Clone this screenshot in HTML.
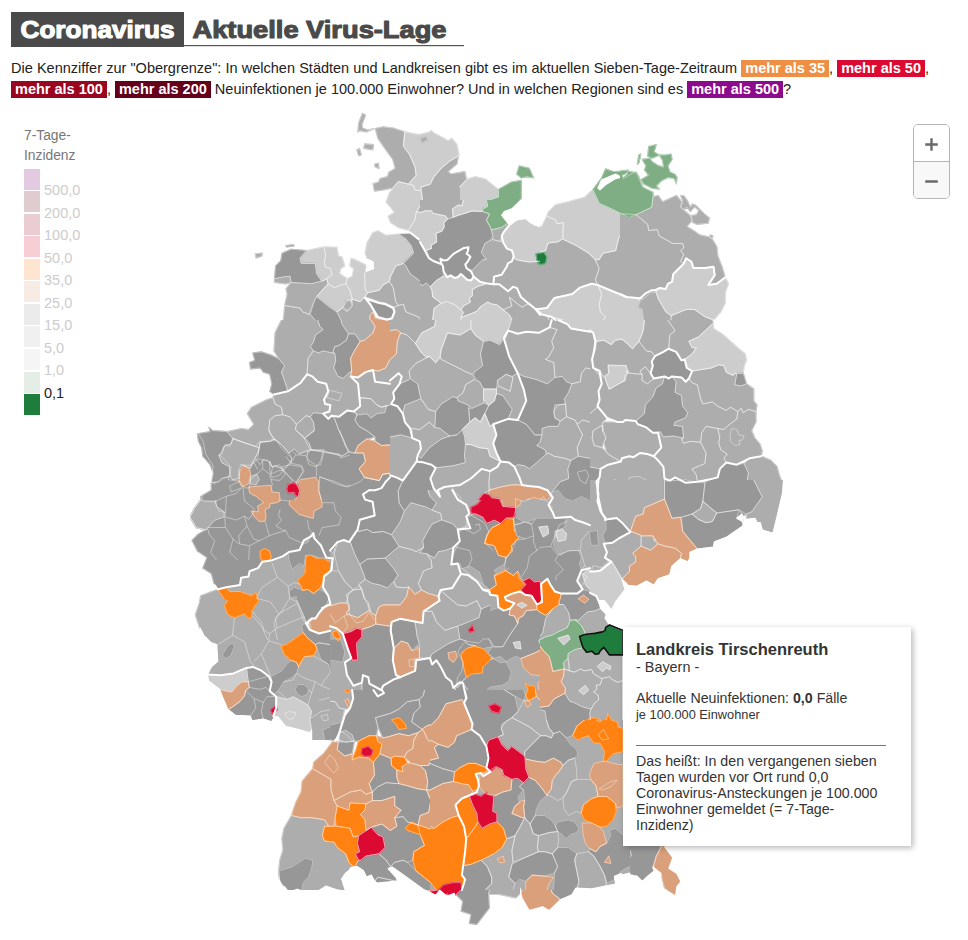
<!DOCTYPE html>
<html lang="de">
<head>
<meta charset="utf-8">
<title>Coronavirus - Aktuelle Virus-Lage</title>
<style>
html,body{margin:0;padding:0;background:#fff;}
body{width:968px;height:940px;position:relative;overflow:hidden;font-family:"Liberation Sans",sans-serif;color:#222;}
#hd{position:absolute;left:0;top:0;width:968px;height:60px;}
#intro{position:absolute;left:11px;top:58px;width:950px;font-size:14.5px;line-height:21px;color:#222;white-space:nowrap;}
#intro b{color:#fff;font-weight:bold;padding:0 4px;display:inline-block;line-height:16.5px;height:16.5px;}
.c35{background:#ef8f45;}
.c50{background:#dc0a32;}
.c100{background:#9a0520;}
.c200{background:#64001a;}
.c500{background:#8c0a8c;}
#legend{position:absolute;left:24px;top:126px;font-size:13.8px;color:#777;line-height:20.4px;}
#legend .t{position:absolute;left:0;top:0;white-space:nowrap;}
#legend .sw{position:absolute;left:0;width:16px;height:21px;}
#legend .lb{position:absolute;left:20px;font-size:14.5px;color:#ccc;white-space:nowrap;line-height:16px;}
#zoom{position:absolute;left:913px;top:124px;width:35px;height:73px;border:1px solid #b4b4b4;border-radius:5px;background:#fff;overflow:hidden;}
#zoom .a{position:absolute;left:0;top:0;width:35px;height:36px;background:#fff;border-bottom:1px solid #b4b4b4;}
#zoom .b{position:absolute;left:0;top:37px;width:35px;height:36px;background:#f8f8f8;}
#map{position:absolute;left:0;top:0;width:968px;height:940px;}
#tip{position:absolute;left:623px;top:627px;width:288px;height:219px;background:#fff;box-shadow:2px 2px 6px rgba(0,0,0,0.28);color:#333;font-size:14px;line-height:16px;}
#tip .h{position:absolute;left:13px;top:12px;font-size:16.5px;font-weight:bold;color:#333;white-space:nowrap;line-height:20px;}
#tip .s{position:absolute;left:13px;top:32px;font-size:14.4px;white-space:nowrap;line-height:16px;}
#tip .n{position:absolute;left:13px;top:63.4px;font-size:14.2px;white-space:nowrap;line-height:16px;}
#tip .n2{position:absolute;left:13px;top:79.9px;font-size:12.8px;white-space:nowrap;line-height:16px;}
#tip .hr{position:absolute;left:13px;top:118px;width:250px;height:1px;background:#777;}
#tip .d{position:absolute;left:13px;top:125.8px;width:250px;font-size:14.2px;line-height:16.1px;}
</style>
</head>
<body>
<svg id="map" width="968" height="940" viewBox="0 0 968 940">
<!--MAP-->
<clipPath id="c0"><rect x="240" y="100" width="239.98" height="239.98"/></clipPath>
<g stroke-linejoin="round" stroke-width="1.2" clip-path="url(#c0)">
<polygon points="362.5,113.3 365.6,115.3 362,124.3 362.5,128.1 367.6,130.1 374,128.6 366.4,131.9 360,130.6 357.9,131.9 358.7,123" fill="#adadad" stroke="#adadad"/>
<polygon points="364.6,143.9 373.5,144.7 372.8,149.8 363.8,148.5" fill="#adadad" stroke="#adadad"/>
<polygon points="356.9,149.8 359.5,148.5 361.3,154.9 358.7,155.7" fill="#adadad" stroke="#adadad"/>
<polygon points="374.5,164.3 378.4,163.1 379.1,168.4 375.3,166.9" fill="#adadad" stroke="#adadad"/>
<polygon points="255.3,253.9 262.5,253.2 261.7,256.2 256.1,257.8" fill="#adadad" stroke="#adadad"/>
<polygon points="375.3,128.6 383,126.8 393.2,128.1 404.7,131.9 403.4,146 409.8,154.9 414.9,166.4 416.2,175.3 408.5,184.2 398.3,181.7 391.9,188.1 383,189.9 374.5,191.1 373,183.7 378.6,182.2 379.9,178.6 387.6,176.6 388.8,172.2 395.2,168.4 392.7,159.2 386.8,151.1 377.9,138.3" fill="#adadad" stroke="#adadad"/>
<polygon points="421.3,186.8 430.2,184.2 434,176.6 441.7,167.7 449.3,161.3 458.3,156.7 457,163.8 448.1,171.5 450.6,174 464.7,171.5 465.9,176.6 462.1,181.7 459.6,186.8 464.7,193.2 464.7,202.1 458.3,205.9 453.2,207.2 451.9,216.2 446.8,217.4 444.2,214.9 434,212.3 427.6,211.1 416.2,212.3 422.5,202.1 421.3,190.6" fill="#adadad" stroke="#adadad"/>
<polygon points="403.4,263.4 405.9,265.9 409.8,273.6 418.7,280 426.4,286.4 430.2,283.8 434,294 441.7,303 439.1,308.1 434,311.9 435.3,324.7 428.9,328.5 422.5,323.4 418.7,317 405.9,311.9 403.4,304.2 398.3,305.5 395.7,301.7 393.2,287.6 389.3,281.3 390.6,276.2 395.7,265.9" fill="#adadad" stroke="#adadad"/>
<polygon points="367.6,292.7 379.1,290.2 383,285.1 389.3,281.3 393.2,287.6 395.7,301.7 398.3,305.5 393.2,306.8 385.5,303 379.1,301.7 365.1,296.6" fill="#adadad" stroke="#adadad"/>
<polygon points="393.2,308.1 398.3,305.5 403.4,304.2 405.9,311.9 418.7,317 422.5,323.4 421.3,329.8 416.2,332.3 411,340 400.8,340 399.6,332.3 390.6,324.7 391.9,318.3 394.5,311.9" fill="#adadad" stroke="#adadad"/>
<polygon points="462.1,311.9 469.8,304.2 480,301.7 480,317 471,322.1 462.1,317" fill="#adadad" stroke="#adadad"/>
<polygon points="274.5,278.7 280.8,277.4 289.8,276.2 291.1,282.5 286,283.8 274.5,282.5" fill="#adadad" stroke="#adadad"/>
<polygon points="291.1,282.5 311.5,283.8 321.7,281.3 326.8,278.7 328.1,283.8 316.6,296.6 314,301.7 308.9,314.4 302.5,311.9 300,308.1 284.7,305.5 287.2,294 286,288.9" fill="#adadad" stroke="#adadad"/>
<polygon points="352.3,299.1 360,301.7 365.1,296.6 370.2,304.2 374,310.6 369.7,315.7 370.2,321.6 374,322.1 372.8,334.9 367.6,340 352.3,340 348.5,332.3 340.8,329.8 340.8,319.6 337,311.9 342.1,308.1 347.2,311.9 352.3,305.5" fill="#adadad" stroke="#adadad"/>
<polygon points="284.7,305.5 300,308.1 302.5,311.9 308.9,314.4 310.2,314.4 316.6,322.1 317.9,329.8 314,340 275.7,340 278.3,329.8 283.4,319.6" fill="#adadad" stroke="#adadad"/>
<polygon points="286,245.5 293.6,244.8 294.1,246 286.5,246.8" fill="#979797" stroke="#979797"/>
<polygon points="404.7,131.9 418.7,134.5 427.6,132.7 431.5,130.6 433.3,132.7 441.7,137 448.1,140.8 451.9,138.3 457,144.7 459,154.9 449.3,161.3 441.7,167.7 434,176.6 430.2,184.2 421.3,186.8 420,190.6 414.9,189.9 413.6,185.5 408.5,184.2 416.2,175.3 414.9,166.4 409.8,154.9 403.4,146" fill="#cdcdcd" stroke="#cdcdcd"/>
<polygon points="398.3,181.7 408.5,184.2 413.6,185.5 414.9,189.9 420,190.6 421.3,190.6 422.5,202.1 416.2,212.3 414.9,220 408.5,230.2 398.3,227.6 390.6,222.5 388.1,216.2 394.5,212.3 390.6,207.2 386,202.1 389.3,193.2" fill="#cdcdcd" stroke="#cdcdcd"/>
<polygon points="416.2,212.3 427.6,211.1 434,212.3 444.2,214.9 446.8,217.4 444.2,225.1 445.5,230.2 441.7,231.5 436.6,239.1 431.5,248.1 426.4,249.3 418.7,239.1 409.8,232.2 408.5,230.2 414.9,220" fill="#cdcdcd" stroke="#cdcdcd"/>
<polygon points="446.8,217.4 451.9,216.2 453.2,207.2 458.3,205.9 464.7,202.1 480,209.8 480,232.8 469.8,240.4 464.7,246.8 457,248.1 444.2,258.3 440.4,263.4 434,259.6 426.4,249.3 431.5,248.1 436.6,239.1 441.7,231.5 445.5,230.2 444.2,225.1" fill="#979797" stroke="#979797"/>
<polygon points="441.7,259.6 444.2,263.4 449.3,258.3 457,253.2 464.7,248.1 467.2,253.2 465.9,263.4 469.8,271 473.6,278.7 464.7,276.2 459.6,274.9 455.7,278.7 450.6,274.9 448.1,277.4 443,268.5" fill="#979797" stroke="#979797"/>
<polygon points="464.7,246.8 469.8,240.4 480,232.8 480,273.6 473.6,278.7 469.8,271 465.9,263.4 467.2,253.2" fill="#979797" stroke="#979797"/>
<polygon points="377.9,230.7 385.5,235.3 398.3,234 405.9,239.1 411,245.5 413.6,253.2 405.9,260.8 403.4,263.4 395.7,265.9 390.6,276.2 389.3,281.3 383,285.1 379.1,290.2 367.6,292.7 365.1,288.9 364.6,273.6 366.4,271 373.3,268.5 372.8,262.1 367.6,259.6 365.1,253.2 366.9,243 372.8,232.8" fill="#cdcdcd" stroke="#cdcdcd"/>
<polygon points="398.3,234 409.8,232.8 418.7,239.9 426.4,250.6 434,260.3 441.7,264.7 443,269.8 436.6,276.2 430.2,283.8 426.4,286.4 418.7,280 409.8,273.6 405.9,265.9 403.4,263.4 405.9,260.8 413.6,253.2 411,245.5 405.9,239.1" fill="#979797" stroke="#979797"/>
<polygon points="443,269.8 448.1,277.4 450.6,274.9 455.7,278.7 459.6,274.9 464.7,276.2 473.6,280 480,278.7 480,301.7 469.8,304.2 462.1,311.9 457,306.8 449.3,301.7 441.7,303 434,294 430.2,283.8 436.6,276.2" fill="#cdcdcd" stroke="#cdcdcd"/>
<polygon points="365.1,297.9 367.6,299.1 379.1,303 385.5,304.2 393.2,308.1 394.5,311.9 391.9,318.3 386.8,319.6 377.9,317 374,310.6 370.2,304.2" fill="#979797" stroke="#979797"/>
<polygon points="441.7,303 449.3,301.7 457,306.8 462.1,311.9 462.1,317 471,322.1 469.8,329.8 474.9,340 418.7,340 422.5,329.8 428.9,328.5 435.3,324.7 434,311.9 439.1,308.1" fill="#cdcdcd" stroke="#cdcdcd"/>
<polygon points="351.1,258.3 354.9,259.6 362.5,263.4 367.6,265.9 366.4,271 364.6,273.6 365.1,288.9 367.6,292.7 365.1,296.6 360,301.7 352.3,299.1 349.8,290.2 345.9,283.8 347.2,278.7 352.3,276.2 353.6,268.5 349.8,265.9" fill="#cdcdcd" stroke="#cdcdcd"/>
<polygon points="324.2,246.8 337,247.3 338.3,255.7 342.1,257 344.7,265.9 340.8,268.5 339.6,273.6 347.2,278.7 345.9,283.8 340.8,285.1 334.5,287.6 328.1,283.8 326.8,278.7 331.9,274.9 330.6,268.5 325.5,267.2 324.2,263.4 325.5,255.7" fill="#cdcdcd" stroke="#cdcdcd"/>
<polygon points="306.4,250.6 324.2,246.8 325.5,255.7 324.2,263.4 325.5,267.2 330.6,268.5 331.9,274.9 326.8,278.7 321.7,281.3 316.6,273.6 315.3,263.4 301.3,263.4 300,258.3" fill="#cdcdcd" stroke="#cdcdcd"/>
<polygon points="274.5,278.7 275.7,265.9 280.8,260.8 282.1,253.2 291.1,249.3 306.4,250.6 300,258.3 301.3,263.4 315.3,263.4 316.6,273.6 321.7,281.3 311.5,283.8 291.1,282.5 289.8,276.2 280.8,277.4" fill="#979797" stroke="#979797"/>
<polygon points="328.1,283.8 334.5,287.6 340.8,285.1 345.9,283.8 349.8,290.2 352.3,299.1 347.2,300.4 342.1,308.1 337,311.9 329.4,306.8 316.6,296.6" fill="#cdcdcd" stroke="#cdcdcd"/>
<polygon points="314,301.7 316.6,296.6 329.4,306.8 337,311.9 340.8,319.6 340.8,329.8 348.5,332.3 352.3,340 314,340 317.9,329.8 316.6,322.1 310.2,314.4" fill="#979797" stroke="#979797"/>
<polygon points="420,138.3 426.4,136.3 427.6,140.3 421.8,142.9" fill="#adadad" stroke="#adadad"/>
<polygon points="344.7,301.2 349.8,300.4 352.3,305.5 348.5,310.6 343.4,308.1" fill="#adadad" stroke="#adadad"/>
<polygon points="372.8,311.9 375.3,318.3 386.8,320.8 390.6,324.7 399.6,332.3 394.5,336.2 390.6,333.6 388.1,340 367.6,340 372.8,334.9 374,322.1 370.2,321.6 369.7,315.7" fill="#d9a07b" stroke="#d9a07b"/>
</g>
<path d="M362.5,113.3L365.6,115.3L362,124.3L362.5,128.1L367.6,130.1L374,128.6L366.4,131.9L360,130.6L357.9,131.9L358.7,123L362.5,113.3M364.6,143.9L373.5,144.7L372.8,149.8L363.8,148.5L364.6,143.9M356.9,149.8L359.5,148.5L361.3,154.9L358.7,155.7L356.9,149.8M374.5,164.3L378.4,163.1L379.1,168.4L375.3,166.9L374.5,164.3M255.3,253.9L262.5,253.2L261.7,256.2L256.1,257.8L255.3,253.9M375.3,128.6L383,126.8L393.2,128.1L404.7,131.9L403.4,146L409.8,154.9L414.9,166.4L416.2,175.3L408.5,184.2L398.3,181.7L391.9,188.1L383,189.9L374.5,191.1L373,183.7L378.6,182.2L379.9,178.6L387.6,176.6L388.8,172.2L395.2,168.4L392.7,159.2L386.8,151.1L377.9,138.3L375.3,128.6M421.3,186.8L430.2,184.2L434,176.6L441.7,167.7L449.3,161.3L458.3,156.7L457,163.8L448.1,171.5L450.6,174L464.7,171.5L465.9,176.6L462.1,181.7L459.6,186.8L464.7,193.2L464.7,202.1L458.3,205.9L453.2,207.2L451.9,216.2L446.8,217.4L444.2,214.9L434,212.3L427.6,211.1L416.2,212.3L422.5,202.1L421.3,190.6L421.3,186.8M403.4,263.4L405.9,265.9L409.8,273.6L418.7,280L426.4,286.4L430.2,283.8L434,294L441.7,303L439.1,308.1L434,311.9L435.3,324.7L428.9,328.5L422.5,323.4L418.7,317L405.9,311.9L403.4,304.2L398.3,305.5L395.7,301.7L393.2,287.6L389.3,281.3L390.6,276.2L395.7,265.9L403.4,263.4M367.6,292.7L379.1,290.2L383,285.1L389.3,281.3L393.2,287.6L395.7,301.7L398.3,305.5L393.2,306.8L385.5,303L379.1,301.7L365.1,296.6L367.6,292.7M393.2,308.1L398.3,305.5L403.4,304.2L405.9,311.9L418.7,317L422.5,323.4L421.3,329.8L416.2,332.3L411,340M400.8,340L399.6,332.3L390.6,324.7L391.9,318.3L394.5,311.9L393.2,308.1M462.1,311.9L469.8,304.2L480,301.7M480,317L471,322.1L462.1,317L462.1,311.9M274.5,278.7L280.8,277.4L289.8,276.2L291.1,282.5L286,283.8L274.5,282.5L274.5,278.7M291.1,282.5L311.5,283.8L321.7,281.3L326.8,278.7L328.1,283.8L316.6,296.6L314,301.7L308.9,314.4L302.5,311.9L300,308.1L284.7,305.5L287.2,294L286,288.9L291.1,282.5M352.3,299.1L360,301.7L365.1,296.6L370.2,304.2L374,310.6L369.7,315.7L370.2,321.6L374,322.1L372.8,334.9L367.6,340M352.3,340L348.5,332.3L340.8,329.8L340.8,319.6L337,311.9L342.1,308.1L347.2,311.9L352.3,305.5L352.3,299.1M284.7,305.5L300,308.1L302.5,311.9L308.9,314.4L310.2,314.4L316.6,322.1L317.9,329.8L314,340M275.7,340L278.3,329.8L283.4,319.6L284.7,305.5M286,245.5L293.6,244.8L294.1,246L286.5,246.8L286,245.5M404.7,131.9L418.7,134.5L427.6,132.7L431.5,130.6L433.3,132.7L441.7,137L448.1,140.8L451.9,138.3L457,144.7L459,154.9L449.3,161.3L441.7,167.7L434,176.6L430.2,184.2L421.3,186.8L420,190.6L414.9,189.9L413.6,185.5L408.5,184.2L416.2,175.3L414.9,166.4L409.8,154.9L403.4,146L404.7,131.9M398.3,181.7L408.5,184.2L413.6,185.5L414.9,189.9L420,190.6L421.3,190.6L422.5,202.1L416.2,212.3L414.9,220L408.5,230.2L398.3,227.6L390.6,222.5L388.1,216.2L394.5,212.3L390.6,207.2L386,202.1L389.3,193.2L398.3,181.7M416.2,212.3L427.6,211.1L434,212.3L444.2,214.9L446.8,217.4L444.2,225.1L445.5,230.2L441.7,231.5L436.6,239.1L431.5,248.1L426.4,249.3L418.7,239.1L409.8,232.2L408.5,230.2L414.9,220L416.2,212.3M446.8,217.4L451.9,216.2L453.2,207.2L458.3,205.9L464.7,202.1L480,209.8M480,232.8L469.8,240.4L464.7,246.8L457,248.1L444.2,258.3L440.4,263.4L434,259.6L426.4,249.3L431.5,248.1L436.6,239.1L441.7,231.5L445.5,230.2L444.2,225.1L446.8,217.4M441.7,259.6L444.2,263.4L449.3,258.3L457,253.2L464.7,248.1L467.2,253.2L465.9,263.4L469.8,271L473.6,278.7L464.7,276.2L459.6,274.9L455.7,278.7L450.6,274.9L448.1,277.4L443,268.5L441.7,259.6M464.7,246.8L469.8,240.4L480,232.8M480,273.6L473.6,278.7L469.8,271L465.9,263.4L467.2,253.2L464.7,246.8M377.9,230.7L385.5,235.3L398.3,234L405.9,239.1L411,245.5L413.6,253.2L405.9,260.8L403.4,263.4L395.7,265.9L390.6,276.2L389.3,281.3L383,285.1L379.1,290.2L367.6,292.7L365.1,288.9L364.6,273.6L366.4,271L373.3,268.5L372.8,262.1L367.6,259.6L365.1,253.2L366.9,243L372.8,232.8L377.9,230.7M398.3,234L409.8,232.8L418.7,239.9L426.4,250.6L434,260.3L441.7,264.7L443,269.8L436.6,276.2L430.2,283.8L426.4,286.4L418.7,280L409.8,273.6L405.9,265.9L403.4,263.4L405.9,260.8L413.6,253.2L411,245.5L405.9,239.1L398.3,234M443,269.8L448.1,277.4L450.6,274.9L455.7,278.7L459.6,274.9L464.7,276.2L473.6,280L480,278.7M480,301.7L469.8,304.2L462.1,311.9L457,306.8L449.3,301.7L441.7,303L434,294L430.2,283.8L436.6,276.2L443,269.8M365.1,297.9L367.6,299.1L379.1,303L385.5,304.2L393.2,308.1L394.5,311.9L391.9,318.3L386.8,319.6L377.9,317L374,310.6L370.2,304.2L365.1,297.9M441.7,303L449.3,301.7L457,306.8L462.1,311.9L462.1,317L471,322.1L469.8,329.8L474.9,340M418.7,340L422.5,329.8L428.9,328.5L435.3,324.7L434,311.9L439.1,308.1L441.7,303M351.1,258.3L354.9,259.6L362.5,263.4L367.6,265.9L366.4,271L364.6,273.6L365.1,288.9L367.6,292.7L365.1,296.6L360,301.7L352.3,299.1L349.8,290.2L345.9,283.8L347.2,278.7L352.3,276.2L353.6,268.5L349.8,265.9L351.1,258.3M324.2,246.8L337,247.3L338.3,255.7L342.1,257L344.7,265.9L340.8,268.5L339.6,273.6L347.2,278.7L345.9,283.8L340.8,285.1L334.5,287.6L328.1,283.8L326.8,278.7L331.9,274.9L330.6,268.5L325.5,267.2L324.2,263.4L325.5,255.7L324.2,246.8M306.4,250.6L324.2,246.8L325.5,255.7L324.2,263.4L325.5,267.2L330.6,268.5L331.9,274.9L326.8,278.7L321.7,281.3L316.6,273.6L315.3,263.4L301.3,263.4L300,258.3L306.4,250.6M274.5,278.7L275.7,265.9L280.8,260.8L282.1,253.2L291.1,249.3L306.4,250.6L300,258.3L301.3,263.4L315.3,263.4L316.6,273.6L321.7,281.3L311.5,283.8L291.1,282.5L289.8,276.2L280.8,277.4L274.5,278.7M328.1,283.8L334.5,287.6L340.8,285.1L345.9,283.8L349.8,290.2L352.3,299.1L347.2,300.4L342.1,308.1L337,311.9L329.4,306.8L316.6,296.6L328.1,283.8M314,301.7L316.6,296.6L329.4,306.8L337,311.9L340.8,319.6L340.8,329.8L348.5,332.3L352.3,340M314,340L317.9,329.8L316.6,322.1L310.2,314.4L314,301.7M420,138.3L426.4,136.3L427.6,140.3L421.8,142.9L420,138.3M344.7,301.2L349.8,300.4L352.3,305.5L348.5,310.6L343.4,308.1L344.7,301.2M372.8,311.9L375.3,318.3L386.8,320.8L390.6,324.7L399.6,332.3L394.5,336.2L390.6,333.6L388.1,340M367.6,340L372.8,334.9L374,322.1L370.2,321.6L369.7,315.7L372.8,311.9" fill="none" stroke="#fff" stroke-opacity="0.5" stroke-width="0.8" stroke-linejoin="round"/>
<clipPath id="c1"><rect x="460" y="100" width="239.98" height="239.98"/></clipPath>
<g stroke-linejoin="round" stroke-width="1.2" clip-path="url(#c1)">
<polygon points="460,172.8 464.6,171.5 466.4,179.1 460,186.8" fill="#adadad" stroke="#adadad"/>
<polygon points="491.9,232.8 500.8,240.4 503.4,248.1 512.3,253.2 511.1,263.4 502.1,268.5 494.5,276.2 493.2,282.5 484.3,283.8 471.5,278.7 467.7,269.8 471.5,268.5 475.3,265.9 480.4,258.3 486.8,250.6 485.5,243 488.1,237.9" fill="#adadad" stroke="#adadad"/>
<polygon points="490.6,228.9 504.7,225.1 507.2,227.6 502.1,237.9 500.8,240.4 491.9,232.8" fill="#adadad" stroke="#adadad"/>
<polygon points="494.5,276.2 502.1,268.5 511.1,263.4 512.3,253.2 514.9,257 521.3,260.8 535.3,260.8 536.6,253.2 545.5,250.6 548.1,243 558.3,241.7 562.1,239.1 576.2,245.5 588.9,253.2 595.3,259.6 599.1,268.5 595.3,280 597.9,285.1 591.5,283.8 580,287.6 572.3,294 554.5,297.9 546.8,308.1 536.6,309.3 527.7,304.2 514.9,287.6 508.5,290.2 504.7,287.6 493.2,282.5" fill="#adadad" stroke="#adadad"/>
<polygon points="595.3,259.6 599.1,259.6 603,253.2 615.7,250.6 618.3,239.1 624.7,225.1 625.9,216.2 628.5,217.4 636.2,213.6 647.6,227.6 651.5,232.8 656.6,230.2 660.4,237.9 669.3,243 678.3,245.5 682.1,253.2 679.6,263.4 671.9,273.6 669.3,283.8 656.6,290.2 648.9,297.9 638.7,299.1 625.9,296.6 613.2,291.5 597.9,285.1 595.3,280 599.1,268.5" fill="#adadad" stroke="#adadad"/>
<polygon points="638.7,299.1 648.9,297.9 656.6,290.2 659.1,301.7 664.2,306.8 671.9,317 666.8,324.7 671.9,340 641.3,340 643.8,329.8 642.5,322.1 643.8,311.9" fill="#adadad" stroke="#adadad"/>
<polygon points="671.9,317 682.1,311.9 689.8,308.1 700,311.9 700,340 671.9,340 666.8,324.7" fill="#adadad" stroke="#adadad"/>
<polygon points="471.5,287.6 484.3,283.8 493.2,282.5 504.7,287.6 508.5,290.2 514.9,287.6 527.7,304.2 521.3,306.8 511.1,301.7 506,309.3 502.1,306.8 493.2,301.7 485.5,301.7 475.3,306.8 470.2,317 460,317 460,301.7 470.2,296.6" fill="#adadad" stroke="#adadad"/>
<polygon points="506,309.3 511.1,301.7 521.3,306.8 527.7,304.2 536.6,309.3 541.7,314.4 548.1,317 549.4,327.2 539.1,329.8 528.9,327.2 518.7,332.3 511.1,329.8 509.8,322.1" fill="#adadad" stroke="#adadad"/>
<polygon points="507.2,334.9 509.8,322.1 511.1,329.8 518.7,332.3 528.9,327.2 539.1,329.8 549.4,327.2 557,334.9 554.5,340 500.8,340" fill="#adadad" stroke="#adadad"/>
<polygon points="548.1,317 551.9,317 562.1,319.6 572.3,325.9 580,332.3 590.2,331 603,334.9 613.2,338.7 623.4,340 554.5,340 557,334.9 549.4,327.2" fill="#adadad" stroke="#adadad"/>
<polygon points="460,186.8 467.7,179.1 475.3,176.6 485.5,179.1 498.3,189.4 498.3,197 486.8,200.8 487.6,207.2 483,208.5 482.5,212.3 475.3,212.3 460,207.2" fill="#cdcdcd" stroke="#cdcdcd"/>
<polygon points="460,209.8 475.3,212.3 482.5,212.3 490.1,213.6 488.6,220 490.6,228.9 491.9,232.8 488.1,237.9 485.5,243 486.8,250.6 480.4,258.3 475.3,265.9 471.5,268.5 467.7,276.2 460,278.7" fill="#979797" stroke="#979797"/>
<polygon points="502.1,237.9 507.2,227.6 512.3,222.5 526.4,218.7 531.5,225.1 541.7,226.4 546.8,216.2 555.7,220 557,223.8 563.4,222.5 562.1,239.1 558.3,241.7 548.1,243 545.5,250.6 536.6,253.2 535.3,260.8 521.3,260.8 514.9,257 512.3,253.2 503.4,248.1" fill="#cdcdcd" stroke="#cdcdcd"/>
<polygon points="548.1,212.3 555.7,204.7 567.2,202.1 585.1,197 590.2,191.9 592.8,189.9 599.1,203.4 613.2,209.8 625.9,216.2 624.7,225.1 618.3,239.1 615.7,250.6 603,253.2 599.1,259.6 595.3,259.6 588.9,253.2 576.2,245.5 563.4,239.1 563.4,222.5 557,223.8 555.7,220 546.8,216.2" fill="#cdcdcd" stroke="#cdcdcd"/>
<polygon points="682.1,253.2 687.2,258.3 693.6,265.9 700,263.4 700,311.9 689.8,308.1 682.1,311.9 671.9,317 664.2,306.8 659.1,301.7 656.6,290.2 669.3,283.8 671.9,273.6 679.6,263.4" fill="#cdcdcd" stroke="#cdcdcd"/>
<polygon points="546.8,308.1 554.5,297.9 572.3,294 580,287.6 591.5,283.8 597.9,285.1 601.7,294 599.1,304.2 600.4,311.9 605.5,317 601.7,322.1 595.3,329.8 590.2,331 580,332.3 572.3,325.9 562.1,319.6 551.9,317 541.7,314.4 536.6,309.3" fill="#cdcdcd" stroke="#cdcdcd"/>
<polygon points="597.9,285.1 613.2,291.5 625.9,296.6 638.7,299.1 643.8,311.9 642.5,322.1 643.8,329.8 641.3,340 623.4,340 613.2,338.7 603,334.9 590.2,331 595.3,329.8 601.7,322.1 605.5,317 600.4,311.9 599.1,304.2 601.7,294" fill="#cdcdcd" stroke="#cdcdcd"/>
<polygon points="470.2,317 475.3,306.8 485.5,301.7 493.2,301.7 502.1,306.8 506,309.3 509.8,322.1 507.2,334.9 500.8,340 472.8,340 470.2,329.8" fill="#cdcdcd" stroke="#cdcdcd"/>
<polygon points="460,317 470.2,317 470.2,329.8 472.8,340 460,340" fill="#cdcdcd" stroke="#cdcdcd"/>
<polygon points="519.2,165.9 529.4,168.4 533.5,177.9 526.9,176.6 521.3,177.9 516.7,174" fill="#7fae84" stroke="#7fae84"/>
<polygon points="498.3,189.4 511.1,182.2 521.3,180.4 521.3,198.3 512.3,207.2 503.4,214.9 508.5,220 504.7,225.1 490.6,228.9 488.6,220 490.1,213.6 482.5,212.3 483,208.5 487.6,207.2 486.8,200.8 498.3,197" fill="#7fae84" stroke="#7fae84"/>
<polygon points="592.8,189.9 601.7,177.9 605.5,168.9 613.2,171.5 627.2,171 636.2,172.8 638.7,176.6 643.8,189.4 652.7,194.5 651.5,202.1 647.6,209.8 636.2,213.6 628.5,217.4 613.2,209.8 599.1,203.4" fill="#7fae84" stroke="#7fae84"/>
<polygon points="536.1,253.7 543.7,252.4 546.8,257 545.5,263.4 540.4,264.7 537.9,258.3" fill="#1e7d3c" stroke="#1e7d3c"/>
<polygon points="597.9,188.1 601.7,179.7 615.7,174 620.8,177.1 627.2,173.3 623.4,176.6 615.7,178.6 605.5,184.8 599.9,189.9" fill="#ffffff" stroke="#ffffff"/>
</g>
<path d="M460,172.8L464.6,171.5L466.4,179.1L460,186.8M460,172.8M491.9,232.8L500.8,240.4L503.4,248.1L512.3,253.2L511.1,263.4L502.1,268.5L494.5,276.2L493.2,282.5L484.3,283.8L471.5,278.7L467.7,269.8L471.5,268.5L475.3,265.9L480.4,258.3L486.8,250.6L485.5,243L488.1,237.9L491.9,232.8M490.6,228.9L504.7,225.1L507.2,227.6L502.1,237.9L500.8,240.4L491.9,232.8L490.6,228.9M494.5,276.2L502.1,268.5L511.1,263.4L512.3,253.2L514.9,257L521.3,260.8L535.3,260.8L536.6,253.2L545.5,250.6L548.1,243L558.3,241.7L562.1,239.1L576.2,245.5L588.9,253.2L595.3,259.6L599.1,268.5L595.3,280L597.9,285.1L591.5,283.8L580,287.6L572.3,294L554.5,297.9L546.8,308.1L536.6,309.3L527.7,304.2L514.9,287.6L508.5,290.2L504.7,287.6L493.2,282.5L494.5,276.2M595.3,259.6L599.1,259.6L603,253.2L615.7,250.6L618.3,239.1L624.7,225.1L625.9,216.2L628.5,217.4L636.2,213.6L647.6,227.6L651.5,232.8L656.6,230.2L660.4,237.9L669.3,243L678.3,245.5L682.1,253.2L679.6,263.4L671.9,273.6L669.3,283.8L656.6,290.2L648.9,297.9L638.7,299.1L625.9,296.6L613.2,291.5L597.9,285.1L595.3,280L599.1,268.5L595.3,259.6M638.7,299.1L648.9,297.9L656.6,290.2L659.1,301.7L664.2,306.8L671.9,317L666.8,324.7L671.9,340M641.3,340L643.8,329.8L642.5,322.1L643.8,311.9L638.7,299.1M671.9,317L682.1,311.9L689.8,308.1L700,311.9M700,340M671.9,340L666.8,324.7L671.9,317M471.5,287.6L484.3,283.8L493.2,282.5L504.7,287.6L508.5,290.2L514.9,287.6L527.7,304.2L521.3,306.8L511.1,301.7L506,309.3L502.1,306.8L493.2,301.7L485.5,301.7L475.3,306.8L470.2,317L460,317M460,301.7L470.2,296.6L471.5,287.6M506,309.3L511.1,301.7L521.3,306.8L527.7,304.2L536.6,309.3L541.7,314.4L548.1,317L549.4,327.2L539.1,329.8L528.9,327.2L518.7,332.3L511.1,329.8L509.8,322.1L506,309.3M507.2,334.9L509.8,322.1L511.1,329.8L518.7,332.3L528.9,327.2L539.1,329.8L549.4,327.2L557,334.9L554.5,340M500.8,340L507.2,334.9M548.1,317L551.9,317L562.1,319.6L572.3,325.9L580,332.3L590.2,331L603,334.9L613.2,338.7L623.4,340M554.5,340L557,334.9L549.4,327.2L548.1,317M460,186.8L467.7,179.1L475.3,176.6L485.5,179.1L498.3,189.4L498.3,197L486.8,200.8L487.6,207.2L483,208.5L482.5,212.3L475.3,212.3L460,207.2M460,186.8M460,209.8L475.3,212.3L482.5,212.3L490.1,213.6L488.6,220L490.6,228.9L491.9,232.8L488.1,237.9L485.5,243L486.8,250.6L480.4,258.3L475.3,265.9L471.5,268.5L467.7,276.2L460,278.7M460,209.8M502.1,237.9L507.2,227.6L512.3,222.5L526.4,218.7L531.5,225.1L541.7,226.4L546.8,216.2L555.7,220L557,223.8L563.4,222.5L562.1,239.1L558.3,241.7L548.1,243L545.5,250.6L536.6,253.2L535.3,260.8L521.3,260.8L514.9,257L512.3,253.2L503.4,248.1L502.1,237.9M548.1,212.3L555.7,204.7L567.2,202.1L585.1,197L590.2,191.9L592.8,189.9L599.1,203.4L613.2,209.8L625.9,216.2L624.7,225.1L618.3,239.1L615.7,250.6L603,253.2L599.1,259.6L595.3,259.6L588.9,253.2L576.2,245.5L563.4,239.1L563.4,222.5L557,223.8L555.7,220L546.8,216.2L548.1,212.3M682.1,253.2L687.2,258.3L693.6,265.9L700,263.4M700,311.9L689.8,308.1L682.1,311.9L671.9,317L664.2,306.8L659.1,301.7L656.6,290.2L669.3,283.8L671.9,273.6L679.6,263.4L682.1,253.2M546.8,308.1L554.5,297.9L572.3,294L580,287.6L591.5,283.8L597.9,285.1L601.7,294L599.1,304.2L600.4,311.9L605.5,317L601.7,322.1L595.3,329.8L590.2,331L580,332.3L572.3,325.9L562.1,319.6L551.9,317L541.7,314.4L536.6,309.3L546.8,308.1M597.9,285.1L613.2,291.5L625.9,296.6L638.7,299.1L643.8,311.9L642.5,322.1L643.8,329.8L641.3,340M623.4,340L613.2,338.7L603,334.9L590.2,331L595.3,329.8L601.7,322.1L605.5,317L600.4,311.9L599.1,304.2L601.7,294L597.9,285.1M470.2,317L475.3,306.8L485.5,301.7L493.2,301.7L502.1,306.8L506,309.3L509.8,322.1L507.2,334.9L500.8,340M472.8,340L470.2,329.8L470.2,317M460,317L470.2,317L470.2,329.8L472.8,340M460,340M460,317M519.2,165.9L529.4,168.4L533.5,177.9L526.9,176.6L521.3,177.9L516.7,174L519.2,165.9M498.3,189.4L511.1,182.2L521.3,180.4L521.3,198.3L512.3,207.2L503.4,214.9L508.5,220L504.7,225.1L490.6,228.9L488.6,220L490.1,213.6L482.5,212.3L483,208.5L487.6,207.2L486.8,200.8L498.3,197L498.3,189.4M592.8,189.9L601.7,177.9L605.5,168.9L613.2,171.5L627.2,171L636.2,172.8L638.7,176.6L643.8,189.4L652.7,194.5L651.5,202.1L647.6,209.8L636.2,213.6L628.5,217.4L613.2,209.8L599.1,203.4L592.8,189.9M536.1,253.7L543.7,252.4L546.8,257L545.5,263.4L540.4,264.7L537.9,258.3L536.1,253.7" fill="none" stroke="#fff" stroke-opacity="0.5" stroke-width="0.8" stroke-linejoin="round"/>
<clipPath id="c2"><rect x="620" y="120" width="200" height="200"/></clipPath>
<g stroke-linejoin="round" stroke-width="1.2" clip-path="url(#c2)">
<polygon points="636,214.7 651.9,207.2 653,196.6 658.3,195.5 662.6,201.9 676.4,195.5 681.7,201.9 680.6,207.2 690.2,215.7 692.3,220 687,226.4 693.4,230.6 699.8,234.9 709.4,237 711.5,238.1 716.8,246.6 717.9,256.2 722.1,266.8 725.3,277.4 716.8,283.8 708.3,284.9 714.7,275.3 713.6,266.8 705.1,267.9 693.4,267.9 691.3,261.5 686,258.3 683.8,263.6 680.6,261.5 683.8,254 680.6,250.9 683.8,247.7 682.8,243.4 672.1,243.4 668.9,241.3 659.4,236 657.2,229.6 648.7,230.6 647.7,224.3" fill="#adadad" stroke="#adadad"/>
<polygon points="680.6,195.5 683.8,195.5 688.1,201.9 690.2,207.2 692.3,204 695.5,205.1 704,213.6 709.4,217.9 708.3,223.2 696.6,224.3 692.3,222.1 691.3,215.7 696.6,214.7 698.7,210.4 694.5,206.8 690.2,211.5 687,207.2 683.8,209.4 680.6,207.2 682.8,200.9" fill="#adadad" stroke="#adadad"/>
<polygon points="710.4,234.9 713.2,236 711.5,238.7 709.4,237" fill="#adadad" stroke="#adadad"/>
<polygon points="671.1,315.7 686,309.4 694.5,309.4 705.1,316.8 713.6,320 671.1,320" fill="#adadad" stroke="#adadad"/>
<polygon points="640.2,300.9 651.9,292.3 656.2,292.3 658.3,298.7 665.7,311.5 671.1,315.7 671.1,320 643.4,320 642.3,309.4 638.1,307.2" fill="#adadad" stroke="#adadad"/>
<polygon points="620,213.6 636,214.7 647.7,224.3 648.7,230.6 657.2,229.6 659.4,236 668.9,241.3 672.1,243.4 682.8,243.4 683.8,247.7 680.6,250.9 683.8,254 680.6,261.5 683.8,263.6 680.6,266.8 673.2,274.3 672.1,281.7 667.9,283.8 665.7,289.1 659.4,288.1 655.1,290.2 651.9,290.2 645.5,293.4 640.2,298.3 626.4,297 620,294" fill="#adadad" stroke="#adadad"/>
<polygon points="683.8,263.6 686,258.3 691.3,261.5 693.4,267.9 705.1,267.9 713.6,266.8 714.7,275.3 708.3,284.9 716.8,283.8 725.3,277.4 728.5,283.8 725.3,292.3 725.3,303 721.1,311.5 713.6,320 705.1,316.8 694.5,309.4 686,309.4 671.1,315.7 665.7,311.5 658.3,298.7 656.2,292.3 659.4,288.1 665.7,289.1 667.9,283.8 672.1,281.7 673.2,274.3 680.6,266.8" fill="#cdcdcd" stroke="#cdcdcd"/>
<polygon points="642.3,159.4 649.8,158.3 651.9,161.5 658.3,165.7 663.6,167.2 662.6,160.4 659.4,155.1 665.7,155.1 671.1,154 672.1,159.4 667.9,165.7 670,172.1 674.9,174.3 677,177.4 676.4,183.8 674.3,178.5 667.9,177.4 661.5,180.6 656.2,186 659.4,189.1 651.9,188.1 643.4,183.8 641.3,179.6 648.7,175.3 644.5,170 646,165.7" fill="#7fae84" stroke="#7fae84"/>
<polygon points="648.7,146.6 656.2,144.5 655.1,148.7 654,151.9 659.4,155.1 651.9,158.3 647.7,156.2" fill="#7fae84" stroke="#7fae84"/>
<polygon points="638.7,155.1 640.9,154 639.1,162.6 637.4,164.3" fill="#7fae84" stroke="#7fae84"/>
<polygon points="620,171.1 628.5,170 626.4,173.2 622.1,175.3 623.2,178.5 632.8,173.2 636,172.1 640.2,181.7 642.3,187 653,192.3 653,196.6 651.9,207.2 636,214.7 628.5,217.9 624.3,214.7 620,213.6" fill="#7fae84" stroke="#7fae84"/>
</g>
<path d="M636,214.7L651.9,207.2L653,196.6L658.3,195.5L662.6,201.9L676.4,195.5L681.7,201.9L680.6,207.2L690.2,215.7L692.3,220L687,226.4L693.4,230.6L699.8,234.9L709.4,237L711.5,238.1L716.8,246.6L717.9,256.2L722.1,266.8L725.3,277.4L716.8,283.8L708.3,284.9L714.7,275.3L713.6,266.8L705.1,267.9L693.4,267.9L691.3,261.5L686,258.3L683.8,263.6L680.6,261.5L683.8,254L680.6,250.9L683.8,247.7L682.8,243.4L672.1,243.4L668.9,241.3L659.4,236L657.2,229.6L648.7,230.6L647.7,224.3L636,214.7M680.6,195.5L683.8,195.5L688.1,201.9L690.2,207.2L692.3,204L695.5,205.1L704,213.6L709.4,217.9L708.3,223.2L696.6,224.3L692.3,222.1L691.3,215.7L696.6,214.7L698.7,210.4L694.5,206.8L690.2,211.5L687,207.2L683.8,209.4L680.6,207.2L682.8,200.9L680.6,195.5M710.4,234.9L713.2,236L711.5,238.7L709.4,237L710.4,234.9M671.1,315.7L686,309.4L694.5,309.4L705.1,316.8L713.6,320M671.1,320L671.1,315.7M640.2,300.9L651.9,292.3L656.2,292.3L658.3,298.7L665.7,311.5L671.1,315.7L671.1,320M643.4,320L642.3,309.4L638.1,307.2L640.2,300.9M620,213.6L636,214.7L647.7,224.3L648.7,230.6L657.2,229.6L659.4,236L668.9,241.3L672.1,243.4L682.8,243.4L683.8,247.7L680.6,250.9L683.8,254L680.6,261.5L683.8,263.6L680.6,266.8L673.2,274.3L672.1,281.7L667.9,283.8L665.7,289.1L659.4,288.1L655.1,290.2L651.9,290.2L645.5,293.4L640.2,298.3L626.4,297L620,294M620,213.6M683.8,263.6L686,258.3L691.3,261.5L693.4,267.9L705.1,267.9L713.6,266.8L714.7,275.3L708.3,284.9L716.8,283.8L725.3,277.4L728.5,283.8L725.3,292.3L725.3,303L721.1,311.5L713.6,320L705.1,316.8L694.5,309.4L686,309.4L671.1,315.7L665.7,311.5L658.3,298.7L656.2,292.3L659.4,288.1L665.7,289.1L667.9,283.8L672.1,281.7L673.2,274.3L680.6,266.8L683.8,263.6M642.3,159.4L649.8,158.3L651.9,161.5L658.3,165.7L663.6,167.2L662.6,160.4L659.4,155.1L665.7,155.1L671.1,154L672.1,159.4L667.9,165.7L670,172.1L674.9,174.3L677,177.4L676.4,183.8L674.3,178.5L667.9,177.4L661.5,180.6L656.2,186L659.4,189.1L651.9,188.1L643.4,183.8L641.3,179.6L648.7,175.3L644.5,170L646,165.7L642.3,159.4M648.7,146.6L656.2,144.5L655.1,148.7L654,151.9L659.4,155.1L651.9,158.3L647.7,156.2L648.7,146.6M638.7,155.1L640.9,154L639.1,162.6L637.4,164.3L638.7,155.1M620,171.1L628.5,170L626.4,173.2L622.1,175.3L623.2,178.5L632.8,173.2L636,172.1L640.2,181.7L642.3,187L653,192.3L653,196.6L651.9,207.2L636,214.7L628.5,217.9L624.3,214.7L620,213.6M620,171.1" fill="none" stroke="#fff" stroke-opacity="0.5" stroke-width="0.8" stroke-linejoin="round"/>
<clipPath id="c3"><rect x="420" y="200" width="120.005" height="120.005"/></clipPath>
<g stroke-linejoin="round" stroke-width="1.2" clip-path="url(#c3)">
<polygon points="489.6,240.9 492.8,239.6 500.4,241.5 503,242.1 506.8,248.5 511.9,250.4 513.8,256.2 511.9,261.3 508.1,263.2 506.8,266.4 501.7,274.7 494,276.6 493.4,284.3 487.7,283.6 480,281.7 473.6,276.6 471.1,271.5 472.3,270.2 482.6,260 486.4,259.4 481.3,252.3 485.1,243.4" fill="#adadad" stroke="#adadad"/>
<polygon points="491.5,230 501.7,227.4 508.1,223 509.4,224.9 504.3,231.3 501.7,235.7 500.4,241.5 492.8,239.6 492.8,235.7" fill="#adadad" stroke="#adadad"/>
<polygon points="472.3,289.4 478.1,286.2 484.5,284.3 487.7,283.6 493.4,284.3 499.2,284.3 508.1,291.3 513.2,286.8 517,288.1 520.9,297 528.5,303.4 522.1,307.2 517,303.4 509.4,297 511.9,306 503,309.8 496.6,304.7 491.5,304 487.7,302.1 480,307.2 477.4,311.1 469.8,314.3 460.9,317.5 463.4,312.3 460.9,309.8 463.4,306 470.4,302.1 469.2,298.3 472.3,295.7" fill="#adadad" stroke="#adadad"/>
<polygon points="503,309.8 511.9,306 509.4,297 517,303.4 522.1,307.2 528.5,303.4 534.9,308.5 540,314.9 540,320 511.9,320 509.4,314.9" fill="#adadad" stroke="#adadad"/>
<polygon points="420,284.3 422.6,285.5 426.4,283 430.2,286.8 432.1,290.6 432.8,297 436.6,299.6 441.1,303.4 434,308.5 432.8,320 420,320" fill="#adadad" stroke="#adadad"/>
<polygon points="513.8,256.2 515.7,259.4 520.9,260.6 528.5,261.9 540,261.3 540,314.9 534.9,308.5 528.5,303.4 520.9,297 517,288.1 513.2,286.8 508.1,291.3 499.2,284.3 493.4,284.3 494,276.6 501.7,274.7 506.8,266.4 508.1,263.2 511.9,261.3" fill="#adadad" stroke="#adadad"/>
<polygon points="420,200 463.4,200 462.1,205.7 458.3,205.1 452.6,208.9 453.2,217.2 447.4,219.1 445.5,216 432.8,213.4 431.5,210.9 425.1,210.9 420,212.8" fill="#adadad" stroke="#adadad"/>
<polygon points="440.4,258.7 443.6,260.6 447.4,260 453.8,253.6 464,247.9 468.5,247.2 467.9,251.1 466.6,253.6 470.4,256.8 467.9,261.3 465.3,264.5 466.6,268.3 471.1,271.5 473.6,276.6 471.1,280.4 467.2,279.8 460.9,274 457.7,277.2 454.5,277.9 450.6,275.3 447.4,277.2 443.6,271.5 443,266.4 441.1,262.6" fill="#979797" stroke="#979797"/>
<polygon points="443.6,223 447.4,219.1 458.3,215.3 472.3,210.9 482.6,211.5 489.6,214 486.4,220.4 489.6,225.5 491.5,230 492.8,235.7 489.6,240.9 485.1,243.4 481.3,252.3 486.4,259.4 482.6,260 472.3,270.2 466.6,268.3 465.3,264.5 467.9,261.3 470.4,256.8 466.6,253.6 467.9,251.1 468.5,247.2 464,247.9 453.8,253.6 447.4,260 443.6,260.6 440.4,258.7 440.4,263.8 434,261.3 428.9,258.1 427,249.8 431.5,248.5 430.9,245.3 436.6,242.1 436,233.2 441.7,231.3 444.3,226.8" fill="#979797" stroke="#979797"/>
<polygon points="420,242.1 425.1,251.1 428.9,258.1 434,261.3 440.4,263.8 443,266.4 443.6,271.5 443,276.6 436.6,280.4 430.2,286.8 426.4,283 422.6,285.5 420,284.3" fill="#979797" stroke="#979797"/>
<polygon points="430.2,286.8 436.6,280.4 443,276.6 447.4,277.2 450.6,275.3 454.5,277.9 457.7,277.2 460.9,274 467.2,279.8 471.1,280.4 473.6,276.6 480,281.7 484.5,284.3 478.1,286.2 472.3,289.4 472.3,295.7 469.2,298.3 470.4,302.1 463.4,306 460.9,309.8 454.5,304.7 446.8,301.5 441.1,303.4 436.6,299.6 432.8,297 432.1,290.6" fill="#cdcdcd" stroke="#cdcdcd"/>
<polygon points="434,308.5 441.1,303.4 446.8,301.5 454.5,304.7 460.9,309.8 463.4,312.3 460.9,317.5 460.9,320 432.8,320" fill="#cdcdcd" stroke="#cdcdcd"/>
<polygon points="460.9,320 460.9,317.5 469.8,314.3 477.4,311.1 480,307.2 487.7,302.1 491.5,304 496.6,304.7 503,309.8 509.4,314.9 511.9,320" fill="#cdcdcd" stroke="#cdcdcd"/>
<polygon points="508.1,226.8 511.9,223.6 517,219.8 526,218.5 529.8,222.3 534.9,224.9 540,226.8 540,261.3 528.5,261.9 520.9,260.6 515.7,259.4 513.8,256.2 511.9,250.4 506.8,248.5 503,242.1 501.7,235.7 504.3,231.3" fill="#cdcdcd" stroke="#cdcdcd"/>
<polygon points="420,212.8 425.1,210.9 431.5,210.9 432.8,213.4 445.5,216 447.4,219.1 443.6,223 444.3,226.8 441.7,231.3 436,233.2 436.6,242.1 430.9,245.3 431.5,248.5 427,249.8 425.1,251.1 420,242.1" fill="#cdcdcd" stroke="#cdcdcd"/>
<polygon points="463.4,200 486.4,200 487.7,206.4 482.6,208.9 482.6,211.5 472.3,210.9 458.3,215.3 453.2,217.2 452.6,208.9 458.3,205.1 462.1,205.7" fill="#cdcdcd" stroke="#cdcdcd"/>
<polygon points="486.4,200 520.9,200 511.9,208.9 504.3,211.5 501.7,215.3 508.1,223 501.7,227.4 491.5,230 489.6,225.5 486.4,220.4 489.6,214 482.6,211.5 482.6,208.9 487.7,206.4" fill="#7fae84" stroke="#7fae84"/>
<polygon points="536,253.9 540,253.2 540,264.2 538.5,263.8 536.8,259.4" fill="#1e7d3c" stroke="#1e7d3c"/>
<polygon points="520.9,200 540,200 540,226.8 534.9,224.9 529.8,222.3 526,218.5 517,219.8 511.9,223.6 509.4,224.9 508.1,223 501.7,215.3 504.3,211.5 511.9,208.9" fill="#ffffff" stroke="#ffffff"/>
</g>
<path d="M489.6,240.9L492.8,239.6L500.4,241.5L503,242.1L506.8,248.5L511.9,250.4L513.8,256.2L511.9,261.3L508.1,263.2L506.8,266.4L501.7,274.7L494,276.6L493.4,284.3L487.7,283.6L480,281.7L473.6,276.6L471.1,271.5L472.3,270.2L482.6,260L486.4,259.4L481.3,252.3L485.1,243.4L489.6,240.9M491.5,230L501.7,227.4L508.1,223L509.4,224.9L504.3,231.3L501.7,235.7L500.4,241.5L492.8,239.6L492.8,235.7L491.5,230M472.3,289.4L478.1,286.2L484.5,284.3L487.7,283.6L493.4,284.3L499.2,284.3L508.1,291.3L513.2,286.8L517,288.1L520.9,297L528.5,303.4L522.1,307.2L517,303.4L509.4,297L511.9,306L503,309.8L496.6,304.7L491.5,304L487.7,302.1L480,307.2L477.4,311.1L469.8,314.3L460.9,317.5L463.4,312.3L460.9,309.8L463.4,306L470.4,302.1L469.2,298.3L472.3,295.7L472.3,289.4M503,309.8L511.9,306L509.4,297L517,303.4L522.1,307.2L528.5,303.4L534.9,308.5L540,314.9M540,320M511.9,320L509.4,314.9L503,309.8M420,284.3L422.6,285.5L426.4,283L430.2,286.8L432.1,290.6L432.8,297L436.6,299.6L441.1,303.4L434,308.5L432.8,320M420,320M420,284.3M513.8,256.2L515.7,259.4L520.9,260.6L528.5,261.9L540,261.3M540,314.9L534.9,308.5L528.5,303.4L520.9,297L517,288.1L513.2,286.8L508.1,291.3L499.2,284.3L493.4,284.3L494,276.6L501.7,274.7L506.8,266.4L508.1,263.2L511.9,261.3L513.8,256.2M420,200M463.4,200L462.1,205.7L458.3,205.1L452.6,208.9L453.2,217.2L447.4,219.1L445.5,216L432.8,213.4L431.5,210.9L425.1,210.9L420,212.8M420,200M440.4,258.7L443.6,260.6L447.4,260L453.8,253.6L464,247.9L468.5,247.2L467.9,251.1L466.6,253.6L470.4,256.8L467.9,261.3L465.3,264.5L466.6,268.3L471.1,271.5L473.6,276.6L471.1,280.4L467.2,279.8L460.9,274L457.7,277.2L454.5,277.9L450.6,275.3L447.4,277.2L443.6,271.5L443,266.4L441.1,262.6L440.4,258.7M443.6,223L447.4,219.1L458.3,215.3L472.3,210.9L482.6,211.5L489.6,214L486.4,220.4L489.6,225.5L491.5,230L492.8,235.7L489.6,240.9L485.1,243.4L481.3,252.3L486.4,259.4L482.6,260L472.3,270.2L466.6,268.3L465.3,264.5L467.9,261.3L470.4,256.8L466.6,253.6L467.9,251.1L468.5,247.2L464,247.9L453.8,253.6L447.4,260L443.6,260.6L440.4,258.7L440.4,263.8L434,261.3L428.9,258.1L427,249.8L431.5,248.5L430.9,245.3L436.6,242.1L436,233.2L441.7,231.3L444.3,226.8L443.6,223M420,242.1L425.1,251.1L428.9,258.1L434,261.3L440.4,263.8L443,266.4L443.6,271.5L443,276.6L436.6,280.4L430.2,286.8L426.4,283L422.6,285.5L420,284.3M420,242.1M430.2,286.8L436.6,280.4L443,276.6L447.4,277.2L450.6,275.3L454.5,277.9L457.7,277.2L460.9,274L467.2,279.8L471.1,280.4L473.6,276.6L480,281.7L484.5,284.3L478.1,286.2L472.3,289.4L472.3,295.7L469.2,298.3L470.4,302.1L463.4,306L460.9,309.8L454.5,304.7L446.8,301.5L441.1,303.4L436.6,299.6L432.8,297L432.1,290.6L430.2,286.8M434,308.5L441.1,303.4L446.8,301.5L454.5,304.7L460.9,309.8L463.4,312.3L460.9,317.5L460.9,320M432.8,320L434,308.5M460.9,320L460.9,317.5L469.8,314.3L477.4,311.1L480,307.2L487.7,302.1L491.5,304L496.6,304.7L503,309.8L509.4,314.9L511.9,320M460.9,320M508.1,226.8L511.9,223.6L517,219.8L526,218.5L529.8,222.3L534.9,224.9L540,226.8M540,261.3L528.5,261.9L520.9,260.6L515.7,259.4L513.8,256.2L511.9,250.4L506.8,248.5L503,242.1L501.7,235.7L504.3,231.3L508.1,226.8M420,212.8L425.1,210.9L431.5,210.9L432.8,213.4L445.5,216L447.4,219.1L443.6,223L444.3,226.8L441.7,231.3L436,233.2L436.6,242.1L430.9,245.3L431.5,248.5L427,249.8L425.1,251.1L420,242.1M420,212.8M463.4,200M486.4,200L487.7,206.4L482.6,208.9L482.6,211.5L472.3,210.9L458.3,215.3L453.2,217.2L452.6,208.9L458.3,205.1L462.1,205.7L463.4,200M486.4,200M520.9,200L511.9,208.9L504.3,211.5L501.7,215.3L508.1,223L501.7,227.4L491.5,230L489.6,225.5L486.4,220.4L489.6,214L482.6,211.5L482.6,208.9L487.7,206.4L486.4,200M536,253.9L540,253.2M540,264.2L538.5,263.8L536.8,259.4L536,253.9" fill="none" stroke="#fff" stroke-opacity="0.5" stroke-width="0.8" stroke-linejoin="round"/>
<clipPath id="c4"><rect x="190" y="320" width="200" height="200"/></clipPath>
<g stroke-linejoin="round" stroke-width="1.2" clip-path="url(#c4)">
<polygon points="194.3,515.7 202.8,509.4 213.4,503 216.6,510.4 224,515.7 221.9,520 192.1,520" fill="#adadad" stroke="#adadad"/>
<polygon points="281.5,320 317.7,320 319.8,326.4 323,329.6 315.5,334.9 313.4,342.3 310.2,346.6 313.4,350.9 308.1,358.3 307,374.3 300.6,382.8 287.9,391.3 285.7,383.8 281.5,372.1 284.7,365.7 279.4,359.4 274,350.9 275.1,332.8" fill="#adadad" stroke="#adadad"/>
<polygon points="341.1,320 370.9,320 375.1,326.4 373,332.8 364.5,340.2 360.2,341.3 354.9,333.8 348.5,333.8 342.1,324.3" fill="#adadad" stroke="#adadad"/>
<polygon points="308.1,358.3 313.4,350.9 318.7,353 323,350.9 332.6,353 334.7,353 335.7,360.4 333.6,367.9 337.9,376.4 343.2,378.5 348.5,373.2 351.7,371.1 350.6,376.4 358.1,383.8 359.1,394.5 360.2,406.2 353.8,411.5 347.4,410.4 338.9,416.8 331.5,415.7 328.3,418.9 323,413.6 329.4,411.5 330.4,405.1 325.1,404 324,399.8 328.3,391.3 326.2,383.8 317.7,381.7 312.3,376.4 307,374.3" fill="#adadad" stroke="#adadad"/>
<polygon points="358.1,377.4 365.5,372.1 373,370 378.3,371.1 385.7,367.9 390,359.4 390,405.1 381.5,407.2 377.2,405.1 370.9,398.7 360.2,397.7 359.1,394.5 358.1,383.8 350.6,376.4" fill="#adadad" stroke="#adadad"/>
<polygon points="274,394.5 287.9,391.3 300.6,382.8 307,374.3 312.3,376.4 317.7,381.7 326.2,383.8 328.3,391.3 324,399.8 325.1,404 330.4,405.1 329.4,411.5 323,413.6 313.4,412.6 310.2,416.8 306,415.7 296.4,424.3 290,416.8 282.6,414.7 281.5,407.2 275.1,404 273,397.7" fill="#adadad" stroke="#adadad"/>
<polygon points="247.4,413.6 251.7,407.2 266.6,399.8 273,397.7 275.1,404 281.5,407.2 282.6,414.7 275.1,415.7 269.8,420 268.7,430.6 274,439.1 269.8,441.3 260.2,442.3 259.1,447.7 243.2,442.3 232.6,438.1 227.2,431.7 241.1,428.5 248.5,429.6 253.8,424.3" fill="#adadad" stroke="#adadad"/>
<polygon points="269.8,420 275.1,415.7 282.6,414.7 290,416.8 296.4,424.3 295.3,429.6 304.9,438.1 309.1,443.4 311.3,449.8 302.8,451.9 299.6,454 294.3,448.7 288.9,453 281.5,444.5 276.2,440.2 274,439.1 268.7,430.6" fill="#adadad" stroke="#adadad"/>
<polygon points="296.4,424.3 306,415.7 310.2,416.8 313.4,422.1 314.5,430.6 304.9,438.1 295.3,429.6" fill="#adadad" stroke="#adadad"/>
<polygon points="224,446.6 231.5,443.4 232.6,438.1 243.2,442.3 259.1,447.7 258.1,453 254.9,458.3 251.7,463.6 250.6,467.9 245.3,466.8 242.1,464.7 238.9,468.9 238.9,478.5 232.6,479.6 230.4,476.4 229.4,466.8 221.9,462.6 218.7,455.1 221.9,454" fill="#adadad" stroke="#adadad"/>
<polygon points="211.3,482.8 218.7,481.7 221.9,478.5 230.4,476.4 232.6,479.6 238.9,478.5 238.9,468.9 242.1,464.7 250.6,467.9 254.9,458.3 259.1,447.7 260.2,442.3 274,439.1 281.5,444.5 288.9,453 294.3,448.7 299.6,454 311.3,449.8 326.2,451.9 342.1,456.2 348.5,451.9 354.9,453 363.4,453 365.5,461.5 359.1,468.9 364.5,477.4 379.4,480.6 382.6,474.3 390,473.2 390,520 221.9,520 216.6,510.4 213.4,503 202.8,509.4 200.6,496.6 211.3,490.2" fill="#979797" stroke="#979797"/>
<polygon points="252.8,353 261.3,351.9 270.9,355.1 279.4,359.4 284.7,365.7 281.5,372.1 285.7,383.8 287.9,391.3 274,394.5 269.8,391.3 271.9,383.8 269.8,374.3 263.4,372.1 260.2,367.9 250.6,368.9 249.6,362.6 254.9,360.4" fill="#979797" stroke="#979797"/>
<polygon points="317.7,320 341.1,320 342.1,324.3 348.5,333.8 346.4,340.2 338.9,345.5 334.7,346.6 332.6,353 323,350.9 318.7,353 313.4,350.9 310.2,346.6 313.4,342.3 315.5,334.9 323,329.6 319.8,326.4" fill="#979797" stroke="#979797"/>
<polygon points="348.5,333.8 354.9,333.8 360.2,341.3 353.8,351.9 350.6,358.3 351.7,371.1 348.5,373.2 343.2,378.5 337.9,376.4 333.6,367.9 335.7,360.4 334.7,353 332.6,353 334.7,346.6 338.9,345.5 346.4,340.2" fill="#979797" stroke="#979797"/>
<polygon points="313.4,412.6 323,413.6 328.3,418.9 331.5,415.7 334.7,418.9 338.9,430.6 343.2,439.1 348.5,451.9 342.1,456.2 338.9,454 326.2,451.9 324,449.8 311.3,449.8 309.1,443.4 304.9,438.1 314.5,430.6 313.4,422.1 310.2,416.8" fill="#979797" stroke="#979797"/>
<polygon points="331.5,415.7 338.9,416.8 347.4,410.4 353.8,411.5 357,414.7 354.9,420 359.1,426.4 366.6,430.6 375.1,437 366.6,439.1 358.1,445.5 354.9,453 348.5,451.9 343.2,439.1 338.9,430.6 334.7,418.9" fill="#979797" stroke="#979797"/>
<polygon points="353.8,411.5 360.2,406.2 360.2,397.7 370.9,398.7 377.2,405.1 381.5,407.2 390,405.1 390,445.5 381.5,445.5 375.1,441.3 375.1,437 366.6,430.6 359.1,426.4 354.9,420 357,414.7" fill="#979797" stroke="#979797"/>
<polygon points="197.4,433.8 210.2,431.7 209.1,427.4 212.3,430.6 227.2,431.7 232.6,438.1 231.5,443.4 224,446.6 221.9,454 218.7,455.1 221.9,462.6 229.4,466.8 230.4,476.4 221.9,478.5 218.7,481.7 211.3,482.8 213.4,473.2 210.2,464.7 202.8,456.2 201.7,447.7 198.5,441.3" fill="#979797" stroke="#979797"/>
<polygon points="329.4,390.2 342.1,393.4 338.9,400.9 327.2,397.7" fill="#adadad" stroke="#adadad"/>
<polygon points="360.2,397.7 370.9,398.7 377.2,405.1 381.5,407.2 386.8,405.1 384.7,412.6 377.2,413.6 370.9,417.9 366.6,413.6 360.2,414.7 357,414.7 353.8,411.5 360.2,406.2" fill="#adadad" stroke="#adadad"/>
<polygon points="259.1,447.7 260.2,442.3 269.8,441.3 274,439.1 276.2,440.2 281.5,444.5 288.9,453 292.1,458.3 290,462.6 283.6,468.9 275.1,465.7 271.9,466.8 269.8,461.5 263.4,459.4 260.2,464.7 254.9,458.3 258.1,453" fill="#979797" stroke="#979797"/>
<polygon points="281.5,466.8 290,464.7 301.7,466.8 302.8,472.1 296.4,482.8 290,477.4 283.6,470" fill="#979797" stroke="#979797"/>
<polygon points="269.8,461.5 271.9,466.8 275.1,465.7 283.6,470 279.4,475.3 271.9,477.4 269.8,471.1" fill="#979797" stroke="#979797"/>
<polygon points="308.1,449.8 323,450.9 320.9,460.4 316.6,466.8 309.1,464.7 307,458.3" fill="#979797" stroke="#979797"/>
<polygon points="319.8,476.4 338.9,484.9 347.4,487 360.2,481.7 364.5,477.4 379.4,480.6 382.6,474.3 390,473.2 390,520 321.9,520 317.7,509.4 321.9,501.9 318.7,490.2" fill="#979797" stroke="#979797"/>
<polygon points="250.6,476.4 257,474.3 259.1,479.6 256,484.9 250.6,483.8" fill="#adadad" stroke="#adadad"/>
<polygon points="370.9,320 390,320 390,359.4 385.7,367.9 378.3,371.1 373,370 365.5,372.1 358.1,377.4 350.6,376.4 351.7,371.1 350.6,358.3 353.8,351.9 360.2,341.3 364.5,340.2 373,332.8 375.1,326.4" fill="#d9a07b" stroke="#d9a07b"/>
<polygon points="358.1,445.5 366.6,439.1 375.1,441.3 381.5,445.5 390,444.5 390,473.2 382.6,474.3 379.4,480.6 364.5,477.4 359.1,468.9 365.5,461.5 363.4,453 354.9,453" fill="#d9a07b" stroke="#d9a07b"/>
<polygon points="240,470 244.3,465.7 249.6,468.9 250.6,475.3 248.5,483.8 242.1,487 238.9,481.7" fill="#d9a07b" stroke="#d9a07b"/>
<polygon points="248.7,487 271.1,485.3 271.9,491.9 279.4,492.8 280,501.1 280,520 261.1,520 262.8,502.8 256.2,496.2 253.6,495.3 249.6,492.8" fill="#d9a07b" stroke="#d9a07b"/>
<polygon points="296.4,483.8 300.6,479.6 315.5,477.4 318.7,481.7 318.7,490.2 321.9,501.9 317.7,509.4 313.4,511.5 311.3,517.9 300.6,514.7 294.3,509.4 288.9,504 293.2,500.9 298.5,496.6 299.6,490.2" fill="#d9a07b" stroke="#d9a07b"/>
<polygon points="287.9,484.9 293.2,482.8 297.4,484.9 299.6,490.2 298.5,496.6 295.3,495.5 294.3,492.3 287.9,492.8 286.8,489.1" fill="#dc0a32" stroke="#dc0a32"/>
</g>
<path d="M194.3,515.7L202.8,509.4L213.4,503L216.6,510.4L224,515.7L221.9,520M192.1,520L194.3,515.7M281.5,320M317.7,320L319.8,326.4L323,329.6L315.5,334.9L313.4,342.3L310.2,346.6L313.4,350.9L308.1,358.3L307,374.3L300.6,382.8L287.9,391.3L285.7,383.8L281.5,372.1L284.7,365.7L279.4,359.4L274,350.9L275.1,332.8L281.5,320M341.1,320M370.9,320L375.1,326.4L373,332.8L364.5,340.2L360.2,341.3L354.9,333.8L348.5,333.8L342.1,324.3L341.1,320M308.1,358.3L313.4,350.9L318.7,353L323,350.9L332.6,353L334.7,353L335.7,360.4L333.6,367.9L337.9,376.4L343.2,378.5L348.5,373.2L351.7,371.1L350.6,376.4L358.1,383.8L359.1,394.5L360.2,406.2L353.8,411.5L347.4,410.4L338.9,416.8L331.5,415.7L328.3,418.9L323,413.6L329.4,411.5L330.4,405.1L325.1,404L324,399.8L328.3,391.3L326.2,383.8L317.7,381.7L312.3,376.4L307,374.3L308.1,358.3M358.1,377.4L365.5,372.1L373,370L378.3,371.1L385.7,367.9L390,359.4M390,405.1L381.5,407.2L377.2,405.1L370.9,398.7L360.2,397.7L359.1,394.5L358.1,383.8L350.6,376.4L358.1,377.4M274,394.5L287.9,391.3L300.6,382.8L307,374.3L312.3,376.4L317.7,381.7L326.2,383.8L328.3,391.3L324,399.8L325.1,404L330.4,405.1L329.4,411.5L323,413.6L313.4,412.6L310.2,416.8L306,415.7L296.4,424.3L290,416.8L282.6,414.7L281.5,407.2L275.1,404L273,397.7L274,394.5M247.4,413.6L251.7,407.2L266.6,399.8L273,397.7L275.1,404L281.5,407.2L282.6,414.7L275.1,415.7L269.8,420L268.7,430.6L274,439.1L269.8,441.3L260.2,442.3L259.1,447.7L243.2,442.3L232.6,438.1L227.2,431.7L241.1,428.5L248.5,429.6L253.8,424.3L247.4,413.6M269.8,420L275.1,415.7L282.6,414.7L290,416.8L296.4,424.3L295.3,429.6L304.9,438.1L309.1,443.4L311.3,449.8L302.8,451.9L299.6,454L294.3,448.7L288.9,453L281.5,444.5L276.2,440.2L274,439.1L268.7,430.6L269.8,420M296.4,424.3L306,415.7L310.2,416.8L313.4,422.1L314.5,430.6L304.9,438.1L295.3,429.6L296.4,424.3M224,446.6L231.5,443.4L232.6,438.1L243.2,442.3L259.1,447.7L258.1,453L254.9,458.3L251.7,463.6L250.6,467.9L245.3,466.8L242.1,464.7L238.9,468.9L238.9,478.5L232.6,479.6L230.4,476.4L229.4,466.8L221.9,462.6L218.7,455.1L221.9,454L224,446.6M211.3,482.8L218.7,481.7L221.9,478.5L230.4,476.4L232.6,479.6L238.9,478.5L238.9,468.9L242.1,464.7L250.6,467.9L254.9,458.3L259.1,447.7L260.2,442.3L274,439.1L281.5,444.5L288.9,453L294.3,448.7L299.6,454L311.3,449.8L326.2,451.9L342.1,456.2L348.5,451.9L354.9,453L363.4,453L365.5,461.5L359.1,468.9L364.5,477.4L379.4,480.6L382.6,474.3L390,473.2M390,520M221.9,520L216.6,510.4L213.4,503L202.8,509.4L200.6,496.6L211.3,490.2L211.3,482.8M252.8,353L261.3,351.9L270.9,355.1L279.4,359.4L284.7,365.7L281.5,372.1L285.7,383.8L287.9,391.3L274,394.5L269.8,391.3L271.9,383.8L269.8,374.3L263.4,372.1L260.2,367.9L250.6,368.9L249.6,362.6L254.9,360.4L252.8,353M317.7,320M341.1,320L342.1,324.3L348.5,333.8L346.4,340.2L338.9,345.5L334.7,346.6L332.6,353L323,350.9L318.7,353L313.4,350.9L310.2,346.6L313.4,342.3L315.5,334.9L323,329.6L319.8,326.4L317.7,320M348.5,333.8L354.9,333.8L360.2,341.3L353.8,351.9L350.6,358.3L351.7,371.1L348.5,373.2L343.2,378.5L337.9,376.4L333.6,367.9L335.7,360.4L334.7,353L332.6,353L334.7,346.6L338.9,345.5L346.4,340.2L348.5,333.8M313.4,412.6L323,413.6L328.3,418.9L331.5,415.7L334.7,418.9L338.9,430.6L343.2,439.1L348.5,451.9L342.1,456.2L338.9,454L326.2,451.9L324,449.8L311.3,449.8L309.1,443.4L304.9,438.1L314.5,430.6L313.4,422.1L310.2,416.8L313.4,412.6M331.5,415.7L338.9,416.8L347.4,410.4L353.8,411.5L357,414.7L354.9,420L359.1,426.4L366.6,430.6L375.1,437L366.6,439.1L358.1,445.5L354.9,453L348.5,451.9L343.2,439.1L338.9,430.6L334.7,418.9L331.5,415.7M353.8,411.5L360.2,406.2L360.2,397.7L370.9,398.7L377.2,405.1L381.5,407.2L390,405.1M390,445.5L381.5,445.5L375.1,441.3L375.1,437L366.6,430.6L359.1,426.4L354.9,420L357,414.7L353.8,411.5M197.4,433.8L210.2,431.7L209.1,427.4L212.3,430.6L227.2,431.7L232.6,438.1L231.5,443.4L224,446.6L221.9,454L218.7,455.1L221.9,462.6L229.4,466.8L230.4,476.4L221.9,478.5L218.7,481.7L211.3,482.8L213.4,473.2L210.2,464.7L202.8,456.2L201.7,447.7L198.5,441.3L197.4,433.8M329.4,390.2L342.1,393.4L338.9,400.9L327.2,397.7L329.4,390.2M360.2,397.7L370.9,398.7L377.2,405.1L381.5,407.2L386.8,405.1L384.7,412.6L377.2,413.6L370.9,417.9L366.6,413.6L360.2,414.7L357,414.7L353.8,411.5L360.2,406.2L360.2,397.7M259.1,447.7L260.2,442.3L269.8,441.3L274,439.1L276.2,440.2L281.5,444.5L288.9,453L292.1,458.3L290,462.6L283.6,468.9L275.1,465.7L271.9,466.8L269.8,461.5L263.4,459.4L260.2,464.7L254.9,458.3L258.1,453L259.1,447.7M281.5,466.8L290,464.7L301.7,466.8L302.8,472.1L296.4,482.8L290,477.4L283.6,470L281.5,466.8M269.8,461.5L271.9,466.8L275.1,465.7L283.6,470L279.4,475.3L271.9,477.4L269.8,471.1L269.8,461.5M308.1,449.8L323,450.9L320.9,460.4L316.6,466.8L309.1,464.7L307,458.3L308.1,449.8M319.8,476.4L338.9,484.9L347.4,487L360.2,481.7L364.5,477.4L379.4,480.6L382.6,474.3L390,473.2M390,520M321.9,520L317.7,509.4L321.9,501.9L318.7,490.2L319.8,476.4M250.6,476.4L257,474.3L259.1,479.6L256,484.9L250.6,483.8L250.6,476.4M370.9,320M390,320M390,359.4L385.7,367.9L378.3,371.1L373,370L365.5,372.1L358.1,377.4L350.6,376.4L351.7,371.1L350.6,358.3L353.8,351.9L360.2,341.3L364.5,340.2L373,332.8L375.1,326.4L370.9,320M358.1,445.5L366.6,439.1L375.1,441.3L381.5,445.5L390,444.5M390,473.2L382.6,474.3L379.4,480.6L364.5,477.4L359.1,468.9L365.5,461.5L363.4,453L354.9,453L358.1,445.5M240,470L244.3,465.7L249.6,468.9L250.6,475.3L248.5,483.8L242.1,487L238.9,481.7L240,470M248.7,487L271.1,485.3L271.9,491.9L279.4,492.8L280,501.1L280,520M261.1,520L262.8,502.8L256.2,496.2L253.6,495.3L249.6,492.8L248.7,487M296.4,483.8L300.6,479.6L315.5,477.4L318.7,481.7L318.7,490.2L321.9,501.9L317.7,509.4L313.4,511.5L311.3,517.9L300.6,514.7L294.3,509.4L288.9,504L293.2,500.9L298.5,496.6L299.6,490.2L296.4,483.8M287.9,484.9L293.2,482.8L297.4,484.9L299.6,490.2L298.5,496.6L295.3,495.5L294.3,492.3L287.9,492.8L286.8,489.1L287.9,484.9" fill="none" stroke="#fff" stroke-opacity="0.5" stroke-width="0.8" stroke-linejoin="round"/>
<clipPath id="c5"><rect x="390" y="320" width="200" height="200"/></clipPath>
<g stroke-linejoin="round" stroke-width="1.2" clip-path="url(#c5)">
<polygon points="390,320 590,320 590,520 390,520" fill="#adadad" stroke="#adadad"/>
<polygon points="441.1,349.8 447.4,332.8 460.2,334.9 470.9,328.5 475.1,334.9 483.6,341.3 480.4,354 482.6,365.7 474,372.1 471.9,374.3 464.5,371.1 453.8,365.7 441.1,359.4 440,357.2" fill="#adadad" stroke="#adadad"/>
<polygon points="512.3,376.4 517.7,373.2 524,390.2 526.2,400.9 517.7,420 508.1,418.9 512.3,409.4 502.8,395.5 496.4,393.4 496.4,389.1 498.5,386 510.2,391.3 513,377.4" fill="#adadad" stroke="#adadad"/>
<polygon points="457,397.7 463.4,392.3 465.5,384.9 474,379.6 479.4,381.7 483.6,389.1 483.6,399.8 483.6,403 471.9,408.3 468.7,405.1 458.1,400.9" fill="#adadad" stroke="#adadad"/>
<polygon points="409.1,371.1 415.5,363.6 429.4,356.2 435.7,362.6 440,357.2 441.1,359.4 453.8,365.7 464.5,371.1 471.9,374.3 474,376.4 474,379.6 465.5,384.9 463.4,392.3 457,397.7 452.8,396.6 441.1,404 435.7,411.5 428.3,409.4 420.9,398.7 417.7,383.8 410.2,378.5" fill="#adadad" stroke="#adadad"/>
<polygon points="402.8,413.6 404.9,405.1 415.5,400.9 420.9,398.7 428.3,409.4 435.7,411.5 434.7,427.4 429.4,422.1 419.8,429.6 412.3,428.5 410.2,428.5 404.9,422.1" fill="#adadad" stroke="#adadad"/>
<polygon points="412.3,428.5 419.8,429.6 429.4,422.1 434.7,427.4 440,428.5 449.6,436 441.1,439.1 429.4,447.7 420.9,458.3 417.7,455.1 420.9,448.7 419.8,441.3 412.3,438.1" fill="#adadad" stroke="#adadad"/>
<polygon points="435.7,467.9 453.8,465.7 465.5,462.6 464.5,456.2 465.5,444.5 470.9,444.5 479.4,447.7 487.9,448.7 490,456.2 500.6,461.5 497.4,466.8 490,471.1 481.5,468.9 470.9,478.5 460.2,484.9 451.7,486 444.3,487 437.9,490.2 440,496.6 433.6,488.1 430.4,478.5" fill="#adadad" stroke="#adadad"/>
<polygon points="390,359.4 396.4,354 397.4,341.3 400.6,332.8 407,334.9 413.4,341.3 415.5,343.4 420.9,351.9 426.2,357.2 429.4,356.2 415.5,363.6 409.1,371.1 410.2,378.5 409.1,379.6 399.6,383.8 401.7,376.4 398.5,373.2 390,380.6" fill="#adadad" stroke="#adadad"/>
<polygon points="390,320 435.7,320 434.7,326.4 421.9,332.8 415.5,343.4 413.4,341.3 407,334.9 400.6,332.8 396.4,329.6 390,330.6" fill="#adadad" stroke="#adadad"/>
<polygon points="390,437 400.6,434.9 412.3,438.1 419.8,441.3 420.9,448.7 417.7,455.1 416.6,461.5 411.3,468.9 402.8,480.6 396.4,477.4 390,475.3" fill="#adadad" stroke="#adadad"/>
<polygon points="451.7,486 460.2,484.9 470.9,478.5 481.5,468.9 490,471.1 488.9,481.7 490,490.2 483.6,493.4 477.2,500.9 470.9,507.2 470.9,510.4 462.3,505.1 460.2,496.6 454.9,492.3" fill="#adadad" stroke="#adadad"/>
<polygon points="490,471.1 497.4,466.8 500.6,461.5 509.1,462.6 514.5,466.8 519.8,478.5 521.9,484.9 511.3,484.9 500.6,487 488.9,490.2 488.9,481.7" fill="#adadad" stroke="#adadad"/>
<polygon points="503.8,338.1 508.1,330.6 517.7,333.8 526.2,331.7 538.9,332.8 549.6,327.4 557,329.6 551.7,341.3 553.8,347.7 548.5,357.2 545.3,359.4 553.8,362.6 554.9,377.4 547.4,383.8 536.8,379.6 528.3,377.4 524,376.4 517.7,373.2 509.1,356.2" fill="#adadad" stroke="#adadad"/>
<polygon points="549.6,327.4 551.7,320 558.1,320 567.7,324.3 570.9,328.5 582.6,330.6 590,331.7 590,368.9 585.7,367.9 581.5,373.2 580.4,381.7 571.9,383.8 566.6,381.7 562.3,376.4 554.9,377.4 553.8,362.6 545.3,359.4 548.5,357.2 553.8,347.7 551.7,341.3 557,329.6" fill="#adadad" stroke="#adadad"/>
<polygon points="571.9,383.8 580.4,381.7 581.5,373.2 585.7,367.9 590,368.9 590,422.1 582.6,420 577.2,424.3 575.1,420 566.6,416.8 565.5,404 564.5,398.7 568.7,392.3" fill="#adadad" stroke="#adadad"/>
<polygon points="542.1,428.5 548.5,426.4 558.1,426.4 560.2,421.1 566.6,416.8 575.1,420 577.2,424.3 582.6,434.9 577.2,447.7 578.3,456.2 570.9,460.4 564.5,458.3 553.8,456.2 548.5,453 546.4,454 545.3,449.8 536.8,445.5 540,442.3 542.1,434.9" fill="#adadad" stroke="#adadad"/>
<polygon points="577.2,424.3 582.6,420 590,422.1 590,458.3 578.3,456.2 577.2,447.7 582.6,434.9" fill="#adadad" stroke="#adadad"/>
<polygon points="514.5,466.8 517.7,464.7 524,465.7 529.4,468.9 536.8,462.6 546.4,454 548.5,453 553.8,456.2 564.5,458.3 570.9,460.4 567.7,468.9 568.7,478.5 560.2,481.7 551.7,492.3 550.6,496.6 547.4,490.2 538.9,487 528.3,486 521.9,484.9 519.8,478.5" fill="#adadad" stroke="#adadad"/>
<polygon points="415.5,343.4 421.9,332.8 434.7,326.4 435.7,320 470.9,320 470.9,328.5 460.2,334.9 447.4,332.8 441.1,349.8 440,357.2 435.7,362.6 429.4,356.2 426.2,357.2 420.9,351.9" fill="#cdcdcd" stroke="#cdcdcd"/>
<polygon points="470.9,320 511.3,320 508.1,330.6 506,337 499.6,344.5 490,340.2 483.6,341.3 475.1,334.9 470.9,328.5" fill="#cdcdcd" stroke="#cdcdcd"/>
<polygon points="483.6,341.3 490,340.2 499.6,344.5 503.8,338.1 509.1,356.2 517.7,373.2 512.3,376.4 506,374.3 497.4,380.6 496.4,389.1 483.6,389.1 479.4,381.7 474,376.4 474,372.1 482.6,365.7 480.4,354" fill="#979797" stroke="#979797"/>
<polygon points="488.9,405.1 494.3,400.9 496.4,393.4 502.8,395.5 512.3,409.4 508.1,418.9 493.2,424.3 490,426.4 484.7,413.6" fill="#979797" stroke="#979797"/>
<polygon points="471.9,408.3 483.6,403 488.9,405.1 484.7,413.6 480.4,422.1 475.1,417.9 469.8,422.1 468.7,408.3" fill="#979797" stroke="#979797"/>
<polygon points="435.7,411.5 441.1,404 452.8,396.6 457,397.7 458.1,400.9 468.7,405.1 468.7,408.3 469.8,422.1 462.3,429.6 457,434.9 449.6,436 440,428.5 434.7,427.4" fill="#979797" stroke="#979797"/>
<polygon points="462.3,429.6 469.8,422.1 475.1,417.9 480.4,422.1 484.7,413.6 490,426.4 493.2,424.3 496.4,434.9 493.2,443.4 496.4,453 500.6,461.5 490,456.2 487.9,448.7 479.4,447.7 470.9,444.5 465.5,444.5 464.5,436" fill="#cdcdcd" stroke="#cdcdcd"/>
<polygon points="393.2,392.3 399.6,383.8 409.1,379.6 410.2,378.5 417.7,383.8 420.9,398.7 415.5,400.9 404.9,405.1 402.8,413.6 397.4,406.2 391.1,404 394.3,398.7" fill="#979797" stroke="#979797"/>
<polygon points="420.9,458.3 429.4,447.7 441.1,439.1 449.6,436 457,434.9 462.3,429.6 464.5,436 465.5,444.5 464.5,456.2 465.5,462.6 453.8,465.7 435.7,467.9 431.5,464.7 424,462.6 416.6,461.5 417.7,455.1" fill="#979797" stroke="#979797"/>
<polygon points="390,404 391.1,404 397.4,406.2 402.8,413.6 404.9,422.1 410.2,428.5 412.3,438.1 400.6,434.9 390,437" fill="#979797" stroke="#979797"/>
<polygon points="402.8,480.6 411.3,468.9 416.6,461.5 424,462.6 431.5,464.7 435.7,467.9 430.4,478.5 433.6,488.1 435.7,498.7 432.6,505.1 426.2,509.4 419.8,505.1 411.3,507.2 402.8,511.5 399.6,503 398.5,490.2" fill="#979797" stroke="#979797"/>
<polygon points="390,475.3 396.4,477.4 402.8,480.6 398.5,490.2 399.6,503 402.8,511.5 404.9,520 390,520" fill="#979797" stroke="#979797"/>
<polygon points="493.2,424.3 508.1,418.9 517.7,420 526.2,424.3 531.5,430.6 534.7,434.9 542.1,434.9 540,442.3 536.8,445.5 545.3,449.8 546.4,454 536.8,462.6 529.4,468.9 524,465.7 517.7,464.7 514.5,466.8 509.1,462.6 500.6,461.5 496.4,453 493.2,443.4 496.4,434.9" fill="#979797" stroke="#979797"/>
<polygon points="517.7,373.2 524,376.4 528.3,377.4 536.8,379.6 547.4,383.8 554.9,377.4 562.3,376.4 566.6,381.7 571.9,383.8 568.7,392.3 564.5,398.7 565.5,404 558.1,405.1 553.8,411.5 554.9,417.9 560.2,421.1 558.1,426.4 548.5,426.4 542.1,428.5 542.1,434.9 534.7,434.9 531.5,430.6 526.2,424.3 517.7,420 526.2,400.9 524,390.2" fill="#979797" stroke="#979797"/>
<polygon points="558.1,320 590,320 590,331.7 582.6,330.6 570.9,328.5 567.7,324.3" fill="#cdcdcd" stroke="#cdcdcd"/>
<polygon points="570.9,460.4 578.3,456.2 590,458.3 590,500.9 581.5,496.6 573,500.9 564.5,498.7 558.1,490.2 551.7,492.3 560.2,481.7 568.7,478.5 567.7,468.9" fill="#979797" stroke="#979797"/>
<polygon points="497.4,380.6 506,374.3 513,377.4 510.2,391.3 498.5,386" fill="#adadad" stroke="#adadad"/>
<polygon points="483.6,389.1 496.4,389.1 496.4,393.4 494.3,400.9 488.9,405.1 483.6,399.8" fill="#cdcdcd" stroke="#cdcdcd"/>
<polygon points="554.9,405.1 565.5,404 566.6,416.8 560.2,421.1 554.9,417.9 553.8,411.5" fill="#adadad" stroke="#adadad"/>
<polygon points="577.2,472.1 585.7,470 588.9,475.3 585.7,483.8 580.4,480.6" fill="#979797" stroke="#979797"/>
<polygon points="390,330.6 396.4,329.6 400.6,332.8 397.4,341.3 396.4,354 390,359.4" fill="#d9a07b" stroke="#d9a07b"/>
<polygon points="488.9,490.2 500.6,487 511.3,484.9 521.9,484.9 528.3,486 538.9,487 547.4,490.2 550.6,496.6 546.4,500.9 543.2,496.6 538.9,503 532.6,501.9 528.3,498.7 521.9,503 517.7,506.2 515.5,507.2 503.8,506.2 499.6,498.7 492.1,497.7 488.9,494.5" fill="#d9a07b" stroke="#d9a07b"/>
<polygon points="504.9,517.9 515.5,516.8 515.5,520 504.9,520" fill="#ff8212" stroke="#ff8212"/>
<polygon points="470.9,507.2 477.2,500.9 483.6,493.4 488.9,494.5 492.1,497.7 499.6,498.7 503.8,506.2 515.5,507.2 515.5,513.6 514.5,520 483.6,520 479.4,514.7 471.9,513.6" fill="#dc0a32" stroke="#dc0a32"/>
</g>
<path d="M390,320M590,320M590,520M390,520M390,320M441.1,349.8L447.4,332.8L460.2,334.9L470.9,328.5L475.1,334.9L483.6,341.3L480.4,354L482.6,365.7L474,372.1L471.9,374.3L464.5,371.1L453.8,365.7L441.1,359.4L440,357.2L441.1,349.8M512.3,376.4L517.7,373.2L524,390.2L526.2,400.9L517.7,420L508.1,418.9L512.3,409.4L502.8,395.5L496.4,393.4L496.4,389.1L498.5,386L510.2,391.3L513,377.4L512.3,376.4M457,397.7L463.4,392.3L465.5,384.9L474,379.6L479.4,381.7L483.6,389.1L483.6,399.8L483.6,403L471.9,408.3L468.7,405.1L458.1,400.9L457,397.7M409.1,371.1L415.5,363.6L429.4,356.2L435.7,362.6L440,357.2L441.1,359.4L453.8,365.7L464.5,371.1L471.9,374.3L474,376.4L474,379.6L465.5,384.9L463.4,392.3L457,397.7L452.8,396.6L441.1,404L435.7,411.5L428.3,409.4L420.9,398.7L417.7,383.8L410.2,378.5L409.1,371.1M402.8,413.6L404.9,405.1L415.5,400.9L420.9,398.7L428.3,409.4L435.7,411.5L434.7,427.4L429.4,422.1L419.8,429.6L412.3,428.5L410.2,428.5L404.9,422.1L402.8,413.6M412.3,428.5L419.8,429.6L429.4,422.1L434.7,427.4L440,428.5L449.6,436L441.1,439.1L429.4,447.7L420.9,458.3L417.7,455.1L420.9,448.7L419.8,441.3L412.3,438.1L412.3,428.5M435.7,467.9L453.8,465.7L465.5,462.6L464.5,456.2L465.5,444.5L470.9,444.5L479.4,447.7L487.9,448.7L490,456.2L500.6,461.5L497.4,466.8L490,471.1L481.5,468.9L470.9,478.5L460.2,484.9L451.7,486L444.3,487L437.9,490.2L440,496.6L433.6,488.1L430.4,478.5L435.7,467.9M390,359.4L396.4,354L397.4,341.3L400.6,332.8L407,334.9L413.4,341.3L415.5,343.4L420.9,351.9L426.2,357.2L429.4,356.2L415.5,363.6L409.1,371.1L410.2,378.5L409.1,379.6L399.6,383.8L401.7,376.4L398.5,373.2L390,380.6M390,359.4M390,320M435.7,320L434.7,326.4L421.9,332.8L415.5,343.4L413.4,341.3L407,334.9L400.6,332.8L396.4,329.6L390,330.6M390,320M390,437L400.6,434.9L412.3,438.1L419.8,441.3L420.9,448.7L417.7,455.1L416.6,461.5L411.3,468.9L402.8,480.6L396.4,477.4L390,475.3M390,437M451.7,486L460.2,484.9L470.9,478.5L481.5,468.9L490,471.1L488.9,481.7L490,490.2L483.6,493.4L477.2,500.9L470.9,507.2L470.9,510.4L462.3,505.1L460.2,496.6L454.9,492.3L451.7,486M490,471.1L497.4,466.8L500.6,461.5L509.1,462.6L514.5,466.8L519.8,478.5L521.9,484.9L511.3,484.9L500.6,487L488.9,490.2L488.9,481.7L490,471.1M503.8,338.1L508.1,330.6L517.7,333.8L526.2,331.7L538.9,332.8L549.6,327.4L557,329.6L551.7,341.3L553.8,347.7L548.5,357.2L545.3,359.4L553.8,362.6L554.9,377.4L547.4,383.8L536.8,379.6L528.3,377.4L524,376.4L517.7,373.2L509.1,356.2L503.8,338.1M549.6,327.4L551.7,320M558.1,320L567.7,324.3L570.9,328.5L582.6,330.6L590,331.7M590,368.9L585.7,367.9L581.5,373.2L580.4,381.7L571.9,383.8L566.6,381.7L562.3,376.4L554.9,377.4L553.8,362.6L545.3,359.4L548.5,357.2L553.8,347.7L551.7,341.3L557,329.6L549.6,327.4M571.9,383.8L580.4,381.7L581.5,373.2L585.7,367.9L590,368.9M590,422.1L582.6,420L577.2,424.3L575.1,420L566.6,416.8L565.5,404L564.5,398.7L568.7,392.3L571.9,383.8M542.1,428.5L548.5,426.4L558.1,426.4L560.2,421.1L566.6,416.8L575.1,420L577.2,424.3L582.6,434.9L577.2,447.7L578.3,456.2L570.9,460.4L564.5,458.3L553.8,456.2L548.5,453L546.4,454L545.3,449.8L536.8,445.5L540,442.3L542.1,434.9L542.1,428.5M577.2,424.3L582.6,420L590,422.1M590,458.3L578.3,456.2L577.2,447.7L582.6,434.9L577.2,424.3M514.5,466.8L517.7,464.7L524,465.7L529.4,468.9L536.8,462.6L546.4,454L548.5,453L553.8,456.2L564.5,458.3L570.9,460.4L567.7,468.9L568.7,478.5L560.2,481.7L551.7,492.3L550.6,496.6L547.4,490.2L538.9,487L528.3,486L521.9,484.9L519.8,478.5L514.5,466.8M415.5,343.4L421.9,332.8L434.7,326.4L435.7,320M470.9,320L470.9,328.5L460.2,334.9L447.4,332.8L441.1,349.8L440,357.2L435.7,362.6L429.4,356.2L426.2,357.2L420.9,351.9L415.5,343.4M470.9,320M511.3,320L508.1,330.6L506,337L499.6,344.5L490,340.2L483.6,341.3L475.1,334.9L470.9,328.5L470.9,320M483.6,341.3L490,340.2L499.6,344.5L503.8,338.1L509.1,356.2L517.7,373.2L512.3,376.4L506,374.3L497.4,380.6L496.4,389.1L483.6,389.1L479.4,381.7L474,376.4L474,372.1L482.6,365.7L480.4,354L483.6,341.3M488.9,405.1L494.3,400.9L496.4,393.4L502.8,395.5L512.3,409.4L508.1,418.9L493.2,424.3L490,426.4L484.7,413.6L488.9,405.1M471.9,408.3L483.6,403L488.9,405.1L484.7,413.6L480.4,422.1L475.1,417.9L469.8,422.1L468.7,408.3L471.9,408.3M435.7,411.5L441.1,404L452.8,396.6L457,397.7L458.1,400.9L468.7,405.1L468.7,408.3L469.8,422.1L462.3,429.6L457,434.9L449.6,436L440,428.5L434.7,427.4L435.7,411.5M462.3,429.6L469.8,422.1L475.1,417.9L480.4,422.1L484.7,413.6L490,426.4L493.2,424.3L496.4,434.9L493.2,443.4L496.4,453L500.6,461.5L490,456.2L487.9,448.7L479.4,447.7L470.9,444.5L465.5,444.5L464.5,436L462.3,429.6M393.2,392.3L399.6,383.8L409.1,379.6L410.2,378.5L417.7,383.8L420.9,398.7L415.5,400.9L404.9,405.1L402.8,413.6L397.4,406.2L391.1,404L394.3,398.7L393.2,392.3M420.9,458.3L429.4,447.7L441.1,439.1L449.6,436L457,434.9L462.3,429.6L464.5,436L465.5,444.5L464.5,456.2L465.5,462.6L453.8,465.7L435.7,467.9L431.5,464.7L424,462.6L416.6,461.5L417.7,455.1L420.9,458.3M390,404L391.1,404L397.4,406.2L402.8,413.6L404.9,422.1L410.2,428.5L412.3,438.1L400.6,434.9L390,437M390,404M402.8,480.6L411.3,468.9L416.6,461.5L424,462.6L431.5,464.7L435.7,467.9L430.4,478.5L433.6,488.1L435.7,498.7L432.6,505.1L426.2,509.4L419.8,505.1L411.3,507.2L402.8,511.5L399.6,503L398.5,490.2L402.8,480.6M390,475.3L396.4,477.4L402.8,480.6L398.5,490.2L399.6,503L402.8,511.5L404.9,520M390,520M390,475.3M493.2,424.3L508.1,418.9L517.7,420L526.2,424.3L531.5,430.6L534.7,434.9L542.1,434.9L540,442.3L536.8,445.5L545.3,449.8L546.4,454L536.8,462.6L529.4,468.9L524,465.7L517.7,464.7L514.5,466.8L509.1,462.6L500.6,461.5L496.4,453L493.2,443.4L496.4,434.9L493.2,424.3M517.7,373.2L524,376.4L528.3,377.4L536.8,379.6L547.4,383.8L554.9,377.4L562.3,376.4L566.6,381.7L571.9,383.8L568.7,392.3L564.5,398.7L565.5,404L558.1,405.1L553.8,411.5L554.9,417.9L560.2,421.1L558.1,426.4L548.5,426.4L542.1,428.5L542.1,434.9L534.7,434.9L531.5,430.6L526.2,424.3L517.7,420L526.2,400.9L524,390.2L517.7,373.2M558.1,320M590,320M590,331.7L582.6,330.6L570.9,328.5L567.7,324.3L558.1,320M570.9,460.4L578.3,456.2L590,458.3M590,500.9L581.5,496.6L573,500.9L564.5,498.7L558.1,490.2L551.7,492.3L560.2,481.7L568.7,478.5L567.7,468.9L570.9,460.4M497.4,380.6L506,374.3L513,377.4L510.2,391.3L498.5,386L497.4,380.6M483.6,389.1L496.4,389.1L496.4,393.4L494.3,400.9L488.9,405.1L483.6,399.8L483.6,389.1M554.9,405.1L565.5,404L566.6,416.8L560.2,421.1L554.9,417.9L553.8,411.5L554.9,405.1M577.2,472.1L585.7,470L588.9,475.3L585.7,483.8L580.4,480.6L577.2,472.1M390,330.6L396.4,329.6L400.6,332.8L397.4,341.3L396.4,354L390,359.4M390,330.6M488.9,490.2L500.6,487L511.3,484.9L521.9,484.9L528.3,486L538.9,487L547.4,490.2L550.6,496.6L546.4,500.9L543.2,496.6L538.9,503L532.6,501.9L528.3,498.7L521.9,503L517.7,506.2L515.5,507.2L503.8,506.2L499.6,498.7L492.1,497.7L488.9,494.5L488.9,490.2M504.9,517.9L515.5,516.8L515.5,520M504.9,520L504.9,517.9M470.9,507.2L477.2,500.9L483.6,493.4L488.9,494.5L492.1,497.7L499.6,498.7L503.8,506.2L515.5,507.2L515.5,513.6L514.5,520M483.6,520L479.4,514.7L471.9,513.6L470.9,507.2" fill="none" stroke="#fff" stroke-opacity="0.5" stroke-width="0.8" stroke-linejoin="round"/>
<clipPath id="c6"><rect x="590" y="320" width="200" height="200"/></clipPath>
<g stroke-linejoin="round" stroke-width="1.2" clip-path="url(#c6)">
<polygon points="644.3,320 667.7,320 675.1,330.6 669.8,334.9 668.7,348.7 663.4,351.9 654.9,356.2 651.7,351.9 646.4,350.9 638.9,341.3 643.2,330.6" fill="#adadad" stroke="#adadad"/>
<polygon points="667.7,320 712.3,320 713.4,323.2 698.5,337 688.9,341.3 692.1,347.7 696.4,347.7 692.1,354 684.7,359.4 681.5,360.4 676.2,351.9 670.9,349.8 668.7,348.7 669.8,334.9 675.1,330.6" fill="#adadad" stroke="#adadad"/>
<polygon points="692.1,371.1 698.5,370 711.3,367.9 718.7,364.7 724,365.7 726.2,372.1 732.6,375.3 735.7,373.2 736.8,373.2 734.7,384.9 741.1,386 746.4,383.8 753.8,389.1 753.8,400.9 757,405.1 756,411.5 748.5,409.4 743.2,412.6 741.1,408.3 737.9,411.5 730.4,407.2 726.2,410.4 717.7,406.2 712.3,401.9 702.8,404 700.6,398.7 697.4,384.9 692.1,382.8 688.9,378.5" fill="#adadad" stroke="#adadad"/>
<polygon points="596.4,341.3 603.8,340.2 611.3,344.5 615.5,340.2 621.9,339.1 627.2,343.4 632.6,348.7 638.9,341.3 646.4,350.9 651.7,351.9 654.9,356.2 651.7,361.5 652.8,365.7 650.6,373.2 645.3,366.8 640,371.1 642.1,374.3 629.4,373.2 626.2,365.7 608.1,364.7 609.1,373.2 602.8,376.4 599.6,370 593.2,367.9 592.1,358.3 595.3,349.8" fill="#adadad" stroke="#adadad"/>
<polygon points="593.2,367.9 599.6,370 602.8,376.4 604.9,377.4 609.1,389.1 618.7,383.8 624,380.6 625.1,375.3 629.4,373.2 642.1,374.3 642.1,380.6 647.4,383.8 653.8,378.5 664.5,376.4 662.3,383.8 656,388.1 652.8,396.6 645.3,405.1 644.3,413.6 635.7,421.1 625.1,420 623,422.1 617.7,422.1 607,417.9 602.8,412.6 597.4,407.2 599.6,398.7 598.5,390.2 601.7,383.8 599.6,375.3" fill="#adadad" stroke="#adadad"/>
<polygon points="671.9,376.4 681.5,377.4 685.7,381.7 688.9,378.5 692.1,382.8 697.4,384.9 700.6,398.7 702.8,404 712.3,401.9 717.7,406.2 726.2,410.4 730.4,407.2 737.9,411.5 736.8,418.9 728.3,425.3 724,429.6 717.7,428.5 706,426.4 701.7,432.8 700.6,442.3 690,441.3 683.6,443.4 681.5,439.1 683.6,438.1 682.6,426.4 674,425.3 675.1,422.1 685.7,417.9 687.9,412.6 682.6,406.2 681.5,395.5 675.1,392.3 676.2,381.7" fill="#adadad" stroke="#adadad"/>
<polygon points="737.9,411.5 741.1,408.3 743.2,412.6 748.5,409.4 756,411.5 756,422.1 751.7,430.6 754.9,438.1 760.2,444.5 762.3,450.9 761.3,456.2 749.6,458.3 736.8,464.7 726.2,462.6 724,458.3 727.2,454 720.9,449.8 718.7,443.4 719.8,437 717.7,428.5 724,429.6 728.3,425.3 736.8,418.9" fill="#adadad" stroke="#adadad"/>
<polygon points="701.7,432.8 706,426.4 717.7,428.5 719.8,437 718.7,443.4 720.9,449.8 727.2,454 724,458.3 726.2,462.6 719.8,468.9 717.7,477.4 709.1,479.6 697.4,481.7 696.4,475.3 692.1,468.9 704.9,463.6 706,453 700.6,442.3" fill="#adadad" stroke="#adadad"/>
<polygon points="660.2,431.7 663.4,437 673,436 683.6,438.1 681.5,439.1 683.6,443.4 690,441.3 700.6,442.3 706,453 704.9,463.6 692.1,468.9 696.4,475.3 697.4,481.7 685.7,482.8 675.1,477.4 669.8,480.6 664.5,478.5 663.4,466.8 658.1,460.4 653.8,456.2 661.3,447.7 658.1,432.8" fill="#adadad" stroke="#adadad"/>
<polygon points="602.8,422.1 617.7,422.1 623,422.1 625.1,420 635.7,421.1 637.9,424.3 646.4,427.4 652.8,432.8 658.1,432.8 661.3,447.7 653.8,456.2 647.4,454 640,453 633.6,457.2 629.4,456.2 621.9,458.3 620.9,461.5 611.3,456.2 607,453 603.8,442.3 606,438.1 602.8,431.7" fill="#adadad" stroke="#adadad"/>
<polygon points="590,413.6 597.4,407.2 602.8,412.6 607,417.9 602.8,422.1 602.8,431.7 601.7,425.3 593.2,430.6 592.1,438.1 594.3,445.5 601.7,447.7 607,453 611.3,456.2 620.9,461.5 608.1,464.7 600.6,468.9 590,466.8" fill="#adadad" stroke="#adadad"/>
<polygon points="590,330.6 593.2,332.8 596.4,341.3 595.3,349.8 592.1,358.3 593.2,367.9 599.6,375.3 601.7,383.8 598.5,390.2 599.6,398.7 597.4,407.2 590,413.6" fill="#adadad" stroke="#adadad"/>
<polygon points="600.6,468.9 608.1,464.7 620.9,461.5 621.9,458.3 629.4,456.2 633.6,457.2 640,453 647.4,454 653.8,456.2 658.1,460.4 663.4,466.8 664.5,478.5 665.5,497.7 662.3,499.8 646.4,504 643.2,509.4 637.9,513.6 606,518.9 600.6,511.5 598.5,494.5 599.6,477.4" fill="#adadad" stroke="#adadad"/>
<polygon points="744.3,463.6 749.6,458.3 761.3,456.2 770.9,460.4 777.2,466.8 779.4,475.3 783.6,486 781.5,496.6 777.2,505.1 773,512.6 768.7,520 758.1,520 754.9,516.8 748.5,512.6 752.8,509.4 756,503 762.3,496.6 756,488.1 747.4,479.6 748.5,473.2" fill="#adadad" stroke="#adadad"/>
<polygon points="691.1,513.6 698.5,508.3 702.8,500.9 704.9,503 714.5,507.2 717.7,513.6 715.5,520 680.4,520 679.4,518.9 681.5,515.7" fill="#adadad" stroke="#adadad"/>
<polygon points="590,497.7 594.3,498.7 598.5,494.5 600.6,511.5 606,518.9 604.9,520 590,520" fill="#adadad" stroke="#adadad"/>
<polygon points="590,320 644.3,320 643.2,330.6 638.9,341.3 632.6,348.7 627.2,343.4 621.9,339.1 615.5,340.2 611.3,344.5 603.8,340.2 596.4,341.3 593.2,332.8 590,330.6" fill="#cdcdcd" stroke="#cdcdcd"/>
<polygon points="713.4,323.2 713.4,328.5 721.9,333.8 730.4,341.3 738.9,348.7 745.3,354 746.4,360.4 744.3,365.7 743.2,373.2 735.7,373.2 732.6,375.3 726.2,372.1 724,365.7 718.7,364.7 711.3,367.9 698.5,370 692.1,371.1 686.8,367.9 684.7,359.4 692.1,354 696.4,347.7 692.1,347.7 688.9,341.3 698.5,337" fill="#cdcdcd" stroke="#cdcdcd"/>
<polygon points="654.9,356.2 663.4,351.9 668.7,348.7 670.9,349.8 676.2,351.9 681.5,360.4 684.7,359.4 686.8,367.9 692.1,371.1 688.9,378.5 685.7,381.7 681.5,377.4 671.9,376.4 668.7,378.5 664.5,376.4 653.8,378.5 650.6,373.2 652.8,365.7 651.7,361.5" fill="#979797" stroke="#979797"/>
<polygon points="608.1,365.7 626.2,365.7 626.6,372.1 625.1,380.6 618.7,383.8 609.1,389.1 604.9,377.4 608.7,373.2" fill="#cdcdcd" stroke="#cdcdcd"/>
<polygon points="664.5,376.4 668.7,378.5 671.9,376.4 676.2,381.7 675.1,392.3 681.5,395.5 682.6,406.2 687.9,412.6 685.7,417.9 675.1,422.1 674,425.3 682.6,426.4 683.6,438.1 673,436 663.4,437 660.2,431.7 652.8,432.8 646.4,427.4 637.9,424.3 635.7,421.1 644.3,413.6 645.3,405.1 652.8,396.6 656,388.1 662.3,383.8" fill="#979797" stroke="#979797"/>
<polygon points="664.5,478.5 669.8,480.6 675.1,477.4 685.7,482.8 697.4,481.7 704.9,482.8 702.8,500.9 698.5,508.3 691.1,513.6 681.5,515.7 673,516.8 670.9,518.9 668.7,511.5 665.5,499.8 665.5,497.7" fill="#979797" stroke="#979797"/>
<polygon points="704.9,482.8 709.1,479.6 717.7,477.4 719.8,468.9 726.2,462.6 736.8,464.7 744.3,463.6 748.5,473.2 747.4,479.6 756,488.1 762.3,496.6 756,503 752.8,509.4 748.5,512.6 743.2,515.7 738.9,509.4 726.2,512.6 717.7,513.6 714.5,507.2 704.9,503 702.8,500.9" fill="#979797" stroke="#979797"/>
<polygon points="715.5,520 717.7,513.6 726.2,512.6 738.9,509.4 743.2,515.7 738.9,520" fill="#979797" stroke="#979797"/>
<polygon points="590,466.8 600.6,468.9 599.6,477.4 598.5,494.5 594.3,498.7 590,497.7" fill="#979797" stroke="#979797"/>
<polygon points="736.8,373.2 743.2,373.2 746.4,383.8 741.1,386 734.7,384.9" fill="#979797" stroke="#979797"/>
<polygon points="640,371.1 645.3,366.8 650.6,373.2 653.8,378.5 647.4,383.8 642.1,380.6 642.1,374.3" fill="#adadad" stroke="#adadad"/>
<polygon points="731.5,428.5 736.8,429.6 738.9,434.9 744.3,436 742.1,440.2 738.9,440.2 740,444.5 734.7,445.5 730.4,441.3 730,434.9" fill="#adadad" stroke="#adadad"/>
<polygon points="593.2,430.6 601.7,425.3 606,438.1 603.8,442.3 601.7,447.7 594.3,445.5 592.1,438.1" fill="#adadad" stroke="#adadad"/>
<polygon points="603.8,482.8 615.5,479.6 617.7,487 620.9,489.1 618.7,496.6 610.2,495.5 604.9,500.9 601.7,490.2" fill="#adadad" stroke="#adadad"/>
<polygon points="629.4,477.4 638.9,476.4 647.4,480.6 644.3,490.2 647.4,496.6 646.4,504 643.2,509.4 637.9,513.6 606,518.9 609.1,509.4 619.8,503 626.2,490.2" fill="#adadad" stroke="#adadad"/>
<polygon points="635.7,514.7 643.2,509.4 646.4,504 662.3,499.8 665.5,499.8 668.7,511.5 670.9,518.9 679.4,518.9 680.4,520 634.7,520" fill="#d9a07b" stroke="#d9a07b"/>
</g>
<path d="M644.3,320M667.7,320L675.1,330.6L669.8,334.9L668.7,348.7L663.4,351.9L654.9,356.2L651.7,351.9L646.4,350.9L638.9,341.3L643.2,330.6L644.3,320M667.7,320M712.3,320L713.4,323.2L698.5,337L688.9,341.3L692.1,347.7L696.4,347.7L692.1,354L684.7,359.4L681.5,360.4L676.2,351.9L670.9,349.8L668.7,348.7L669.8,334.9L675.1,330.6L667.7,320M692.1,371.1L698.5,370L711.3,367.9L718.7,364.7L724,365.7L726.2,372.1L732.6,375.3L735.7,373.2L736.8,373.2L734.7,384.9L741.1,386L746.4,383.8L753.8,389.1L753.8,400.9L757,405.1L756,411.5L748.5,409.4L743.2,412.6L741.1,408.3L737.9,411.5L730.4,407.2L726.2,410.4L717.7,406.2L712.3,401.9L702.8,404L700.6,398.7L697.4,384.9L692.1,382.8L688.9,378.5L692.1,371.1M596.4,341.3L603.8,340.2L611.3,344.5L615.5,340.2L621.9,339.1L627.2,343.4L632.6,348.7L638.9,341.3L646.4,350.9L651.7,351.9L654.9,356.2L651.7,361.5L652.8,365.7L650.6,373.2L645.3,366.8L640,371.1L642.1,374.3L629.4,373.2L626.2,365.7L608.1,364.7L609.1,373.2L602.8,376.4L599.6,370L593.2,367.9L592.1,358.3L595.3,349.8L596.4,341.3M593.2,367.9L599.6,370L602.8,376.4L604.9,377.4L609.1,389.1L618.7,383.8L624,380.6L625.1,375.3L629.4,373.2L642.1,374.3L642.1,380.6L647.4,383.8L653.8,378.5L664.5,376.4L662.3,383.8L656,388.1L652.8,396.6L645.3,405.1L644.3,413.6L635.7,421.1L625.1,420L623,422.1L617.7,422.1L607,417.9L602.8,412.6L597.4,407.2L599.6,398.7L598.5,390.2L601.7,383.8L599.6,375.3L593.2,367.9M671.9,376.4L681.5,377.4L685.7,381.7L688.9,378.5L692.1,382.8L697.4,384.9L700.6,398.7L702.8,404L712.3,401.9L717.7,406.2L726.2,410.4L730.4,407.2L737.9,411.5L736.8,418.9L728.3,425.3L724,429.6L717.7,428.5L706,426.4L701.7,432.8L700.6,442.3L690,441.3L683.6,443.4L681.5,439.1L683.6,438.1L682.6,426.4L674,425.3L675.1,422.1L685.7,417.9L687.9,412.6L682.6,406.2L681.5,395.5L675.1,392.3L676.2,381.7L671.9,376.4M737.9,411.5L741.1,408.3L743.2,412.6L748.5,409.4L756,411.5L756,422.1L751.7,430.6L754.9,438.1L760.2,444.5L762.3,450.9L761.3,456.2L749.6,458.3L736.8,464.7L726.2,462.6L724,458.3L727.2,454L720.9,449.8L718.7,443.4L719.8,437L717.7,428.5L724,429.6L728.3,425.3L736.8,418.9L737.9,411.5M701.7,432.8L706,426.4L717.7,428.5L719.8,437L718.7,443.4L720.9,449.8L727.2,454L724,458.3L726.2,462.6L719.8,468.9L717.7,477.4L709.1,479.6L697.4,481.7L696.4,475.3L692.1,468.9L704.9,463.6L706,453L700.6,442.3L701.7,432.8M660.2,431.7L663.4,437L673,436L683.6,438.1L681.5,439.1L683.6,443.4L690,441.3L700.6,442.3L706,453L704.9,463.6L692.1,468.9L696.4,475.3L697.4,481.7L685.7,482.8L675.1,477.4L669.8,480.6L664.5,478.5L663.4,466.8L658.1,460.4L653.8,456.2L661.3,447.7L658.1,432.8L660.2,431.7M602.8,422.1L617.7,422.1L623,422.1L625.1,420L635.7,421.1L637.9,424.3L646.4,427.4L652.8,432.8L658.1,432.8L661.3,447.7L653.8,456.2L647.4,454L640,453L633.6,457.2L629.4,456.2L621.9,458.3L620.9,461.5L611.3,456.2L607,453L603.8,442.3L606,438.1L602.8,431.7L602.8,422.1M590,413.6L597.4,407.2L602.8,412.6L607,417.9L602.8,422.1L602.8,431.7L601.7,425.3L593.2,430.6L592.1,438.1L594.3,445.5L601.7,447.7L607,453L611.3,456.2L620.9,461.5L608.1,464.7L600.6,468.9L590,466.8M590,413.6M590,330.6L593.2,332.8L596.4,341.3L595.3,349.8L592.1,358.3L593.2,367.9L599.6,375.3L601.7,383.8L598.5,390.2L599.6,398.7L597.4,407.2L590,413.6M590,330.6M600.6,468.9L608.1,464.7L620.9,461.5L621.9,458.3L629.4,456.2L633.6,457.2L640,453L647.4,454L653.8,456.2L658.1,460.4L663.4,466.8L664.5,478.5L665.5,497.7L662.3,499.8L646.4,504L643.2,509.4L637.9,513.6L606,518.9L600.6,511.5L598.5,494.5L599.6,477.4L600.6,468.9M744.3,463.6L749.6,458.3L761.3,456.2L770.9,460.4L777.2,466.8L779.4,475.3L783.6,486L781.5,496.6L777.2,505.1L773,512.6L768.7,520M758.1,520L754.9,516.8L748.5,512.6L752.8,509.4L756,503L762.3,496.6L756,488.1L747.4,479.6L748.5,473.2L744.3,463.6M691.1,513.6L698.5,508.3L702.8,500.9L704.9,503L714.5,507.2L717.7,513.6L715.5,520M680.4,520L679.4,518.9L681.5,515.7L691.1,513.6M590,497.7L594.3,498.7L598.5,494.5L600.6,511.5L606,518.9L604.9,520M590,520M590,497.7M590,320M644.3,320L643.2,330.6L638.9,341.3L632.6,348.7L627.2,343.4L621.9,339.1L615.5,340.2L611.3,344.5L603.8,340.2L596.4,341.3L593.2,332.8L590,330.6M590,320M713.4,323.2L713.4,328.5L721.9,333.8L730.4,341.3L738.9,348.7L745.3,354L746.4,360.4L744.3,365.7L743.2,373.2L735.7,373.2L732.6,375.3L726.2,372.1L724,365.7L718.7,364.7L711.3,367.9L698.5,370L692.1,371.1L686.8,367.9L684.7,359.4L692.1,354L696.4,347.7L692.1,347.7L688.9,341.3L698.5,337L713.4,323.2M654.9,356.2L663.4,351.9L668.7,348.7L670.9,349.8L676.2,351.9L681.5,360.4L684.7,359.4L686.8,367.9L692.1,371.1L688.9,378.5L685.7,381.7L681.5,377.4L671.9,376.4L668.7,378.5L664.5,376.4L653.8,378.5L650.6,373.2L652.8,365.7L651.7,361.5L654.9,356.2M608.1,365.7L626.2,365.7L626.6,372.1L625.1,380.6L618.7,383.8L609.1,389.1L604.9,377.4L608.7,373.2L608.1,365.7M664.5,376.4L668.7,378.5L671.9,376.4L676.2,381.7L675.1,392.3L681.5,395.5L682.6,406.2L687.9,412.6L685.7,417.9L675.1,422.1L674,425.3L682.6,426.4L683.6,438.1L673,436L663.4,437L660.2,431.7L652.8,432.8L646.4,427.4L637.9,424.3L635.7,421.1L644.3,413.6L645.3,405.1L652.8,396.6L656,388.1L662.3,383.8L664.5,376.4M664.5,478.5L669.8,480.6L675.1,477.4L685.7,482.8L697.4,481.7L704.9,482.8L702.8,500.9L698.5,508.3L691.1,513.6L681.5,515.7L673,516.8L670.9,518.9L668.7,511.5L665.5,499.8L665.5,497.7L664.5,478.5M704.9,482.8L709.1,479.6L717.7,477.4L719.8,468.9L726.2,462.6L736.8,464.7L744.3,463.6L748.5,473.2L747.4,479.6L756,488.1L762.3,496.6L756,503L752.8,509.4L748.5,512.6L743.2,515.7L738.9,509.4L726.2,512.6L717.7,513.6L714.5,507.2L704.9,503L702.8,500.9L704.9,482.8M715.5,520L717.7,513.6L726.2,512.6L738.9,509.4L743.2,515.7L738.9,520M715.5,520M590,466.8L600.6,468.9L599.6,477.4L598.5,494.5L594.3,498.7L590,497.7M590,466.8M736.8,373.2L743.2,373.2L746.4,383.8L741.1,386L734.7,384.9L736.8,373.2M640,371.1L645.3,366.8L650.6,373.2L653.8,378.5L647.4,383.8L642.1,380.6L642.1,374.3L640,371.1M731.5,428.5L736.8,429.6L738.9,434.9L744.3,436L742.1,440.2L738.9,440.2L740,444.5L734.7,445.5L730.4,441.3L730,434.9L731.5,428.5M593.2,430.6L601.7,425.3L606,438.1L603.8,442.3L601.7,447.7L594.3,445.5L592.1,438.1L593.2,430.6M603.8,482.8L615.5,479.6L617.7,487L620.9,489.1L618.7,496.6L610.2,495.5L604.9,500.9L601.7,490.2L603.8,482.8M629.4,477.4L638.9,476.4L647.4,480.6L644.3,490.2L647.4,496.6L646.4,504L643.2,509.4L637.9,513.6L606,518.9L609.1,509.4L619.8,503L626.2,490.2L629.4,477.4M635.7,514.7L643.2,509.4L646.4,504L662.3,499.8L665.5,499.8L668.7,511.5L670.9,518.9L679.4,518.9L680.4,520M634.7,520L635.7,514.7" fill="none" stroke="#fff" stroke-opacity="0.5" stroke-width="0.8" stroke-linejoin="round"/>
<clipPath id="c7"><rect x="190" y="500" width="200" height="200"/></clipPath>
<g stroke-linejoin="round" stroke-width="1.2" clip-path="url(#c7)">
<polygon points="217.7,589.4 226.2,587.2 240,585.1 241.1,577.7 248.5,576.6 249.6,571.3 258.1,568.1 262.3,561.7 270.9,560.6 282.6,556.4 288.9,552.1 299.6,550 303.8,540.4 311.3,536.2 313.4,533 314.5,538.3 320.9,545.7 326.2,557.4 332.6,558.5 331.5,570.2 324,576.6 323,587.2 328.3,595.7 330.4,604.3 315.5,610.6 312.3,618.1 306,623.4 311.3,627.7 317.7,633 330.4,628.7 337.9,636.2 343.2,635.1 346.4,646.8 350.6,658.5 345.3,663.8 347.4,674.5 351.7,687.2 360.2,691.5 360.2,700 275.1,700 269.8,691.5 270.9,683 267.7,676.6 258.1,672.3 248.5,666 243.2,668.1 232.6,672.3 217.7,673.4 208.1,670.2 216.6,661.7 217.7,644.7 207,636.2 199.6,627.7 195.3,614.9 199.6,602.1 200.6,595.7" fill="#adadad" stroke="#adadad"/>
<polygon points="200.6,500 374,500 375.1,511.7 370.9,516 359.1,520.2 360.2,526.6 347.4,541.5 342.1,541.5 334.7,548.9 332.6,558.5 326.2,557.4 320.9,545.7 314.5,538.3 313.4,533 311.3,536.2 303.8,540.4 299.6,550 288.9,552.1 282.6,556.4 270.9,560.6 262.3,561.7 258.1,568.1 249.6,571.3 248.5,576.6 241.1,577.7 240,585.1 226.2,587.2 217.7,589.4 214.5,585.1 211.3,573.4 202.8,568.1 207,557.4 197.4,551.1 192.1,540.4 198.5,534 206,529.8 196.4,527.7 190,517 194.3,508.5" fill="#979797" stroke="#979797"/>
<polygon points="288.9,591.5 294.3,587.2 300.6,589.4 302.8,590.4 308.1,589.4 313.4,593.6 318.7,589.4 324,591.5 328.3,596.8 329.4,603.2 315.5,609.6 311.3,619.1 306,622.3 300.6,610.6 295.3,603.2 296.4,596.8 290,597.9" fill="#979797" stroke="#979797"/>
<polygon points="306,623.4 311.3,627.7 317.7,633 330.4,628.7 337.9,636.2 343.2,635.1 346.4,646.8 350.6,658.5 345.3,663.8 336.8,661.7 330.4,668.1 326.2,670.2 317.7,666 314.5,656.4 317.7,648.9 315.5,642.6 308.1,638.3 304.9,631.9" fill="#979797" stroke="#979797"/>
<polygon points="246.4,668.1 258.1,672.3 267.7,676.6 270.9,683 269.8,691.5 262.3,692.6 253.8,690.4 247.4,683" fill="#979797" stroke="#979797"/>
<polygon points="271.9,676.6 281.5,668.1 288.9,661.7 296.4,662.8 298.5,668.1 293.2,676.6 283.6,685.1 279.4,691.5 274,690.4 270.9,683" fill="#979797" stroke="#979797"/>
<polygon points="220.9,691.5 219.8,685.1 232.6,688.3 241.1,680.9 248.5,683 253.8,690.4 262.3,692.6 269.8,691.5 275.1,700 224,700" fill="#979797" stroke="#979797"/>
<polygon points="208.1,670.2 217.7,673.4 232.6,672.3 243.2,668.1 248.5,666 246.4,668.1 247.4,683 241.1,680.9 232.6,688.3 219.8,685.1 208.1,678.7" fill="#cdcdcd" stroke="#cdcdcd"/>
<polygon points="374,500 390,500 390,686.2 381.5,687.2 375.1,685.1 367.7,680.9 366.6,674.5 360.2,676.6 362.3,683 360.2,691.5 351.7,687.2 347.4,674.5 345.3,663.8 350.6,658.5 346.4,646.8 343.2,635.1 346.4,631.9 356,627.7 360.2,624.5 368.7,625.5 375.1,623.4 371.9,614.9 366.6,610.6 364.5,614.9 354.9,616 344.3,612.8 349.6,607.4 347.4,603.2 336.8,602.1 330.4,604.3 328.3,595.7 323,587.2 324,576.6 331.5,570.2 332.6,558.5 334.7,548.9 342.1,541.5 347.4,541.5 360.2,526.6 359.1,520.2 370.9,516 375.1,511.7" fill="#979797" stroke="#979797"/>
<polygon points="360.2,691.5 362.3,683 360.2,676.6 366.6,674.5 367.7,680.9 375.1,685.1 381.5,687.2 390,686.2 390,700 360.2,700" fill="#979797" stroke="#979797"/>
<polygon points="200.6,500 215.5,500 216.6,506.4 224,511.7 224,517 214.5,520.2 206,529.8 196.4,527.7 190,517 194.3,508.5" fill="#adadad" stroke="#adadad"/>
<polygon points="221.9,653.2 229.4,642.6 233.6,643.6 231.5,653.2 226.2,657.4" fill="#979797" stroke="#979797"/>
<polygon points="332.6,558.5 334.7,548.9 342.1,541.5 347.4,541.5 351.7,548.9 360.2,557.4 361.3,570.2 366.6,578.7 359.1,585.1 360.2,590.4 347.4,591.5 346.4,598.9 347.4,603.2 336.8,602.1 330.4,604.3 328.3,595.7 323,587.2 324,576.6 331.5,570.2" fill="#adadad" stroke="#adadad"/>
<polygon points="347.4,591.5 360.2,590.4 359.1,585.1 366.6,578.7 375.1,583 383.6,585.1 390,583 390,606.4 382.6,604.3 377.2,606.4 371.9,614.9 366.6,610.6 364.5,614.9 365.5,600 357,593.6" fill="#adadad" stroke="#adadad"/>
<polygon points="261.1,500 280,500 280,501.1 276,502.8 270.2,503.6 269.4,507.7 265.1,509.4 266,516 265.1,520.9 259.4,521.7 254.5,516.8 251.1,511.1 258.5,511.9 257.7,506 263.6,502.8" fill="#d9a07b" stroke="#d9a07b"/>
<polygon points="290,500 321.5,500 322.1,506.8 314,511.1 313.2,518.5 299.1,514.3 289.1,504.5" fill="#d9a07b" stroke="#d9a07b"/>
<polygon points="309.1,621.3 315.5,610.6 330.4,604.3 336.8,602.1 347.4,603.2 349.6,607.4 344.3,612.8 354.9,616 364.5,614.9 366.6,610.6 371.9,614.9 375.1,623.4 368.7,625.5 360.2,624.5 356,627.7 346.4,631.9 343.2,635.1 337.9,636.2 330.4,628.7 317.7,633 311.3,627.7" fill="#d9a07b" stroke="#d9a07b"/>
<polygon points="377.2,606.4 382.6,604.3 390,606.4 390,624.5 380.4,625.5 375.1,618.1" fill="#d9a07b" stroke="#d9a07b"/>
<polygon points="219.8,685.1 232.6,688.3 241.1,680.9 248.5,683 247.4,687.2 240,690.4 238.9,694.7 232.6,700 224,700 220.9,691.5" fill="#d9a07b" stroke="#d9a07b"/>
<polygon points="260.2,551.1 264.5,548.5 269.8,551.1 271.3,557.4 268.7,560.6 262.3,561.7 260.2,557.4" fill="#ff8212" stroke="#ff8212"/>
<polygon points="217.7,589.4 226.2,587.2 229.4,591.5 240,591.5 251.7,595.7 256,592.6 258.1,598.9 252.8,605.3 251.7,618.1 248.5,619.1 244.3,613.8 232.6,617 226.2,611.7 227.2,604.3 221.9,595.7" fill="#ff8212" stroke="#ff8212"/>
<polygon points="297.4,580.9 304.9,573.4 306,557.4 309.1,554.3 316.6,558.5 323,557.4 327.2,560.6 330.4,561.7 332.1,570.2 324,574.5 323,583 318.7,589.4 313.4,593.6 308.1,589.4 302.8,590.4 300.6,585.1" fill="#ff8212" stroke="#ff8212"/>
<polygon points="280.4,646.8 290,643.6 298.5,636.2 304.9,631.9 308.1,638.3 315.5,642.6 317.7,648.9 313.4,655.3 304.9,656.4 300.6,660.6 298.5,668.1 296.4,662.8 290,661.7 282.6,655.3" fill="#ff8212" stroke="#ff8212"/>
<polygon points="331.5,633 335.7,629.8 342.1,636.2 340,641.5 336.8,638.3 332.6,637.2" fill="#ff8212" stroke="#ff8212"/>
<polygon points="342.1,687.2 346.4,680.9 349.6,690.4 346.4,692.6" fill="#ff8212" stroke="#ff8212"/>
<polygon points="342.1,634 350.6,631.9 354.9,627.7 361.3,631.9 362.3,638.3 358.1,644.7 357,659.6 353.8,660.6 349.6,655.3 346.4,644.7" fill="#dc0a32" stroke="#dc0a32"/>
</g>
<path d="M217.7,589.4L226.2,587.2L240,585.1L241.1,577.7L248.5,576.6L249.6,571.3L258.1,568.1L262.3,561.7L270.9,560.6L282.6,556.4L288.9,552.1L299.6,550L303.8,540.4L311.3,536.2L313.4,533L314.5,538.3L320.9,545.7L326.2,557.4L332.6,558.5L331.5,570.2L324,576.6L323,587.2L328.3,595.7L330.4,604.3L315.5,610.6L312.3,618.1L306,623.4L311.3,627.7L317.7,633L330.4,628.7L337.9,636.2L343.2,635.1L346.4,646.8L350.6,658.5L345.3,663.8L347.4,674.5L351.7,687.2L360.2,691.5L360.2,700M275.1,700L269.8,691.5L270.9,683L267.7,676.6L258.1,672.3L248.5,666L243.2,668.1L232.6,672.3L217.7,673.4L208.1,670.2L216.6,661.7L217.7,644.7L207,636.2L199.6,627.7L195.3,614.9L199.6,602.1L200.6,595.7L217.7,589.4M200.6,500M374,500L375.1,511.7L370.9,516L359.1,520.2L360.2,526.6L347.4,541.5L342.1,541.5L334.7,548.9L332.6,558.5L326.2,557.4L320.9,545.7L314.5,538.3L313.4,533L311.3,536.2L303.8,540.4L299.6,550L288.9,552.1L282.6,556.4L270.9,560.6L262.3,561.7L258.1,568.1L249.6,571.3L248.5,576.6L241.1,577.7L240,585.1L226.2,587.2L217.7,589.4L214.5,585.1L211.3,573.4L202.8,568.1L207,557.4L197.4,551.1L192.1,540.4L198.5,534L206,529.8L196.4,527.7L190,517L194.3,508.5L200.6,500M288.9,591.5L294.3,587.2L300.6,589.4L302.8,590.4L308.1,589.4L313.4,593.6L318.7,589.4L324,591.5L328.3,596.8L329.4,603.2L315.5,609.6L311.3,619.1L306,622.3L300.6,610.6L295.3,603.2L296.4,596.8L290,597.9L288.9,591.5M306,623.4L311.3,627.7L317.7,633L330.4,628.7L337.9,636.2L343.2,635.1L346.4,646.8L350.6,658.5L345.3,663.8L336.8,661.7L330.4,668.1L326.2,670.2L317.7,666L314.5,656.4L317.7,648.9L315.5,642.6L308.1,638.3L304.9,631.9L306,623.4M246.4,668.1L258.1,672.3L267.7,676.6L270.9,683L269.8,691.5L262.3,692.6L253.8,690.4L247.4,683L246.4,668.1M271.9,676.6L281.5,668.1L288.9,661.7L296.4,662.8L298.5,668.1L293.2,676.6L283.6,685.1L279.4,691.5L274,690.4L270.9,683L271.9,676.6M220.9,691.5L219.8,685.1L232.6,688.3L241.1,680.9L248.5,683L253.8,690.4L262.3,692.6L269.8,691.5L275.1,700M224,700L220.9,691.5M208.1,670.2L217.7,673.4L232.6,672.3L243.2,668.1L248.5,666L246.4,668.1L247.4,683L241.1,680.9L232.6,688.3L219.8,685.1L208.1,678.7L208.1,670.2M374,500M390,500M390,686.2L381.5,687.2L375.1,685.1L367.7,680.9L366.6,674.5L360.2,676.6L362.3,683L360.2,691.5L351.7,687.2L347.4,674.5L345.3,663.8L350.6,658.5L346.4,646.8L343.2,635.1L346.4,631.9L356,627.7L360.2,624.5L368.7,625.5L375.1,623.4L371.9,614.9L366.6,610.6L364.5,614.9L354.9,616L344.3,612.8L349.6,607.4L347.4,603.2L336.8,602.1L330.4,604.3L328.3,595.7L323,587.2L324,576.6L331.5,570.2L332.6,558.5L334.7,548.9L342.1,541.5L347.4,541.5L360.2,526.6L359.1,520.2L370.9,516L375.1,511.7L374,500M360.2,691.5L362.3,683L360.2,676.6L366.6,674.5L367.7,680.9L375.1,685.1L381.5,687.2L390,686.2M390,700M360.2,700L360.2,691.5M200.6,500M215.5,500L216.6,506.4L224,511.7L224,517L214.5,520.2L206,529.8L196.4,527.7L190,517L194.3,508.5L200.6,500M221.9,653.2L229.4,642.6L233.6,643.6L231.5,653.2L226.2,657.4L221.9,653.2M332.6,558.5L334.7,548.9L342.1,541.5L347.4,541.5L351.7,548.9L360.2,557.4L361.3,570.2L366.6,578.7L359.1,585.1L360.2,590.4L347.4,591.5L346.4,598.9L347.4,603.2L336.8,602.1L330.4,604.3L328.3,595.7L323,587.2L324,576.6L331.5,570.2L332.6,558.5M347.4,591.5L360.2,590.4L359.1,585.1L366.6,578.7L375.1,583L383.6,585.1L390,583M390,606.4L382.6,604.3L377.2,606.4L371.9,614.9L366.6,610.6L364.5,614.9L365.5,600L357,593.6L347.4,591.5M261.1,500M280,500L280,501.1L276,502.8L270.2,503.6L269.4,507.7L265.1,509.4L266,516L265.1,520.9L259.4,521.7L254.5,516.8L251.1,511.1L258.5,511.9L257.7,506L263.6,502.8L261.1,500M290,500M321.5,500L322.1,506.8L314,511.1L313.2,518.5L299.1,514.3L289.1,504.5L290,500M309.1,621.3L315.5,610.6L330.4,604.3L336.8,602.1L347.4,603.2L349.6,607.4L344.3,612.8L354.9,616L364.5,614.9L366.6,610.6L371.9,614.9L375.1,623.4L368.7,625.5L360.2,624.5L356,627.7L346.4,631.9L343.2,635.1L337.9,636.2L330.4,628.7L317.7,633L311.3,627.7L309.1,621.3M377.2,606.4L382.6,604.3L390,606.4M390,624.5L380.4,625.5L375.1,618.1L377.2,606.4M219.8,685.1L232.6,688.3L241.1,680.9L248.5,683L247.4,687.2L240,690.4L238.9,694.7L232.6,700M224,700L220.9,691.5L219.8,685.1M260.2,551.1L264.5,548.5L269.8,551.1L271.3,557.4L268.7,560.6L262.3,561.7L260.2,557.4L260.2,551.1M217.7,589.4L226.2,587.2L229.4,591.5L240,591.5L251.7,595.7L256,592.6L258.1,598.9L252.8,605.3L251.7,618.1L248.5,619.1L244.3,613.8L232.6,617L226.2,611.7L227.2,604.3L221.9,595.7L217.7,589.4M297.4,580.9L304.9,573.4L306,557.4L309.1,554.3L316.6,558.5L323,557.4L327.2,560.6L330.4,561.7L332.1,570.2L324,574.5L323,583L318.7,589.4L313.4,593.6L308.1,589.4L302.8,590.4L300.6,585.1L297.4,580.9M280.4,646.8L290,643.6L298.5,636.2L304.9,631.9L308.1,638.3L315.5,642.6L317.7,648.9L313.4,655.3L304.9,656.4L300.6,660.6L298.5,668.1L296.4,662.8L290,661.7L282.6,655.3L280.4,646.8M331.5,633L335.7,629.8L342.1,636.2L340,641.5L336.8,638.3L332.6,637.2L331.5,633M342.1,687.2L346.4,680.9L349.6,690.4L346.4,692.6L342.1,687.2M342.1,634L350.6,631.9L354.9,627.7L361.3,631.9L362.3,638.3L358.1,644.7L357,659.6L353.8,660.6L349.6,655.3L346.4,644.7L342.1,634" fill="none" stroke="#fff" stroke-opacity="0.5" stroke-width="0.8" stroke-linejoin="round"/>
<clipPath id="c8"><rect x="390" y="500" width="200" height="200"/></clipPath>
<g stroke-linejoin="round" stroke-width="1.2" clip-path="url(#c8)">
<polygon points="390,500 590,500 590,700 390,700" fill="#adadad" stroke="#adadad"/>
<polygon points="582.6,574.5 590,568.1 590,589.4 585.7,585.1" fill="#cdcdcd" stroke="#cdcdcd"/>
<polygon points="390,500 398.5,500 404.9,512.8 396.4,524.5 390,531.9" fill="#979797" stroke="#979797"/>
<polygon points="420.9,550 424,534 432.6,524.5 442.1,521.3 453.8,525.5 458.1,535.1 459.1,542.6 451.7,551.1 438.9,551.1 430.4,556.4" fill="#979797" stroke="#979797"/>
<polygon points="460.2,530.9 468.7,525.5 467.7,517 475.1,513.8 482.6,517 486.8,523.4 494.3,520.2 500.6,523.4 492.1,527.7 486.8,535.1 484.7,543.6 494.3,545.7 498.5,555.3 506,557.4 504.9,563.8 494.3,570.2 496.4,573.4 494.3,575.5 496.4,585.1 488.9,590.4 483.6,585.1 479.4,572.3 469.8,566 461.3,569.1 460.2,563.8 451.7,563.8 453.8,553.2 459.1,542.6 458.1,535.1" fill="#979797" stroke="#979797"/>
<polygon points="506,557.4 512.3,551.1 511.3,545.7 519.4,537.2 514.5,530.9 513.4,519.1 515.5,517 526.2,523.4 531.5,520.2 536.8,518.1 566.6,518.1 564.5,527.7 554.9,530.9 553.8,546.8 560.2,555.3 566.6,551.1 578.3,550 581.5,557.4 579.4,563.8 581.5,570.2 577.2,580.9 582.6,589.4 577.2,593.6 561.3,593.6 554.9,591.5 550.6,585.1 547.4,578.7 541.1,584 540,580.9 534.7,581.9 529.4,577.7 523,580.9 517.7,571.3 513.4,575.5 504.9,570.2 504.9,563.8" fill="#979797" stroke="#979797"/>
<polygon points="482.6,619.1 490,610.6 498.5,607.4 503.8,610.6 510.2,608.5 509.1,614.9 514.5,616 517.7,623.4 509.1,636.2 502.8,646.8 494.3,646.8 490,640.4 484.7,636.2 483.6,627.7" fill="#979797" stroke="#979797"/>
<polygon points="517.7,623.4 518.7,618.1 523,616 526.2,610.6 536.8,609.6 543.2,614.9 546.4,621.3 543.2,633 538.9,640.4 542.1,648.9 536.8,652.1 520.9,658.5 515.5,656.4 506,661.7 500.6,656.4 494.3,658.5 487.9,653.2 492.1,646.8 502.8,646.8 509.1,636.2" fill="#979797" stroke="#979797"/>
<polygon points="433.6,653.2 445.3,646.8 456,640.4 463.4,640.4 468.7,644.7 475.1,645.7 466.6,648.9 461.3,653.2 465.5,661.7 464.5,668.1 467.7,676.6 462.3,680.9 458.1,687.2 451.7,687.2 446.4,678.7 443.2,668.1 437.9,666 435.7,659.6" fill="#979797" stroke="#979797"/>
<polygon points="453.8,625.5 462.3,622.3 467.7,619.1 475.1,619.1 481.5,624.5 483.6,636.2 490,640.4 492.1,646.8 481.5,648.9 475.1,645.7 468.7,644.7 463.4,640.4 456,640.4 458.1,633" fill="#979797" stroke="#979797"/>
<polygon points="462.3,680.9 467.7,676.6 471.9,673.4 482.6,672.3 481.5,666 487.9,660.6 493.2,658.5 500.6,662.8 506,661.7 511.3,672.3 509.1,680.9 502.8,685.1 490,687.2 481.5,694.7 468.7,691.5 464.5,685.1" fill="#979797" stroke="#979797"/>
<polygon points="390,676.6 395.3,676.6 402.8,672.3 415.5,669.1 421.9,661.7 432.6,659.6 435.7,659.6 437.9,666 443.2,668.1 446.4,678.7 451.7,687.2 458.1,687.2 462.3,680.9 464.5,685.1 468.7,691.5 466.6,700 390,700" fill="#979797" stroke="#979797"/>
<polygon points="390,623.4 399.6,621.3 413.4,619.1 415.5,623.4 417.7,638.3 414.5,648.9 407,648.9 404.9,642.6 397.4,640.4 393.2,646.8 390,644.7" fill="#979797" stroke="#979797"/>
<polygon points="561.3,593.6 577.2,593.6 582.6,589.4 590,591.5 590,614.9 581.5,616 577.2,620.2 570.9,620.2 566.6,611.7 560.2,606.4 558.1,606.4" fill="#979797" stroke="#979797"/>
<polygon points="513.4,642.6 519.8,641.5 520.9,648.9 515.5,647.9" fill="#cdcdcd" stroke="#cdcdcd"/>
<polygon points="541.1,527.7 547.4,526.6 548.5,533 543.2,536.2" fill="#cdcdcd" stroke="#cdcdcd"/>
<polygon points="557,530.9 565.5,533 564.5,539.4 559.1,541.5 556,536.2" fill="#cdcdcd" stroke="#cdcdcd"/>
<polygon points="579.4,688.3 585.7,685.1 588.9,690.4 582.6,693.6" fill="#cdcdcd" stroke="#cdcdcd"/>
<polygon points="501.7,500 521.9,500 519.8,505.3 515.5,507.4 502.8,506.4" fill="#d9a07b" stroke="#d9a07b"/>
<polygon points="506,600 504.9,596.8 512.3,593.6 519.8,591.5 525.1,594.7 531.5,595.7 536.8,604.3 536.8,609.6 526.2,610.6 523,616 518.7,618.1 517.7,623.4 514.5,616 509.1,614.9 510.2,608.5 514.5,603.2" fill="#d9a07b" stroke="#d9a07b"/>
<polygon points="390,608.5 408.1,603.2 410.2,587.2 416.6,593.6 421.9,588.3 427.2,593.6 436.8,596.8 438.9,601.1 431.5,609.6 424,608.5 423,623.4 415.5,623.4 413.4,619.1 399.6,621.3 390,619.1" fill="#d9a07b" stroke="#d9a07b"/>
<polygon points="393.2,646.8 397.4,640.4 404.9,642.6 407,648.9 417.7,646.8 419.8,654.3 413.4,658.5 415.5,669.1 402.8,672.3 395.3,676.6 394.3,668.1 399.6,661.7 394.3,657.4" fill="#d9a07b" stroke="#d9a07b"/>
<polygon points="448.5,652.1 454.9,650.6 457,655.3 453.8,659.6 453.4,663.4 449.6,659.6" fill="#d9a07b" stroke="#d9a07b"/>
<polygon points="538.9,640.4 551.7,633 558.1,633 570.9,620.2 577.2,620.2 582.6,628.7 584.7,636.2 581.5,642.6 574,651.1 568.7,653.2 563.4,661.7 564.5,668.1 552.8,672.3 549.6,659.6 546.4,653.2 542.1,648.9" fill="#7fae84" stroke="#7fae84"/>
<polygon points="520.9,658.5 536.8,652.1 542.1,648.9 546.4,653.2 549.6,659.6 552.8,672.3 564.5,668.1 565.5,676.6 561.3,681.9 564.5,689.4 561.3,693.6 556,700 536.8,700 538.9,691.5 537.9,683 545.3,676.6 538.9,675.5 530.4,674.5 523,667" fill="#d9a07b" stroke="#d9a07b"/>
<polygon points="578.3,598.9 583.6,595.1 588.9,599.6 583.6,603.8" fill="#d9a07b" stroke="#d9a07b"/>
<polygon points="486.8,535.1 492.1,527.7 500.6,523.4 506,518.1 513.4,519.1 514.5,530.9 519.4,537.2 511.3,545.7 512.3,551.1 506,557.4 498.5,555.3 494.3,545.7 484.7,543.6" fill="#ff8212" stroke="#ff8212"/>
<polygon points="488.9,590.4 496.4,585.1 494.3,575.5 504.9,570.2 513.4,575.5 517.7,571.3 518.7,577.7 525.1,585.1 519.8,591.5 512.3,593.6 504.9,596.8 506,600 514.5,603.2 510.2,608.5 503.8,610.6 498.5,607.4 497.4,595.7 490,594.7" fill="#ff8212" stroke="#ff8212"/>
<polygon points="542.1,602.1 541.1,584 547.4,578.7 550.6,585.1 554.9,591.5 561.3,593.6 558.1,606.4 553.8,608.5 547.4,616 543.2,614.9 536.8,609.6 536.8,604.3" fill="#ff8212" stroke="#ff8212"/>
<polygon points="461.3,653.2 466.6,648.9 475.1,645.7 481.5,648.9 486.8,656.4 493.2,658.5 487.9,660.6 481.5,666 482.6,672.3 471.9,673.4 467.7,676.6 464.5,668.1 465.5,661.7" fill="#ff8212" stroke="#ff8212"/>
<polygon points="525.1,683 529.4,686.2 533.6,685.1 536.8,691.5 534.7,695.7 536.8,700 526.2,700 529.4,692.6" fill="#ff8212" stroke="#ff8212"/>
<polygon points="470.9,507.4 477.2,504.3 481.5,500 499.6,500 502.8,506.4 515.5,507.4 515.5,517 506,518.1 500.6,523.4 494.3,520.2 486.8,523.4 482.6,517 475.1,513.8 470.9,512.8" fill="#dc0a32" stroke="#dc0a32"/>
<polygon points="520.9,589.4 526.2,584 523,580.9 529.4,577.7 534.7,581.9 540,580.9 542.1,602.1 536.8,604.3 531.5,595.7 525.1,594.7" fill="#dc0a32" stroke="#dc0a32"/>
<polygon points="468.7,629.8 473,624.5 474,630.9 470.4,631.9" fill="#dc0a32" stroke="#dc0a32"/>
<polygon points="579.4,636.2 585.7,634 590,634 590,651.1 585.7,652.1 581.5,646.8" fill="#1e7d3c" stroke="#1e7d3c"/>
<polygon points="517,604.7 521.9,602.6 526.8,605.3 521.9,608.1" fill="#cdcdcd" stroke="#cdcdcd"/>
<polygon points="558.1,638.3 566.6,636.2 569.8,640.4 563.4,644.7" fill="#cdcdcd" stroke="#cdcdcd"/>
</g>
<path d="M390,500M590,500M590,700M390,700M390,500M582.6,574.5L590,568.1M590,589.4L585.7,585.1L582.6,574.5M390,500M398.5,500L404.9,512.8L396.4,524.5L390,531.9M390,500M420.9,550L424,534L432.6,524.5L442.1,521.3L453.8,525.5L458.1,535.1L459.1,542.6L451.7,551.1L438.9,551.1L430.4,556.4L420.9,550M460.2,530.9L468.7,525.5L467.7,517L475.1,513.8L482.6,517L486.8,523.4L494.3,520.2L500.6,523.4L492.1,527.7L486.8,535.1L484.7,543.6L494.3,545.7L498.5,555.3L506,557.4L504.9,563.8L494.3,570.2L496.4,573.4L494.3,575.5L496.4,585.1L488.9,590.4L483.6,585.1L479.4,572.3L469.8,566L461.3,569.1L460.2,563.8L451.7,563.8L453.8,553.2L459.1,542.6L458.1,535.1L460.2,530.9M506,557.4L512.3,551.1L511.3,545.7L519.4,537.2L514.5,530.9L513.4,519.1L515.5,517L526.2,523.4L531.5,520.2L536.8,518.1L566.6,518.1L564.5,527.7L554.9,530.9L553.8,546.8L560.2,555.3L566.6,551.1L578.3,550L581.5,557.4L579.4,563.8L581.5,570.2L577.2,580.9L582.6,589.4L577.2,593.6L561.3,593.6L554.9,591.5L550.6,585.1L547.4,578.7L541.1,584L540,580.9L534.7,581.9L529.4,577.7L523,580.9L517.7,571.3L513.4,575.5L504.9,570.2L504.9,563.8L506,557.4M482.6,619.1L490,610.6L498.5,607.4L503.8,610.6L510.2,608.5L509.1,614.9L514.5,616L517.7,623.4L509.1,636.2L502.8,646.8L494.3,646.8L490,640.4L484.7,636.2L483.6,627.7L482.6,619.1M517.7,623.4L518.7,618.1L523,616L526.2,610.6L536.8,609.6L543.2,614.9L546.4,621.3L543.2,633L538.9,640.4L542.1,648.9L536.8,652.1L520.9,658.5L515.5,656.4L506,661.7L500.6,656.4L494.3,658.5L487.9,653.2L492.1,646.8L502.8,646.8L509.1,636.2L517.7,623.4M433.6,653.2L445.3,646.8L456,640.4L463.4,640.4L468.7,644.7L475.1,645.7L466.6,648.9L461.3,653.2L465.5,661.7L464.5,668.1L467.7,676.6L462.3,680.9L458.1,687.2L451.7,687.2L446.4,678.7L443.2,668.1L437.9,666L435.7,659.6L433.6,653.2M453.8,625.5L462.3,622.3L467.7,619.1L475.1,619.1L481.5,624.5L483.6,636.2L490,640.4L492.1,646.8L481.5,648.9L475.1,645.7L468.7,644.7L463.4,640.4L456,640.4L458.1,633L453.8,625.5M462.3,680.9L467.7,676.6L471.9,673.4L482.6,672.3L481.5,666L487.9,660.6L493.2,658.5L500.6,662.8L506,661.7L511.3,672.3L509.1,680.9L502.8,685.1L490,687.2L481.5,694.7L468.7,691.5L464.5,685.1L462.3,680.9M390,676.6L395.3,676.6L402.8,672.3L415.5,669.1L421.9,661.7L432.6,659.6L435.7,659.6L437.9,666L443.2,668.1L446.4,678.7L451.7,687.2L458.1,687.2L462.3,680.9L464.5,685.1L468.7,691.5L466.6,700M390,700M390,676.6M390,623.4L399.6,621.3L413.4,619.1L415.5,623.4L417.7,638.3L414.5,648.9L407,648.9L404.9,642.6L397.4,640.4L393.2,646.8L390,644.7M390,623.4M561.3,593.6L577.2,593.6L582.6,589.4L590,591.5M590,614.9L581.5,616L577.2,620.2L570.9,620.2L566.6,611.7L560.2,606.4L558.1,606.4L561.3,593.6M513.4,642.6L519.8,641.5L520.9,648.9L515.5,647.9L513.4,642.6M541.1,527.7L547.4,526.6L548.5,533L543.2,536.2L541.1,527.7M557,530.9L565.5,533L564.5,539.4L559.1,541.5L556,536.2L557,530.9M579.4,688.3L585.7,685.1L588.9,690.4L582.6,693.6L579.4,688.3M501.7,500M521.9,500L519.8,505.3L515.5,507.4L502.8,506.4L501.7,500M506,600L504.9,596.8L512.3,593.6L519.8,591.5L525.1,594.7L531.5,595.7L536.8,604.3L536.8,609.6L526.2,610.6L523,616L518.7,618.1L517.7,623.4L514.5,616L509.1,614.9L510.2,608.5L514.5,603.2L506,600M390,608.5L408.1,603.2L410.2,587.2L416.6,593.6L421.9,588.3L427.2,593.6L436.8,596.8L438.9,601.1L431.5,609.6L424,608.5L423,623.4L415.5,623.4L413.4,619.1L399.6,621.3L390,619.1M390,608.5M393.2,646.8L397.4,640.4L404.9,642.6L407,648.9L417.7,646.8L419.8,654.3L413.4,658.5L415.5,669.1L402.8,672.3L395.3,676.6L394.3,668.1L399.6,661.7L394.3,657.4L393.2,646.8M448.5,652.1L454.9,650.6L457,655.3L453.8,659.6L453.4,663.4L449.6,659.6L448.5,652.1M538.9,640.4L551.7,633L558.1,633L570.9,620.2L577.2,620.2L582.6,628.7L584.7,636.2L581.5,642.6L574,651.1L568.7,653.2L563.4,661.7L564.5,668.1L552.8,672.3L549.6,659.6L546.4,653.2L542.1,648.9L538.9,640.4M520.9,658.5L536.8,652.1L542.1,648.9L546.4,653.2L549.6,659.6L552.8,672.3L564.5,668.1L565.5,676.6L561.3,681.9L564.5,689.4L561.3,693.6L556,700M536.8,700L538.9,691.5L537.9,683L545.3,676.6L538.9,675.5L530.4,674.5L523,667L520.9,658.5M578.3,598.9L583.6,595.1L588.9,599.6L583.6,603.8L578.3,598.9M486.8,535.1L492.1,527.7L500.6,523.4L506,518.1L513.4,519.1L514.5,530.9L519.4,537.2L511.3,545.7L512.3,551.1L506,557.4L498.5,555.3L494.3,545.7L484.7,543.6L486.8,535.1M488.9,590.4L496.4,585.1L494.3,575.5L504.9,570.2L513.4,575.5L517.7,571.3L518.7,577.7L525.1,585.1L519.8,591.5L512.3,593.6L504.9,596.8L506,600L514.5,603.2L510.2,608.5L503.8,610.6L498.5,607.4L497.4,595.7L490,594.7L488.9,590.4M542.1,602.1L541.1,584L547.4,578.7L550.6,585.1L554.9,591.5L561.3,593.6L558.1,606.4L553.8,608.5L547.4,616L543.2,614.9L536.8,609.6L536.8,604.3L542.1,602.1M461.3,653.2L466.6,648.9L475.1,645.7L481.5,648.9L486.8,656.4L493.2,658.5L487.9,660.6L481.5,666L482.6,672.3L471.9,673.4L467.7,676.6L464.5,668.1L465.5,661.7L461.3,653.2M525.1,683L529.4,686.2L533.6,685.1L536.8,691.5L534.7,695.7L536.8,700M526.2,700L529.4,692.6L525.1,683M470.9,507.4L477.2,504.3L481.5,500M499.6,500L502.8,506.4L515.5,507.4L515.5,517L506,518.1L500.6,523.4L494.3,520.2L486.8,523.4L482.6,517L475.1,513.8L470.9,512.8L470.9,507.4M520.9,589.4L526.2,584L523,580.9L529.4,577.7L534.7,581.9L540,580.9L542.1,602.1L536.8,604.3L531.5,595.7L525.1,594.7L520.9,589.4M468.7,629.8L473,624.5L474,630.9L470.4,631.9L468.7,629.8M579.4,636.2L585.7,634L590,634M590,651.1L585.7,652.1L581.5,646.8L579.4,636.2M517,604.7L521.9,602.6L526.8,605.3L521.9,608.1L517,604.7M558.1,638.3L566.6,636.2L569.8,640.4L563.4,644.7L558.1,638.3" fill="none" stroke="#fff" stroke-opacity="0.5" stroke-width="0.8" stroke-linejoin="round"/>
<clipPath id="c9"><rect x="590" y="480" width="200" height="200"/></clipPath>
<g stroke-linejoin="round" stroke-width="1.2" clip-path="url(#c9)">
<polygon points="753.8,480 783.6,480 782.6,492.8 777.2,516.2 773,533.2 762.3,530 760.2,522.6 757,522.6 754.9,518.3 746.4,519.4 746.4,514 751.7,511.9 762.3,497" fill="#adadad" stroke="#adadad"/>
<polygon points="590,480 664.5,480 664.5,499.1 644.3,507.7 643.2,514 635.7,516.2 630.4,531.1 641.1,535.3 641.1,546 632.6,553.4 635.7,556.6 635.7,561.9 629.4,566.2 629.4,571.5 621.9,578.9 611.3,560.9 599.6,571.5 590,571.5" fill="#adadad" stroke="#adadad"/>
<polygon points="590,611.9 596.4,609.8 599.6,603.4 606,616.2 609.1,621.5 604.9,626.8 596.4,632.1 590,633.2" fill="#adadad" stroke="#adadad"/>
<polygon points="590,650.2 596.4,648.1 599.6,652.3 604.9,648.1 611.3,655.5 623,654.5 623,680 590,680" fill="#adadad" stroke="#adadad"/>
<polygon points="664.5,481.1 685.7,480 704.9,483.2 702.8,501.3 700.6,508.7 692.1,514 681.5,517.2 680.4,517.2 671.9,518.3 664.5,499.1" fill="#979797" stroke="#979797"/>
<polygon points="704.9,483.2 709.1,480 753.8,480 762.3,497 751.7,511.9 746.4,514 738.9,509.8 716.6,513 709.1,506.6 702.8,501.3" fill="#979797" stroke="#979797"/>
<polygon points="681.5,517.2 692.1,514 698.5,519.4 706,522.6 712.3,521.5 716.6,513 738.9,509.8 736.8,518.3 742.1,514 743.2,525.7 726.2,537.4 714.5,541.7 713.4,547 697.4,549.1 682.6,531.1" fill="#979797" stroke="#979797"/>
<polygon points="606,519.4 617.7,518.3 623,522.6 629.4,530 630.4,533.2 619.8,537.4 613.4,542.8 604.9,543.8 602.8,535.3 606,530" fill="#979797" stroke="#979797"/>
<polygon points="590,571.5 599.6,571.5 611.3,560.9 621.9,578.9 625.1,589.6 617.7,599.1 611.3,609.8 606,603.4 599.6,603.4 596.4,596 590,592.8" fill="#cdcdcd" stroke="#cdcdcd"/>
<polygon points="590,592.8 596.4,596 599.6,603.4 596.4,609.8 590,611.9" fill="#979797" stroke="#979797"/>
<polygon points="641.1,536.4 652.8,535.3 653.8,540.6 658.1,543.8 650.6,550.2 641.1,546" fill="#adadad" stroke="#adadad"/>
<polygon points="692.1,514 700.6,508.7 702.8,501.3 709.1,506.6 716.6,513 712.3,521.5 706,522.6 698.5,519.4" fill="#adadad" stroke="#adadad"/>
<polygon points="598.5,665.1 604.9,661.9 610.2,665.1 604.9,670.4" fill="#cdcdcd" stroke="#cdcdcd"/>
<polygon points="644.3,507.7 664.5,499.1 671.9,518.3 680.4,517.2 682.6,531.1 697.4,549.1 690,552.3 690,557.7 687.9,561.9 680.4,558.7 681.5,553.4 675.1,548.1 664.5,546 658.1,543.8 653.8,536.4 641.1,535.3 630.4,531.1 635.7,516.2 643.2,514" fill="#d9a07b" stroke="#d9a07b"/>
<polygon points="621.9,578.9 629.4,571.5 629.4,566.2 635.7,561.9 635.7,556.6 632.6,553.4 641.1,546 650.6,550.2 658.1,543.8 664.5,546 675.1,548.1 681.5,553.4 680.4,558.7 671.9,566.2 669.8,574.7 658.1,578.9 653.8,585.3 646.4,581.1 636.8,586.4 628.3,585.3" fill="#d9a07b" stroke="#d9a07b"/>
<polygon points="590,633.2 596.4,632.1 604.9,626.8 611.3,625.7 623,630 623,654.5 611.3,655.5 604.9,648.1 599.6,652.3 596.4,648.1 590,650.2" fill="#1e7d3c" stroke="#1e7d3c"/>
<polygon points="783.6,480 790,480 790,680 623,680 623,630 611.3,625.7 604.9,626.8 609.1,621.5 606,616.2 599.6,603.4 606,603.4 611.3,609.8 617.7,599.1 625.1,589.6 621.9,578.9 628.3,585.3 636.8,586.4 646.4,581.1 653.8,585.3 658.1,578.9 669.8,574.7 671.9,566.2 680.4,558.7 687.9,561.9 690,557.7 690,552.3 697.4,549.1 713.4,547 714.5,541.7 726.2,537.4 743.2,525.7 742.1,514 736.8,518.3 744.3,522.6 746.4,519.4 754.9,518.3 757,522.6 760.2,522.6 762.3,530 773,533.2 777.2,516.2 782.6,492.8" fill="#ffffff" stroke="#ffffff"/>
</g>
<path d="M753.8,480M783.6,480L782.6,492.8L777.2,516.2L773,533.2L762.3,530L760.2,522.6L757,522.6L754.9,518.3L746.4,519.4L746.4,514L751.7,511.9L762.3,497L753.8,480M590,480M664.5,480L664.5,499.1L644.3,507.7L643.2,514L635.7,516.2L630.4,531.1L641.1,535.3L641.1,546L632.6,553.4L635.7,556.6L635.7,561.9L629.4,566.2L629.4,571.5L621.9,578.9L611.3,560.9L599.6,571.5L590,571.5M590,480M590,611.9L596.4,609.8L599.6,603.4L606,616.2L609.1,621.5L604.9,626.8L596.4,632.1L590,633.2M590,611.9M590,650.2L596.4,648.1L599.6,652.3L604.9,648.1L611.3,655.5L623,654.5L623,680M590,680M590,650.2M664.5,481.1L685.7,480L704.9,483.2L702.8,501.3L700.6,508.7L692.1,514L681.5,517.2L680.4,517.2L671.9,518.3L664.5,499.1L664.5,481.1M704.9,483.2L709.1,480M753.8,480L762.3,497L751.7,511.9L746.4,514L738.9,509.8L716.6,513L709.1,506.6L702.8,501.3L704.9,483.2M681.5,517.2L692.1,514L698.5,519.4L706,522.6L712.3,521.5L716.6,513L738.9,509.8L736.8,518.3L742.1,514L743.2,525.7L726.2,537.4L714.5,541.7L713.4,547L697.4,549.1L682.6,531.1L681.5,517.2M606,519.4L617.7,518.3L623,522.6L629.4,530L630.4,533.2L619.8,537.4L613.4,542.8L604.9,543.8L602.8,535.3L606,530L606,519.4M590,571.5L599.6,571.5L611.3,560.9L621.9,578.9L625.1,589.6L617.7,599.1L611.3,609.8L606,603.4L599.6,603.4L596.4,596L590,592.8M590,571.5M590,592.8L596.4,596L599.6,603.4L596.4,609.8L590,611.9M590,592.8M641.1,536.4L652.8,535.3L653.8,540.6L658.1,543.8L650.6,550.2L641.1,546L641.1,536.4M692.1,514L700.6,508.7L702.8,501.3L709.1,506.6L716.6,513L712.3,521.5L706,522.6L698.5,519.4L692.1,514M598.5,665.1L604.9,661.9L610.2,665.1L604.9,670.4L598.5,665.1M644.3,507.7L664.5,499.1L671.9,518.3L680.4,517.2L682.6,531.1L697.4,549.1L690,552.3L690,557.7L687.9,561.9L680.4,558.7L681.5,553.4L675.1,548.1L664.5,546L658.1,543.8L653.8,536.4L641.1,535.3L630.4,531.1L635.7,516.2L643.2,514L644.3,507.7M621.9,578.9L629.4,571.5L629.4,566.2L635.7,561.9L635.7,556.6L632.6,553.4L641.1,546L650.6,550.2L658.1,543.8L664.5,546L675.1,548.1L681.5,553.4L680.4,558.7L671.9,566.2L669.8,574.7L658.1,578.9L653.8,585.3L646.4,581.1L636.8,586.4L628.3,585.3L621.9,578.9M590,633.2L596.4,632.1L604.9,626.8L611.3,625.7L623,630L623,654.5L611.3,655.5L604.9,648.1L599.6,652.3L596.4,648.1L590,650.2M590,633.2" fill="none" stroke="#fff" stroke-opacity="0.5" stroke-width="0.8" stroke-linejoin="round"/>
<clipPath id="c10"><rect x="400" y="840" width="320" height="99.8347"/></clipPath>
<g stroke-linejoin="round" stroke-width="1.2" clip-path="url(#c10)">
<polygon points="479.3,863.1 482.6,861.5 499.2,853.2 505.8,840 538.8,840 538.8,853.2 532.2,858.2 519,861.5 512.4,868.1 510.7,874.7 515.7,883 524,886.3 520.7,892.9 515.7,897.9 499.2,894.5 488.6,894.5 490.9,883 487.6,869.8" fill="#adadad" stroke="#adadad"/>
<polygon points="571.9,854.9 578.5,853.2 585.1,851.6 595,859.8 601.7,869.8 606.6,882.3 605,884.6 591.7,888.9 575.2,887.9 573.6,876.4 575.2,866.4" fill="#adadad" stroke="#adadad"/>
<polygon points="558.7,840 585.1,840 585.1,851.6 578.5,853.2 571.9,854.9 562,848.3" fill="#adadad" stroke="#adadad"/>
<polygon points="400,840 424.8,840 413.2,853.2 414.9,866.4 419.8,876.4 429.8,891.2 426.4,889.6 419.8,886.3 406.6,878 400,871.4" fill="#979797" stroke="#979797"/>
<polygon points="461.2,889.6 461.2,883 464.5,874.7 466.1,868.1 479.3,863.1 487.6,869.8 490.9,883 488.6,894.5 489.3,907.8 476.7,924.3 469.4,923.3 471.1,914.4 461.2,911.1 462.8,901.2 456.2,894.5" fill="#979797" stroke="#979797"/>
<polygon points="510.7,874.7 512.4,868.1 519,861.5 532.2,858.2 538.8,853.2 545.5,858.2 552.1,863.1 558.7,869.8 555.4,874.7 545.5,873.1 532.2,874.7 527.3,881.3 524,886.3 515.7,883" fill="#979797" stroke="#979797"/>
<polygon points="552.1,863.1 545.5,858.2 538.8,853.2 538.8,840 558.7,840 562,848.3 571.9,854.9 575.2,866.4 573.6,876.4 575.2,887.9 571.9,896.2 560.3,899.5 552.1,892.9 550.4,886.3 555.4,874.7 558.7,869.8" fill="#979797" stroke="#979797"/>
<polygon points="585.1,851.6 588.4,848.3 595,845 598.3,848.3 605,845 606.6,840 624.8,840 629.8,849.9 631.4,854.9 628.1,859.8 626.4,871.4 619.8,873.1 616.5,883 606.6,882.3 601.7,869.8 595,859.8" fill="#979797" stroke="#979797"/>
<polygon points="631.4,854.9 629.8,849.9 624.8,840 661.2,840 661.2,846.6 656.2,856.5 652.9,868.1 654.5,871.4 651.2,875.7 641.3,882.3 638,878 626.4,871.4 628.1,859.8" fill="#979797" stroke="#979797"/>
<polygon points="473.4,872.4 479.3,870.4 484.3,874.7 481,879.7 474.7,878" fill="#cdcdcd" stroke="#cdcdcd"/>
<polygon points="497.5,858.2 502.5,854.9 505.1,860.5 500.8,862.5" fill="#d9a07b" stroke="#d9a07b"/>
<polygon points="520.7,892.9 524,886.3 527.3,881.3 532.2,874.7 545.5,873.1 555.4,874.7 550.4,886.3 552.1,892.9 560.3,899.5 560.3,902.8 548.8,910.1 542.1,907.8 528.9,910.1 524,901.2" fill="#d9a07b" stroke="#d9a07b"/>
<polygon points="585.1,840 606.6,840 605,845 598.3,848.3 595,845 588.4,848.3" fill="#d9a07b" stroke="#d9a07b"/>
<polygon points="605,861.5 608.9,854.9 611.6,863.1" fill="#d9a07b" stroke="#d9a07b"/>
<polygon points="661.2,840 664.5,847.3 672.7,856.5 671.1,869.8 679.3,873.1 681,883 676,896.9 664.5,887.9 661.2,874.7 654.5,871.4 652.9,868.1 656.2,856.5 661.2,846.6" fill="#d9a07b" stroke="#d9a07b"/>
<polygon points="413.2,853.2 424.8,840 505.8,840 499.2,853.2 482.6,861.5 479.3,863.1 466.1,868.1 464.5,874.7 461.2,883 446.3,883 439.7,889.6 429.8,891.2 419.8,876.4 414.9,866.4" fill="#ff8212" stroke="#ff8212"/>
<polygon points="429.8,891.2 439.7,889.6 446.3,883 461.2,883 461.2,889.6 456.2,894.5 449.6,897.9 447.9,893.9 438,895.5 431.4,892.9" fill="#dc0a32" stroke="#dc0a32"/>
</g>
<path d="M479.3,863.1L482.6,861.5L499.2,853.2L505.8,840M538.8,840L538.8,853.2L532.2,858.2L519,861.5L512.4,868.1L510.7,874.7L515.7,883L524,886.3L520.7,892.9L515.7,897.9L499.2,894.5L488.6,894.5L490.9,883L487.6,869.8L479.3,863.1M571.9,854.9L578.5,853.2L585.1,851.6L595,859.8L601.7,869.8L606.6,882.3L605,884.6L591.7,888.9L575.2,887.9L573.6,876.4L575.2,866.4L571.9,854.9M558.7,840M585.1,840L585.1,851.6L578.5,853.2L571.9,854.9L562,848.3L558.7,840M400,840M424.8,840L413.2,853.2L414.9,866.4L419.8,876.4L429.8,891.2L426.4,889.6L419.8,886.3L406.6,878L400,871.4M400,840M461.2,889.6L461.2,883L464.5,874.7L466.1,868.1L479.3,863.1L487.6,869.8L490.9,883L488.6,894.5L489.3,907.8L476.7,924.3L469.4,923.3L471.1,914.4L461.2,911.1L462.8,901.2L456.2,894.5L461.2,889.6M510.7,874.7L512.4,868.1L519,861.5L532.2,858.2L538.8,853.2L545.5,858.2L552.1,863.1L558.7,869.8L555.4,874.7L545.5,873.1L532.2,874.7L527.3,881.3L524,886.3L515.7,883L510.7,874.7M552.1,863.1L545.5,858.2L538.8,853.2L538.8,840M558.7,840L562,848.3L571.9,854.9L575.2,866.4L573.6,876.4L575.2,887.9L571.9,896.2L560.3,899.5L552.1,892.9L550.4,886.3L555.4,874.7L558.7,869.8L552.1,863.1M585.1,851.6L588.4,848.3L595,845L598.3,848.3L605,845L606.6,840M624.8,840L629.8,849.9L631.4,854.9L628.1,859.8L626.4,871.4L619.8,873.1L616.5,883L606.6,882.3L601.7,869.8L595,859.8L585.1,851.6M631.4,854.9L629.8,849.9L624.8,840M661.2,840L661.2,846.6L656.2,856.5L652.9,868.1L654.5,871.4L651.2,875.7L641.3,882.3L638,878L626.4,871.4L628.1,859.8L631.4,854.9M473.4,872.4L479.3,870.4L484.3,874.7L481,879.7L474.7,878L473.4,872.4M497.5,858.2L502.5,854.9L505.1,860.5L500.8,862.5L497.5,858.2M520.7,892.9L524,886.3L527.3,881.3L532.2,874.7L545.5,873.1L555.4,874.7L550.4,886.3L552.1,892.9L560.3,899.5L560.3,902.8L548.8,910.1L542.1,907.8L528.9,910.1L524,901.2L520.7,892.9M585.1,840M606.6,840L605,845L598.3,848.3L595,845L588.4,848.3L585.1,840M605,861.5L608.9,854.9L611.6,863.1L605,861.5M661.2,840L664.5,847.3L672.7,856.5L671.1,869.8L679.3,873.1L681,883L676,896.9L664.5,887.9L661.2,874.7L654.5,871.4L652.9,868.1L656.2,856.5L661.2,846.6L661.2,840M413.2,853.2L424.8,840M505.8,840L499.2,853.2L482.6,861.5L479.3,863.1L466.1,868.1L464.5,874.7L461.2,883L446.3,883L439.7,889.6L429.8,891.2L419.8,876.4L414.9,866.4L413.2,853.2M429.8,891.2L439.7,889.6L446.3,883L461.2,883L461.2,889.6L456.2,894.5L449.6,897.9L447.9,893.9L438,895.5L431.4,892.9L429.8,891.2" fill="none" stroke="#fff" stroke-opacity="0.5" stroke-width="0.8" stroke-linejoin="round"/>
<clipPath id="c11"><rect x="250" y="690" width="200" height="200"/></clipPath>
<g stroke-linejoin="round" stroke-width="1.2" clip-path="url(#c11)">
<polygon points="310.6,709.1 316,704.9 324.5,700.6 335.1,701.7 339.4,708.1 344.7,709.1 341.5,721.9 339.4,731.5 336.2,738.9 333,741.1 322.3,735.7 311.7,730.4 309.6,717.7" fill="#adadad" stroke="#adadad"/>
<polygon points="277.7,696.4 269.1,690 352.1,690 353.2,698.5 350,708.1 344.7,709.1 339.4,708.1 335.1,701.7 324.5,700.6 316,704.9 310.6,709.1 305.3,702.8 295.7,700.6 290.4,696.4" fill="#adadad" stroke="#adadad"/>
<polygon points="284,828.3 291.5,815.5 301.1,817.7 311.7,817.7 324.5,819.8 328.7,826.2 324.5,826.2 322.3,835.7 324.5,841.1 334,842.1 337.2,847.4 345.7,853.8 348.9,862.3 354.3,867.7 350,870.9 343.6,875.1 341.5,879.4 344.7,883.6 350,883.6 351.1,890 281.9,890 279.8,881.5 278.7,870.9 279.8,860.2 283,849.6 281.9,838.9" fill="#adadad" stroke="#adadad"/>
<polygon points="250,690 269.1,690 277.7,696.4 276.6,704.9 272.3,713.4 271.3,715.5 250,719.8" fill="#979797" stroke="#979797"/>
<polygon points="277.7,696.4 290.4,696.4 295.7,700.6 305.3,702.8 310.6,709.1 309.6,717.7 311.7,730.4 301.1,731.5 287.2,726.2 277.7,713.4 272.3,713.4 276.6,704.9" fill="#cdcdcd" stroke="#cdcdcd"/>
<polygon points="323.4,728.3 328.7,725.1 335.1,724 341.5,721.9 339.4,731.5 336.2,738.9 333,741.1 323.4,735.7" fill="#979797" stroke="#979797"/>
<polygon points="350,708.1 353.2,698.5 352.1,690 373.4,690 377.7,696.4 384,693.2 381.9,690 424.5,690 423.4,695.3 419.1,699.6 407.4,701.7 398.9,709.1 390.4,713.4 375.5,717.7 377.7,726.2 376.6,735.7 369.1,735.7 358.5,741.1 352.1,741.1 347.9,735.7 341.5,731.5 338.3,735.7 341.5,726.2 344.7,715.5" fill="#979797" stroke="#979797"/>
<polygon points="375.5,717.7 390.4,713.4 398.9,709.1 407.4,701.7 419.1,699.6 420.2,707 413.8,713.4 411.7,721.9 422.3,729.4 418.1,732.6 408.5,735.7 398.9,733.6 388.3,736.8 383,737.9 377.7,726.2" fill="#979797" stroke="#979797"/>
<polygon points="423.4,695.3 424.5,690 450,690 450,707 440.4,713.4 437.2,720.9 424.5,727.2 422.3,729.4 411.7,721.9 413.8,713.4 420.2,707 419.1,699.6" fill="#979797" stroke="#979797"/>
<polygon points="338.3,742.1 345.7,742.1 354.3,741.1 352.1,753.8 344.7,756 337.2,749.6" fill="#979797" stroke="#979797"/>
<polygon points="373.4,762.3 379.8,753.8 390.4,758.1 391.5,765.5 396.8,769.8 396.8,777.2 398.9,783.6 396.8,783.6 386.2,782.6 377.7,786.8 372.3,792.1 369.1,783.6 374.5,775.1" fill="#979797" stroke="#979797"/>
<polygon points="372.3,792.1 377.7,786.8 386.2,782.6 396.8,783.6 398.9,783.6 407.4,785.7 418.1,788.9 426.6,790 430.9,800.6 428.7,812.3 420.2,815.5 418.1,825.1 407.4,821.9 403.2,816.6 394.7,817.7 401.1,810.2 394.7,806 394.7,796.4 381.9,800.6 372.3,800.6" fill="#979797" stroke="#979797"/>
<polygon points="435.1,745.3 441.5,743.2 450,747.4 450,762.3 439.4,763.4 435.1,760.2 439.4,753.8" fill="#979797" stroke="#979797"/>
<polygon points="420.2,765.5 428.7,765.5 430.9,760.2 439.4,763.4 450,762.3 450,787.9 442.6,790 437.2,787.9 433,790 426.6,790 427.7,781.5 425.5,770.9" fill="#979797" stroke="#979797"/>
<polygon points="278.7,870.9 292.6,866.6 305.3,858.1 312.8,860.2 311.7,868.7 308.5,877.2 303.2,882.6 302.1,890 281.9,890 279.8,881.5" fill="#979797" stroke="#979797"/>
<polygon points="381.9,824 390.4,830.4 396.8,826.2 394.7,817.7 403.2,816.6 407.4,821.9 418.1,825.1 420.2,834.7 424.5,845.3 413.8,851.7 412.8,860.2 407.4,862.3 403.2,860.2 394.7,862.3 390.4,866.6 386.2,860.2 378.7,853.8 385.1,847.4 383,836.8 377.7,834.7 371.3,827.2" fill="#979797" stroke="#979797"/>
<polygon points="354.3,867.7 358.5,860.2 360.6,860.2 366,856 378.7,853.8 386.2,860.2 390.4,866.6 398.9,875.1 396.8,881.5 388.3,879.4 377.7,877.2 374.5,881.5 371.3,875.1 366,877.2 362.8,870.9" fill="#979797" stroke="#979797"/>
<polygon points="350,883.6 360.6,881.5 369.1,884.7 374.5,881.5 377.7,877.2 388.3,879.4 396.8,881.5 398.9,875.1 407.4,881.5 420.2,890 351.1,890" fill="#979797" stroke="#979797"/>
<polygon points="390.4,866.6 394.7,862.3 403.2,860.2 407.4,862.3 416,870.9 426.6,879.4 437.2,887.9 435.1,890 420.2,890 407.4,881.5 398.9,875.1" fill="#979797" stroke="#979797"/>
<polygon points="339.4,732.6 345.7,730.4 352.1,734.7 354.3,741.1 345.7,742.1 339.4,740" fill="#adadad" stroke="#adadad"/>
<polygon points="324.5,762.3 329.8,754.9 335.1,760.2 338.3,767.7 334,773 329.8,768.7" fill="#adadad" stroke="#adadad"/>
<polygon points="344.7,700.6 347.9,698.5 351.1,706 348.9,708.1" fill="#d9a07b" stroke="#d9a07b"/>
<polygon points="440.4,713.4 450,707 450,747.4 441.5,743.2 435.1,745.3 427.7,740 424.5,732.6 422.3,729.4 424.5,727.2 437.2,720.9" fill="#d9a07b" stroke="#d9a07b"/>
<polygon points="381.9,744.3 377.7,741.1 376.6,735.7 383,737.9 388.3,736.8 398.9,733.6 408.5,735.7 418.1,732.6 413.8,740 412.8,748.5 407.4,751.7 404.3,757 394.7,756 390.4,758.1 379.8,753.8" fill="#d9a07b" stroke="#d9a07b"/>
<polygon points="418.1,732.6 422.3,729.4 424.5,732.6 427.7,740 435.1,745.3 439.4,753.8 435.1,760.2 430.9,760.2 428.7,765.5 420.2,765.5 411.7,763.4 404.3,757 407.4,751.7 412.8,748.5 413.8,740" fill="#d9a07b" stroke="#d9a07b"/>
<polygon points="396.8,769.8 403.2,771.9 402.1,766.6 407.4,763.4 411.7,763.4 420.2,765.5 425.5,770.9 427.7,781.5 426.6,790 418.1,788.9 407.4,785.7 398.9,783.6 396.8,777.2" fill="#d9a07b" stroke="#d9a07b"/>
<polygon points="291.5,815.5 295.7,802.8 301.1,792.1 302.1,781.5 312.8,768.7 330.9,779.4 330.9,788.9 334,800.6 337.2,806 335.1,817.7 334,826.2 328.7,826.2 324.5,819.8 311.7,817.7 301.1,817.7" fill="#d9a07b" stroke="#d9a07b"/>
<polygon points="333,741.1 338.3,742.1 337.2,749.6 344.7,756 352.1,753.8 352.1,760.2 358.5,757 368.1,758.1 373.4,762.3 374.5,775.1 369.1,783.6 372.3,792.1 366,794.3 360.6,790 350,792.1 334,800.6 330.9,788.9 330.9,779.4 312.8,768.7 313.8,762.3 323.4,753.8 329.8,745.3" fill="#d9a07b" stroke="#d9a07b"/>
<polygon points="334,800.6 350,792.1 360.6,790 366,794.3 372.3,792.1 372.3,800.6 366,803.8 350,802.8 348.9,810.2 337.2,806" fill="#d9a07b" stroke="#d9a07b"/>
<polygon points="366,803.8 372.3,800.6 381.9,800.6 394.7,796.4 394.7,806 401.1,810.2 394.7,817.7 396.8,826.2 390.4,830.4 381.9,824 371.3,827.2 366,830.4 364.9,819.8 360.6,814.5 364.9,810.2" fill="#d9a07b" stroke="#d9a07b"/>
<polygon points="426.6,790 433,790 437.2,787.9 442.6,790 450,787.9 450,817.7 441.5,825.1 430.9,829.4 422.3,826.2 418.1,825.1 420.2,815.5 428.7,812.3 430.9,800.6" fill="#d9a07b" stroke="#d9a07b"/>
<polygon points="344.7,690 350,690 348.9,692.6 345.7,692.1" fill="#ff8212" stroke="#ff8212"/>
<polygon points="391.5,719.8 398.9,717.7 405.3,724 406.4,728.3 398.9,729.4 395.7,724" fill="#ff8212" stroke="#ff8212"/>
<polygon points="352.1,760.2 356.4,748.5 358.5,741.1 369.1,735.7 376.6,735.7 377.7,741.1 381.9,744.3 379.8,753.8 373.4,762.3 368.1,758.1 358.5,757" fill="#ff8212" stroke="#ff8212"/>
<polygon points="391.5,758.1 394.7,756 404.3,757 407.4,763.4 402.1,766.6 403.2,771.9 396.8,769.8 391.5,765.5" fill="#ff8212" stroke="#ff8212"/>
<polygon points="337.2,806 348.9,810.2 350,802.8 366,803.8 364.9,810.2 360.6,814.5 364.9,819.8 366,830.4 371.3,827.2 358.5,835.7 353.2,836.8 350,828.3 336.2,826.2 335.1,817.7" fill="#ff8212" stroke="#ff8212"/>
<polygon points="322.3,835.7 324.5,826.2 328.7,826.2 334,826.2 336.2,826.2 350,828.3 353.2,836.8 358.5,835.7 357.4,843.2 359.6,851.7 355.3,853.8 358.5,860.2 354.3,867.7 348.9,862.3 345.7,853.8 337.2,847.4 334,842.1 324.5,841.1" fill="#ff8212" stroke="#ff8212"/>
<polygon points="405.3,828.3 411.7,821.9 418.1,825.1 422.3,826.2 430.9,829.4 441.5,825.1 450,817.7 450,890 442.6,887.9 437.2,887.9 426.6,879.4 416,870.9 412.8,860.2 413.8,851.7 424.5,845.3 420.2,834.7 407.4,830.4" fill="#ff8212" stroke="#ff8212"/>
<polygon points="270.2,709.1 275.5,706 276.6,710.2 272.3,713.4" fill="#dc0a32" stroke="#dc0a32"/>
<polygon points="361.7,748.5 368.1,746.4 373,750.6 371.3,756 364.9,756.4 361.1,753.8" fill="#dc0a32" stroke="#dc0a32"/>
<polygon points="358.5,835.7 371.3,827.2 377.7,834.7 383,836.8 385.1,847.4 378.7,853.8 366,856 360.6,860.2 358.5,860.2 355.3,853.8 359.6,851.7 357.4,843.2" fill="#dc0a32" stroke="#dc0a32"/>
<polygon points="437.2,887.9 442.6,884.7 450,881.5 450,890 438.3,890" fill="#dc0a32" stroke="#dc0a32"/>
<polygon points="341.5,879.4 345.7,873 354.3,866.6 362.8,870.9 366,877.2 371.3,875.1 374.5,881.5 369.1,884.7 360.6,881.5 350,883.6 344.7,883.6" fill="#ffffff" stroke="#ffffff"/>
</g>
<path d="M310.6,709.1L316,704.9L324.5,700.6L335.1,701.7L339.4,708.1L344.7,709.1L341.5,721.9L339.4,731.5L336.2,738.9L333,741.1L322.3,735.7L311.7,730.4L309.6,717.7L310.6,709.1M277.7,696.4L269.1,690M352.1,690L353.2,698.5L350,708.1L344.7,709.1L339.4,708.1L335.1,701.7L324.5,700.6L316,704.9L310.6,709.1L305.3,702.8L295.7,700.6L290.4,696.4L277.7,696.4M284,828.3L291.5,815.5L301.1,817.7L311.7,817.7L324.5,819.8L328.7,826.2L324.5,826.2L322.3,835.7L324.5,841.1L334,842.1L337.2,847.4L345.7,853.8L348.9,862.3L354.3,867.7L350,870.9L343.6,875.1L341.5,879.4L344.7,883.6L350,883.6L351.1,890M281.9,890L279.8,881.5L278.7,870.9L279.8,860.2L283,849.6L281.9,838.9L284,828.3M250,690M269.1,690L277.7,696.4L276.6,704.9L272.3,713.4L271.3,715.5L250,719.8M250,690M277.7,696.4L290.4,696.4L295.7,700.6L305.3,702.8L310.6,709.1L309.6,717.7L311.7,730.4L301.1,731.5L287.2,726.2L277.7,713.4L272.3,713.4L276.6,704.9L277.7,696.4M323.4,728.3L328.7,725.1L335.1,724L341.5,721.9L339.4,731.5L336.2,738.9L333,741.1L323.4,735.7L323.4,728.3M350,708.1L353.2,698.5L352.1,690M373.4,690L377.7,696.4L384,693.2L381.9,690M424.5,690L423.4,695.3L419.1,699.6L407.4,701.7L398.9,709.1L390.4,713.4L375.5,717.7L377.7,726.2L376.6,735.7L369.1,735.7L358.5,741.1L352.1,741.1L347.9,735.7L341.5,731.5L338.3,735.7L341.5,726.2L344.7,715.5L350,708.1M375.5,717.7L390.4,713.4L398.9,709.1L407.4,701.7L419.1,699.6L420.2,707L413.8,713.4L411.7,721.9L422.3,729.4L418.1,732.6L408.5,735.7L398.9,733.6L388.3,736.8L383,737.9L377.7,726.2L375.5,717.7M423.4,695.3L424.5,690M450,690M450,707L440.4,713.4L437.2,720.9L424.5,727.2L422.3,729.4L411.7,721.9L413.8,713.4L420.2,707L419.1,699.6L423.4,695.3M338.3,742.1L345.7,742.1L354.3,741.1L352.1,753.8L344.7,756L337.2,749.6L338.3,742.1M373.4,762.3L379.8,753.8L390.4,758.1L391.5,765.5L396.8,769.8L396.8,777.2L398.9,783.6L396.8,783.6L386.2,782.6L377.7,786.8L372.3,792.1L369.1,783.6L374.5,775.1L373.4,762.3M372.3,792.1L377.7,786.8L386.2,782.6L396.8,783.6L398.9,783.6L407.4,785.7L418.1,788.9L426.6,790L430.9,800.6L428.7,812.3L420.2,815.5L418.1,825.1L407.4,821.9L403.2,816.6L394.7,817.7L401.1,810.2L394.7,806L394.7,796.4L381.9,800.6L372.3,800.6L372.3,792.1M435.1,745.3L441.5,743.2L450,747.4M450,762.3L439.4,763.4L435.1,760.2L439.4,753.8L435.1,745.3M420.2,765.5L428.7,765.5L430.9,760.2L439.4,763.4L450,762.3M450,787.9L442.6,790L437.2,787.9L433,790L426.6,790L427.7,781.5L425.5,770.9L420.2,765.5M278.7,870.9L292.6,866.6L305.3,858.1L312.8,860.2L311.7,868.7L308.5,877.2L303.2,882.6L302.1,890M281.9,890L279.8,881.5L278.7,870.9M381.9,824L390.4,830.4L396.8,826.2L394.7,817.7L403.2,816.6L407.4,821.9L418.1,825.1L420.2,834.7L424.5,845.3L413.8,851.7L412.8,860.2L407.4,862.3L403.2,860.2L394.7,862.3L390.4,866.6L386.2,860.2L378.7,853.8L385.1,847.4L383,836.8L377.7,834.7L371.3,827.2L381.9,824M354.3,867.7L358.5,860.2L360.6,860.2L366,856L378.7,853.8L386.2,860.2L390.4,866.6L398.9,875.1L396.8,881.5L388.3,879.4L377.7,877.2L374.5,881.5L371.3,875.1L366,877.2L362.8,870.9L354.3,867.7M350,883.6L360.6,881.5L369.1,884.7L374.5,881.5L377.7,877.2L388.3,879.4L396.8,881.5L398.9,875.1L407.4,881.5L420.2,890M351.1,890L350,883.6M390.4,866.6L394.7,862.3L403.2,860.2L407.4,862.3L416,870.9L426.6,879.4L437.2,887.9L435.1,890M420.2,890L407.4,881.5L398.9,875.1L390.4,866.6M339.4,732.6L345.7,730.4L352.1,734.7L354.3,741.1L345.7,742.1L339.4,740L339.4,732.6M324.5,762.3L329.8,754.9L335.1,760.2L338.3,767.7L334,773L329.8,768.7L324.5,762.3M344.7,700.6L347.9,698.5L351.1,706L348.9,708.1L344.7,700.6M440.4,713.4L450,707M450,747.4L441.5,743.2L435.1,745.3L427.7,740L424.5,732.6L422.3,729.4L424.5,727.2L437.2,720.9L440.4,713.4M381.9,744.3L377.7,741.1L376.6,735.7L383,737.9L388.3,736.8L398.9,733.6L408.5,735.7L418.1,732.6L413.8,740L412.8,748.5L407.4,751.7L404.3,757L394.7,756L390.4,758.1L379.8,753.8L381.9,744.3M418.1,732.6L422.3,729.4L424.5,732.6L427.7,740L435.1,745.3L439.4,753.8L435.1,760.2L430.9,760.2L428.7,765.5L420.2,765.5L411.7,763.4L404.3,757L407.4,751.7L412.8,748.5L413.8,740L418.1,732.6M396.8,769.8L403.2,771.9L402.1,766.6L407.4,763.4L411.7,763.4L420.2,765.5L425.5,770.9L427.7,781.5L426.6,790L418.1,788.9L407.4,785.7L398.9,783.6L396.8,777.2L396.8,769.8M291.5,815.5L295.7,802.8L301.1,792.1L302.1,781.5L312.8,768.7L330.9,779.4L330.9,788.9L334,800.6L337.2,806L335.1,817.7L334,826.2L328.7,826.2L324.5,819.8L311.7,817.7L301.1,817.7L291.5,815.5M333,741.1L338.3,742.1L337.2,749.6L344.7,756L352.1,753.8L352.1,760.2L358.5,757L368.1,758.1L373.4,762.3L374.5,775.1L369.1,783.6L372.3,792.1L366,794.3L360.6,790L350,792.1L334,800.6L330.9,788.9L330.9,779.4L312.8,768.7L313.8,762.3L323.4,753.8L329.8,745.3L333,741.1M334,800.6L350,792.1L360.6,790L366,794.3L372.3,792.1L372.3,800.6L366,803.8L350,802.8L348.9,810.2L337.2,806L334,800.6M366,803.8L372.3,800.6L381.9,800.6L394.7,796.4L394.7,806L401.1,810.2L394.7,817.7L396.8,826.2L390.4,830.4L381.9,824L371.3,827.2L366,830.4L364.9,819.8L360.6,814.5L364.9,810.2L366,803.8M426.6,790L433,790L437.2,787.9L442.6,790L450,787.9M450,817.7L441.5,825.1L430.9,829.4L422.3,826.2L418.1,825.1L420.2,815.5L428.7,812.3L430.9,800.6L426.6,790M344.7,690M350,690L348.9,692.6L345.7,692.1L344.7,690M391.5,719.8L398.9,717.7L405.3,724L406.4,728.3L398.9,729.4L395.7,724L391.5,719.8M352.1,760.2L356.4,748.5L358.5,741.1L369.1,735.7L376.6,735.7L377.7,741.1L381.9,744.3L379.8,753.8L373.4,762.3L368.1,758.1L358.5,757L352.1,760.2M391.5,758.1L394.7,756L404.3,757L407.4,763.4L402.1,766.6L403.2,771.9L396.8,769.8L391.5,765.5L391.5,758.1M337.2,806L348.9,810.2L350,802.8L366,803.8L364.9,810.2L360.6,814.5L364.9,819.8L366,830.4L371.3,827.2L358.5,835.7L353.2,836.8L350,828.3L336.2,826.2L335.1,817.7L337.2,806M322.3,835.7L324.5,826.2L328.7,826.2L334,826.2L336.2,826.2L350,828.3L353.2,836.8L358.5,835.7L357.4,843.2L359.6,851.7L355.3,853.8L358.5,860.2L354.3,867.7L348.9,862.3L345.7,853.8L337.2,847.4L334,842.1L324.5,841.1L322.3,835.7M405.3,828.3L411.7,821.9L418.1,825.1L422.3,826.2L430.9,829.4L441.5,825.1L450,817.7M450,890L442.6,887.9L437.2,887.9L426.6,879.4L416,870.9L412.8,860.2L413.8,851.7L424.5,845.3L420.2,834.7L407.4,830.4L405.3,828.3M270.2,709.1L275.5,706L276.6,710.2L272.3,713.4L270.2,709.1M361.7,748.5L368.1,746.4L373,750.6L371.3,756L364.9,756.4L361.1,753.8L361.7,748.5M358.5,835.7L371.3,827.2L377.7,834.7L383,836.8L385.1,847.4L378.7,853.8L366,856L360.6,860.2L358.5,860.2L355.3,853.8L359.6,851.7L357.4,843.2L358.5,835.7M437.2,887.9L442.6,884.7L450,881.5M450,890M438.3,890L437.2,887.9" fill="none" stroke="#fff" stroke-opacity="0.5" stroke-width="0.8" stroke-linejoin="round"/>
<clipPath id="c12"><rect x="430" y="690" width="200" height="200"/></clipPath>
<g stroke-linejoin="round" stroke-width="1.2" clip-path="url(#c12)">
<polygon points="430,690 630,690 630,890 430,890" fill="#adadad" stroke="#adadad"/>
<polygon points="430,690 465.1,690 467.2,698.5 464,702.8 461.9,699.6 446,703.8 438.5,717.7 430,726.2" fill="#979797" stroke="#979797"/>
<polygon points="434.3,747.4 438.5,744.3 448.1,747.4 454.5,742.1 456.6,735.7 471.5,729.4 480,735.7 486.4,746.4 488.5,758.1 486.4,767.7 475.7,763.4 468.3,763.4 459.8,767.7 454.5,771.9 442.8,768.7 430,763.4 430,760.2 438.5,758.1" fill="#979797" stroke="#979797"/>
<polygon points="430,763.4 442.8,768.7 454.5,771.9 453.4,781.5 442.8,783.6 430,790" fill="#979797" stroke="#979797"/>
<polygon points="464,702.8 467.2,698.5 465.1,690 504.5,690 515.1,696.4 518.3,711.3 511.9,717.7 505.5,721.9 501.3,728.3 503.4,734.7 498.1,736.8 488.5,740 486.4,746.4 480,735.7 471.5,729.4 472.6,724" fill="#979797" stroke="#979797"/>
<polygon points="475.7,690 504.5,690 515.1,696.4 523.6,700.6 525.7,695.3 523.6,690" fill="#979797" stroke="#979797"/>
<polygon points="540.6,700.6 549.1,704.9 555.5,697.4 561.9,695.3 570.4,700.6 587.4,709.1 589.6,715.5 576.8,726.2 572.6,735.7 566.2,737.9 559.8,731.5 553.4,733.6 549.1,728.3 546,718.7 540.6,713.4 542.8,709.1" fill="#979797" stroke="#979797"/>
<polygon points="524.7,751.7 530,746.4 540.6,735.7 546,735.7 551.3,737.9 553.4,733.6 559.8,731.5 566.2,737.9 569.4,743.2 576.8,749.6 577.9,754.9 574.7,758.1 568.3,760.2 563,765.5 560.9,762.3 553.4,758.1 544.9,762.3 536.4,761.3 525.7,759.1 524.7,756" fill="#979797" stroke="#979797"/>
<polygon points="599.1,788.9 610.9,781.5 617.2,780.4 610.9,786.8 602.3,790" fill="#979797" stroke="#979797"/>
<polygon points="493.8,796.4 496,795.3 502.3,792.1 510.9,790 511.9,779.4 517.2,778.3 523.6,782.6 519.4,786.8 523.6,790 518.3,796.4 519.4,802.8 515.1,806 511.9,813.4 522.6,817.7 524.7,817.7 520.4,826.2 515.1,835.7 506.6,838.9 503.4,828.3 497,821.9 497,813.4 492.8,811.3" fill="#979797" stroke="#979797"/>
<polygon points="519.4,786.8 523.6,782.6 528.9,777.2 535.3,780.4 541.7,787.9 547,795.3 540.6,800.6 536.4,809.1 535.3,815.5 530,824 524.7,817.7 523.6,807 524.7,800.6 523.6,790" fill="#979797" stroke="#979797"/>
<polygon points="530,824 535.3,815.5 544.9,815.5 552.3,820.9 555.5,826.2 557.7,831.5 549.1,832.6 538.5,835.7 533.2,833.6" fill="#979797" stroke="#979797"/>
<polygon points="555.5,826.2 557.7,821.9 568.3,819.8 574.7,821.9 578.9,828.3 576.8,832.6 570.4,834.7 566.2,838.9 561.9,834.7 557.7,831.5" fill="#979797" stroke="#979797"/>
<polygon points="511.9,864.5 523.6,858.1 538.5,851.7 544.9,851.7 552.3,853.8 557.7,866.6 554.5,873 544.9,876.2 532.1,875.1 525.7,881.5 519.4,879.4 515.1,883.6 508.7,877.2" fill="#979797" stroke="#979797"/>
<polygon points="552.3,853.8 557.7,847.4 568.3,847.4 576.8,853.8 574.7,860.2 576.8,870.9 578.9,881.5 576.8,890 553.4,890 554.5,873 557.7,866.6" fill="#979797" stroke="#979797"/>
<polygon points="588.5,851.7 589.6,848.5 596,851.7 600.2,846.4 606.6,843.2 610.9,834.7 608.7,830.4 615.1,828.3 623,834.7 630,845.3 630,866.6 621.5,870.9 615.1,879.4 606.6,883.6 604.5,875.1 600.2,866.6 593.8,856" fill="#979797" stroke="#979797"/>
<polygon points="464,865.5 470.4,864.5 481.1,860.2 487.4,866.6 491.7,877.2 491.7,883.6 485.3,890 461.9,890 465.1,879.4 461.9,875.1 463,866.6" fill="#979797" stroke="#979797"/>
<polygon points="502.3,724 505.5,721.9 511.9,717.7 518.3,720.9 530,727.2 540.6,735.7 530,746.4 524.7,751.7 524.7,756 511.9,746.4 507.7,750.6 502.3,745.3 498.1,736.8 503.4,734.7 501.3,728.3" fill="#adadad" stroke="#adadad"/>
<polygon points="518.3,711.3 523.6,700.6 531.1,699.6 536.4,696.4 540.6,700.6 542.8,709.1 540.6,713.4 546,718.7 549.1,728.3 553.4,733.6 551.3,737.9 546,735.7 540.6,735.7 530,727.2 518.3,720.9 511.9,717.7" fill="#adadad" stroke="#adadad"/>
<polygon points="563,765.5 568.3,760.2 574.7,758.1 576.8,770.9 576.8,779.4 571.5,781.5 566.2,793.2 561.9,798.5 557.7,800.6 551.3,796.4 547,795.3 551.3,788.9 552.3,780.4 555.5,775.1 558.7,771.9" fill="#adadad" stroke="#adadad"/>
<polygon points="563,798.5 566.2,793.2 571.5,781.5 576.8,779.4 587.4,779.4 590.6,779.4 596,785.7 598.1,796.4 591.7,798.5 583.2,804.9 581.1,813.4 576.8,811.3 568.3,815.5 564,809.1" fill="#adadad" stroke="#adadad"/>
<polygon points="511.9,850.6 515.1,835.7 520.4,826.2 524.7,817.7 530,824 533.2,833.6 538.5,835.7 537.4,847.4 538.5,851.7 523.6,858.1 513,862.3" fill="#adadad" stroke="#adadad"/>
<polygon points="538.5,835.7 549.1,832.6 557.7,831.5 558.7,838.9 557.7,847.4 552.3,853.8 544.9,851.7 538.5,851.7 537.4,847.4" fill="#adadad" stroke="#adadad"/>
<polygon points="576.8,853.8 588.5,851.7 593.8,856 600.2,866.6 604.5,875.1 606.6,883.6 602.3,890 576.8,890 578.9,881.5 576.8,870.9 574.7,860.2" fill="#adadad" stroke="#adadad"/>
<polygon points="481.1,860.2 493.8,853.8 502.3,847.4 506.6,838.9 515.1,835.7 511.9,850.6 513,862.3 511.9,864.5 508.7,877.2 515.1,883.6 513,890 485.3,890 491.7,883.6 491.7,877.2 487.4,866.6" fill="#adadad" stroke="#adadad"/>
<polygon points="430,726.2 438.5,717.7 446,703.8 461.9,699.6 464,702.8 472.6,724 471.5,729.4 456.6,735.7 454.5,742.1 448.1,747.4 438.5,744.3 430,740" fill="#d9a07b" stroke="#d9a07b"/>
<polygon points="430,740 438.5,744.3 434.3,747.4 438.5,758.1 430,760.2" fill="#d9a07b" stroke="#d9a07b"/>
<polygon points="480,775.1 487.4,771.9 496,766.6 502.3,769.8 503.4,775.1 511.9,779.4 510.9,790 502.3,792.1 496,795.3 487.4,794.3 483.2,792.1 478.9,785.7" fill="#d9a07b" stroke="#d9a07b"/>
<polygon points="430,790 442.8,783.6 453.4,781.5 460.9,783.6 468.3,784.7 472.6,791.1 471.5,794.3 461.9,798.5 455.5,804.9 458.7,815.5 451.3,817.7 442.8,821.9 434.3,828.3 430,826.2" fill="#d9a07b" stroke="#d9a07b"/>
<polygon points="535.3,690 564,690 561.9,695.3 555.5,697.4 549.1,704.9 540.6,700.6 536.4,696.4" fill="#d9a07b" stroke="#d9a07b"/>
<polygon points="524.7,701.7 528.9,700.6 531.1,704.9 526.8,707" fill="#d9a07b" stroke="#d9a07b"/>
<polygon points="525.7,759.1 536.4,761.3 544.9,762.3 553.4,758.1 560.9,762.3 563,765.5 558.7,771.9 555.5,775.1 552.3,780.4 551.3,788.9 547,795.3 541.7,787.9 535.3,780.4 528.9,777.2 525.7,768.7" fill="#d9a07b" stroke="#d9a07b"/>
<polygon points="598.1,734.7 603.4,729.4 608.7,738.9 602.3,740" fill="#d9a07b" stroke="#d9a07b"/>
<polygon points="589.6,774 593.8,763.4 603.4,761.3 606.6,761.3 613,763.4 619.4,764.5 623,764.5 623,806 617.2,808.1 615.1,802.8 606.6,796.4 598.1,796.4 596,785.7 590.6,779.4" fill="#d9a07b" stroke="#d9a07b"/>
<polygon points="582.1,823 591.7,823 600.2,827.2 603.4,831.5 606.6,843.2 600.2,846.4 596,851.7 589.6,848.5 585.3,843.2 583.2,834.7" fill="#d9a07b" stroke="#d9a07b"/>
<polygon points="511.9,813.4 515.1,806 519.4,802.8 521.5,800.6 524.7,800.6 523.6,807 524.7,817.7 522.6,817.7" fill="#d9a07b" stroke="#d9a07b"/>
<polygon points="525.7,881.5 532.1,875.1 544.9,876.2 553.4,877.2 549.1,883.6 547,890 525.7,890" fill="#d9a07b" stroke="#d9a07b"/>
<polygon points="604.5,862.3 608.7,856 610.9,863.4" fill="#d9a07b" stroke="#d9a07b"/>
<polygon points="497,859.1 503.4,856 504.5,862.3 500.2,862.8" fill="#d9a07b" stroke="#d9a07b"/>
<polygon points="454.5,771.9 459.8,767.7 468.3,763.4 475.7,763.4 486.4,767.7 487.4,770.9 482.1,773 475.7,774 477.9,779.4 478.9,785.7 476.8,790 472.6,791.1 468.3,784.7 460.9,783.6 453.4,781.5" fill="#ff8212" stroke="#ff8212"/>
<polygon points="455.5,804.9 461.9,798.5 469.4,796.4 472.6,804.9 476.8,813.4 477.9,821.9 475.7,826.2 469.4,834.7 466.2,838.9 464,826.2 458.7,815.5" fill="#ff8212" stroke="#ff8212"/>
<polygon points="466.2,838.9 469.4,834.7 475.7,826.2 477.9,821.9 482.1,828.3 489.6,824 497,821.9 503.4,828.3 506.6,838.9 502.3,847.4 493.8,853.8 481.1,860.2 470.4,864.5 464,865.5 465.1,851.7" fill="#ff8212" stroke="#ff8212"/>
<polygon points="430,828.3 434.3,828.3 442.8,821.9 451.3,817.7 458.7,815.5 464,826.2 466.2,838.9 465.1,851.7 463,866.6 461.9,875.1 465.1,879.4 461.9,890 436.4,890 430,881.5" fill="#ff8212" stroke="#ff8212"/>
<polygon points="525.7,695.3 527.9,690 535.3,690 536.4,696.4 531.1,699.6 528.9,701.7" fill="#ff8212" stroke="#ff8212"/>
<polygon points="572.6,735.7 576.8,726.2 582.1,721.9 589.6,716.6 600.2,721.9 607.7,714.5 610.9,719.8 617.2,721.9 618.3,727.2 623,728.3 623,751.7 613,753.8 606.6,761.3 603.4,761.3 604.5,751.7 600.2,743.2 593.8,743.2 588.5,735.7 581.1,737.9 577.9,740" fill="#ff8212" stroke="#ff8212"/>
<polygon points="581.1,813.4 583.2,804.9 591.7,798.5 598.1,796.4 606.6,796.4 615.1,802.8 616.2,811.3 613,819.8 606.6,826.2 600.2,827.2 591.7,823 584.3,819.8" fill="#ff8212" stroke="#ff8212"/>
<polygon points="488.5,740 498.1,736.8 502.3,745.3 507.7,750.6 511.9,746.4 524.7,756 525.7,768.7 528.9,777.2 523.6,782.6 517.2,778.3 511.9,779.4 503.4,775.1 502.3,769.8 496,766.6 490.6,771.9 486.4,767.7 488.5,758.1 486.4,746.4" fill="#dc0a32" stroke="#dc0a32"/>
<polygon points="469.4,796.4 475.7,794.3 481.1,796.4 486.4,792.1 487.4,794.3 493.8,796.4 492.8,811.3 497,813.4 497,821.9 489.6,824 482.1,828.3 477.9,821.9 476.8,813.4 472.6,804.9" fill="#dc0a32" stroke="#dc0a32"/>
<polygon points="438.5,890 443.8,884.7 453.4,882.6 460.9,882.6 461.9,890" fill="#dc0a32" stroke="#dc0a32"/>
<polygon points="488.5,706 494.9,703.8 501.3,707 499.1,713.4 491.7,711.3" fill="#dc0a32" stroke="#dc0a32"/>
<polygon points="615.1,879.4 621.5,875.1 630,873 630,890 617.2,890 618.3,883.6" fill="#ffffff" stroke="#ffffff"/>
</g>
<path d="M430,690M630,690M630,890M430,890M430,690M430,690M465.1,690L467.2,698.5L464,702.8L461.9,699.6L446,703.8L438.5,717.7L430,726.2M430,690M434.3,747.4L438.5,744.3L448.1,747.4L454.5,742.1L456.6,735.7L471.5,729.4L480,735.7L486.4,746.4L488.5,758.1L486.4,767.7L475.7,763.4L468.3,763.4L459.8,767.7L454.5,771.9L442.8,768.7L430,763.4M430,760.2L438.5,758.1L434.3,747.4M430,763.4L442.8,768.7L454.5,771.9L453.4,781.5L442.8,783.6L430,790M430,763.4M464,702.8L467.2,698.5L465.1,690M504.5,690L515.1,696.4L518.3,711.3L511.9,717.7L505.5,721.9L501.3,728.3L503.4,734.7L498.1,736.8L488.5,740L486.4,746.4L480,735.7L471.5,729.4L472.6,724L464,702.8M475.7,690M504.5,690L515.1,696.4L523.6,700.6L525.7,695.3L523.6,690M475.7,690M540.6,700.6L549.1,704.9L555.5,697.4L561.9,695.3L570.4,700.6L587.4,709.1L589.6,715.5L576.8,726.2L572.6,735.7L566.2,737.9L559.8,731.5L553.4,733.6L549.1,728.3L546,718.7L540.6,713.4L542.8,709.1L540.6,700.6M524.7,751.7L530,746.4L540.6,735.7L546,735.7L551.3,737.9L553.4,733.6L559.8,731.5L566.2,737.9L569.4,743.2L576.8,749.6L577.9,754.9L574.7,758.1L568.3,760.2L563,765.5L560.9,762.3L553.4,758.1L544.9,762.3L536.4,761.3L525.7,759.1L524.7,756L524.7,751.7M599.1,788.9L610.9,781.5L617.2,780.4L610.9,786.8L602.3,790L599.1,788.9M493.8,796.4L496,795.3L502.3,792.1L510.9,790L511.9,779.4L517.2,778.3L523.6,782.6L519.4,786.8L523.6,790L518.3,796.4L519.4,802.8L515.1,806L511.9,813.4L522.6,817.7L524.7,817.7L520.4,826.2L515.1,835.7L506.6,838.9L503.4,828.3L497,821.9L497,813.4L492.8,811.3L493.8,796.4M519.4,786.8L523.6,782.6L528.9,777.2L535.3,780.4L541.7,787.9L547,795.3L540.6,800.6L536.4,809.1L535.3,815.5L530,824L524.7,817.7L523.6,807L524.7,800.6L523.6,790L519.4,786.8M530,824L535.3,815.5L544.9,815.5L552.3,820.9L555.5,826.2L557.7,831.5L549.1,832.6L538.5,835.7L533.2,833.6L530,824M555.5,826.2L557.7,821.9L568.3,819.8L574.7,821.9L578.9,828.3L576.8,832.6L570.4,834.7L566.2,838.9L561.9,834.7L557.7,831.5L555.5,826.2M511.9,864.5L523.6,858.1L538.5,851.7L544.9,851.7L552.3,853.8L557.7,866.6L554.5,873L544.9,876.2L532.1,875.1L525.7,881.5L519.4,879.4L515.1,883.6L508.7,877.2L511.9,864.5M552.3,853.8L557.7,847.4L568.3,847.4L576.8,853.8L574.7,860.2L576.8,870.9L578.9,881.5L576.8,890M553.4,890L554.5,873L557.7,866.6L552.3,853.8M588.5,851.7L589.6,848.5L596,851.7L600.2,846.4L606.6,843.2L610.9,834.7L608.7,830.4L615.1,828.3L623,834.7L630,845.3M630,866.6L621.5,870.9L615.1,879.4L606.6,883.6L604.5,875.1L600.2,866.6L593.8,856L588.5,851.7M464,865.5L470.4,864.5L481.1,860.2L487.4,866.6L491.7,877.2L491.7,883.6L485.3,890M461.9,890L465.1,879.4L461.9,875.1L463,866.6L464,865.5M502.3,724L505.5,721.9L511.9,717.7L518.3,720.9L530,727.2L540.6,735.7L530,746.4L524.7,751.7L524.7,756L511.9,746.4L507.7,750.6L502.3,745.3L498.1,736.8L503.4,734.7L501.3,728.3L502.3,724M518.3,711.3L523.6,700.6L531.1,699.6L536.4,696.4L540.6,700.6L542.8,709.1L540.6,713.4L546,718.7L549.1,728.3L553.4,733.6L551.3,737.9L546,735.7L540.6,735.7L530,727.2L518.3,720.9L511.9,717.7L518.3,711.3M563,765.5L568.3,760.2L574.7,758.1L576.8,770.9L576.8,779.4L571.5,781.5L566.2,793.2L561.9,798.5L557.7,800.6L551.3,796.4L547,795.3L551.3,788.9L552.3,780.4L555.5,775.1L558.7,771.9L563,765.5M563,798.5L566.2,793.2L571.5,781.5L576.8,779.4L587.4,779.4L590.6,779.4L596,785.7L598.1,796.4L591.7,798.5L583.2,804.9L581.1,813.4L576.8,811.3L568.3,815.5L564,809.1L563,798.5M511.9,850.6L515.1,835.7L520.4,826.2L524.7,817.7L530,824L533.2,833.6L538.5,835.7L537.4,847.4L538.5,851.7L523.6,858.1L513,862.3L511.9,850.6M538.5,835.7L549.1,832.6L557.7,831.5L558.7,838.9L557.7,847.4L552.3,853.8L544.9,851.7L538.5,851.7L537.4,847.4L538.5,835.7M576.8,853.8L588.5,851.7L593.8,856L600.2,866.6L604.5,875.1L606.6,883.6L602.3,890M576.8,890L578.9,881.5L576.8,870.9L574.7,860.2L576.8,853.8M481.1,860.2L493.8,853.8L502.3,847.4L506.6,838.9L515.1,835.7L511.9,850.6L513,862.3L511.9,864.5L508.7,877.2L515.1,883.6L513,890M485.3,890L491.7,883.6L491.7,877.2L487.4,866.6L481.1,860.2M430,726.2L438.5,717.7L446,703.8L461.9,699.6L464,702.8L472.6,724L471.5,729.4L456.6,735.7L454.5,742.1L448.1,747.4L438.5,744.3L430,740M430,726.2M430,740L438.5,744.3L434.3,747.4L438.5,758.1L430,760.2M430,740M480,775.1L487.4,771.9L496,766.6L502.3,769.8L503.4,775.1L511.9,779.4L510.9,790L502.3,792.1L496,795.3L487.4,794.3L483.2,792.1L478.9,785.7L480,775.1M430,790L442.8,783.6L453.4,781.5L460.9,783.6L468.3,784.7L472.6,791.1L471.5,794.3L461.9,798.5L455.5,804.9L458.7,815.5L451.3,817.7L442.8,821.9L434.3,828.3L430,826.2M430,790M535.3,690M564,690L561.9,695.3L555.5,697.4L549.1,704.9L540.6,700.6L536.4,696.4L535.3,690M524.7,701.7L528.9,700.6L531.1,704.9L526.8,707L524.7,701.7M525.7,759.1L536.4,761.3L544.9,762.3L553.4,758.1L560.9,762.3L563,765.5L558.7,771.9L555.5,775.1L552.3,780.4L551.3,788.9L547,795.3L541.7,787.9L535.3,780.4L528.9,777.2L525.7,768.7L525.7,759.1M598.1,734.7L603.4,729.4L608.7,738.9L602.3,740L598.1,734.7M589.6,774L593.8,763.4L603.4,761.3L606.6,761.3L613,763.4L619.4,764.5L623,764.5L623,806L617.2,808.1L615.1,802.8L606.6,796.4L598.1,796.4L596,785.7L590.6,779.4L589.6,774M582.1,823L591.7,823L600.2,827.2L603.4,831.5L606.6,843.2L600.2,846.4L596,851.7L589.6,848.5L585.3,843.2L583.2,834.7L582.1,823M511.9,813.4L515.1,806L519.4,802.8L521.5,800.6L524.7,800.6L523.6,807L524.7,817.7L522.6,817.7L511.9,813.4M525.7,881.5L532.1,875.1L544.9,876.2L553.4,877.2L549.1,883.6L547,890M525.7,890L525.7,881.5M604.5,862.3L608.7,856L610.9,863.4L604.5,862.3M497,859.1L503.4,856L504.5,862.3L500.2,862.8L497,859.1M454.5,771.9L459.8,767.7L468.3,763.4L475.7,763.4L486.4,767.7L487.4,770.9L482.1,773L475.7,774L477.9,779.4L478.9,785.7L476.8,790L472.6,791.1L468.3,784.7L460.9,783.6L453.4,781.5L454.5,771.9M455.5,804.9L461.9,798.5L469.4,796.4L472.6,804.9L476.8,813.4L477.9,821.9L475.7,826.2L469.4,834.7L466.2,838.9L464,826.2L458.7,815.5L455.5,804.9M466.2,838.9L469.4,834.7L475.7,826.2L477.9,821.9L482.1,828.3L489.6,824L497,821.9L503.4,828.3L506.6,838.9L502.3,847.4L493.8,853.8L481.1,860.2L470.4,864.5L464,865.5L465.1,851.7L466.2,838.9M430,828.3L434.3,828.3L442.8,821.9L451.3,817.7L458.7,815.5L464,826.2L466.2,838.9L465.1,851.7L463,866.6L461.9,875.1L465.1,879.4L461.9,890M436.4,890L430,881.5M430,828.3M525.7,695.3L527.9,690M535.3,690L536.4,696.4L531.1,699.6L528.9,701.7L525.7,695.3M572.6,735.7L576.8,726.2L582.1,721.9L589.6,716.6L600.2,721.9L607.7,714.5L610.9,719.8L617.2,721.9L618.3,727.2L623,728.3L623,751.7L613,753.8L606.6,761.3L603.4,761.3L604.5,751.7L600.2,743.2L593.8,743.2L588.5,735.7L581.1,737.9L577.9,740L572.6,735.7M581.1,813.4L583.2,804.9L591.7,798.5L598.1,796.4L606.6,796.4L615.1,802.8L616.2,811.3L613,819.8L606.6,826.2L600.2,827.2L591.7,823L584.3,819.8L581.1,813.4M488.5,740L498.1,736.8L502.3,745.3L507.7,750.6L511.9,746.4L524.7,756L525.7,768.7L528.9,777.2L523.6,782.6L517.2,778.3L511.9,779.4L503.4,775.1L502.3,769.8L496,766.6L490.6,771.9L486.4,767.7L488.5,758.1L486.4,746.4L488.5,740M469.4,796.4L475.7,794.3L481.1,796.4L486.4,792.1L487.4,794.3L493.8,796.4L492.8,811.3L497,813.4L497,821.9L489.6,824L482.1,828.3L477.9,821.9L476.8,813.4L472.6,804.9L469.4,796.4M438.5,890L443.8,884.7L453.4,882.6L460.9,882.6L461.9,890M438.5,890M488.5,706L494.9,703.8L501.3,707L499.1,713.4L491.7,711.3L488.5,706" fill="none" stroke="#fff" stroke-opacity="0.5" stroke-width="0.8" stroke-linejoin="round"/>
<clipPath id="c13"><rect x="330" y="490" width="160" height="200"/></clipPath>
<g stroke-linejoin="round" stroke-width="1.2" clip-path="url(#c13)">
<polygon points="404.5,511.3 410.9,502.8 425.7,507 432.1,510.2 440.6,513.4 441.7,519.8 432.1,524 425.7,534.7 422.6,541.1 423.6,547.4 416.2,551.7 411.9,549.6 399.1,546.4 391.7,534.7 400.2,521.9" fill="#adadad" stroke="#adadad"/>
<polygon points="427.9,490 452.3,490 457.7,499.6 466.2,504.9 469.4,513.4 466.2,516.6 468.3,525.1 457.7,529.4 453.4,524 441.7,519.8 440.6,513.4 432.1,510.2 436.4,502.8 430,496.4" fill="#adadad" stroke="#adadad"/>
<polygon points="337.4,542.1 343.8,540 349.1,542.1 350.2,542.1 354.5,553.8 359.8,564.5 364,575.1 365.1,579.4 358.7,584.7 361.9,588.9 353.4,590 344.9,581.5 338.5,570.9 334.3,553.8 330,550.6 330,570.9" fill="#adadad" stroke="#adadad"/>
<polygon points="385.3,558.1 399.1,546.4 411.9,549.6 416.2,551.7 423.6,547.4 419.4,552.8 426.8,553.8 431.1,560.2 432.1,567.7 423.6,570.9 418.3,583.6 421.5,590 415.1,594.3 408.7,586.8 404.5,587.9 396,586.8 393.8,581.5 398.1,575.1 393.8,568.7" fill="#adadad" stroke="#adadad"/>
<polygon points="426.8,553.8 434.3,558.1 438.5,551.7 444.9,550.6 453.4,547.4 451.3,564.5 457.7,563.4 460.9,574 452.3,587.9 440.6,590 438.5,596.4 427.9,593.2 421.5,590 418.3,583.6 423.6,570.9 432.1,567.7 431.1,560.2" fill="#adadad" stroke="#adadad"/>
<polygon points="361.9,588.9 358.7,584.7 365.1,579.4 372.6,583.6 378.9,584.7 387.4,587.9 393.8,581.5 396,586.8 404.5,587.9 408.7,586.8 406.6,596.4 400.2,604.9 383.2,604.9 378.9,607 375.7,615.5 371.5,613.4 368.3,602.8 364,598.5" fill="#adadad" stroke="#adadad"/>
<polygon points="330,570.9 338.5,570.9 344.9,581.5 353.4,590 348.1,594.3 347,602.8 340.6,602.8 330,606" fill="#adadad" stroke="#adadad"/>
<polygon points="348.1,594.3 353.4,590 361.9,588.9 364,598.5 368.3,602.8 369.4,610.2 357.7,617.7 346,613.4 349.1,609.1 348.1,603.8 347,602.8" fill="#adadad" stroke="#adadad"/>
<polygon points="415.1,621.9 422.6,623 423.6,611.3 432.1,611.3 436.4,621.9 444.9,630.4 457.7,626.2 459.8,638.9 449.1,643.2 438.5,649.6 432.1,653.8 430,658.1 419.4,658.1 419.4,648.5 419.4,643.2 417.2,636.8" fill="#adadad" stroke="#adadad"/>
<polygon points="423.6,611.3 439.6,600.6 438.5,596.4 440.6,590 444.9,594.3 457.7,604.9 466.2,606 476.8,600.6 481.1,609.1 478.9,617.7 468.3,621.9 457.7,626.2 444.9,630.4 436.4,621.9 432.1,611.3" fill="#adadad" stroke="#adadad"/>
<polygon points="440.6,590 452.3,587.9 460.9,574 468.3,575.1 476.8,581.5 483.2,590 490,592.1 490,604.9 481.1,609.1 476.8,600.6 466.2,606 457.7,604.9 444.9,594.3" fill="#adadad" stroke="#adadad"/>
<polygon points="330,626.2 336.4,628.3 342.8,633.6 348.1,649.6 351.3,658.1 344.9,662.3 347,675.1 353.4,685.7 361.9,682.6 361.9,690 330,690" fill="#adadad" stroke="#adadad"/>
<polygon points="330,490 369.4,490 363,494.3 365.1,499.6 372.6,501.7 374.7,515.5 359.8,519.8 357.7,529.4 349.1,542.1 343.8,540 337.4,542.1 330,550.6" fill="#979797" stroke="#979797"/>
<polygon points="369.4,490 398.1,490 399.1,502.8 404.5,511.3 400.2,521.9 391.7,534.7 383.2,531.5 372.6,532.6 367.2,529.4 358.7,531.5 357.7,529.4 359.8,519.8 374.7,515.5 372.6,501.7 365.1,499.6 363,494.3" fill="#979797" stroke="#979797"/>
<polygon points="398.1,490 427.9,490 430,496.4 436.4,502.8 432.1,510.2 425.7,507 410.9,502.8 404.5,511.3 399.1,502.8" fill="#979797" stroke="#979797"/>
<polygon points="422.6,541.1 425.7,534.7 432.1,524 441.7,519.8 453.4,524 457.7,529.4 459.8,541.1 453.4,547.4 444.9,550.6 438.5,551.7 434.3,558.1 426.8,553.8 419.4,552.8 423.6,547.4" fill="#979797" stroke="#979797"/>
<polygon points="350.2,542.1 357.7,529.4 358.7,531.5 367.2,529.4 372.6,532.6 383.2,531.5 391.7,534.7 399.1,546.4 385.3,558.1 367.2,559.1 359.8,564.5 354.5,553.8" fill="#979797" stroke="#979797"/>
<polygon points="359.8,564.5 367.2,559.1 385.3,558.1 393.8,568.7 398.1,575.1 393.8,581.5 387.4,587.9 378.9,584.7 372.6,583.6 365.1,579.4 364,575.1" fill="#979797" stroke="#979797"/>
<polygon points="361.9,629.4 371.5,626.2 375.7,624 390.6,626.2 393.8,648.5 392.8,660.2 396,675.1 400.2,677.2 393.8,679.4 383.2,685.7 381.1,690 361.9,690 361.9,682.6 353.4,685.7 347,675.1 344.9,662.3 351.3,658.1 352.3,660.2 357.7,660.2 356.6,643.2 361.9,636.8" fill="#979797" stroke="#979797"/>
<polygon points="390.6,626.2 391.7,621.9 400.2,618.7 415.1,621.9 417.2,636.8 419.4,643.2 411.9,650.6 407.7,643.2 401.3,641.1 393.8,648.5" fill="#979797" stroke="#979797"/>
<polygon points="457.7,626.2 468.3,621.9 478.9,617.7 481.1,609.1 490,604.9 490,638.9 483.2,638.9 478.9,643.2 466.2,641.1 459.8,638.9" fill="#979797" stroke="#979797"/>
<polygon points="432.1,653.8 438.5,649.6 449.1,643.2 459.8,638.9 466.2,641.1 461.9,645.3 457.7,651.7 463,662.3 461.9,670.9 457.7,677.2 455.5,690 451.3,681.5 446,677.2 440.6,666.6 436.4,660.2 432.1,664.5 430,658.1" fill="#979797" stroke="#979797"/>
<polygon points="400.2,677.2 415.1,670.9 416.2,660.2 430,658.1 432.1,664.5 436.4,660.2 440.6,666.6 446,677.2 451.3,681.5 455.5,690 381.1,690 383.2,685.7 393.8,679.4" fill="#979797" stroke="#979797"/>
<polygon points="330,638.9 340.6,638.9 344.9,651.7 342.8,662.3 330,660.2" fill="#979797" stroke="#979797"/>
<polygon points="375.7,615.5 378.9,607 383.2,604.9 400.2,604.9 406.6,596.4 408.7,586.8 415.1,594.3 421.5,590 427.9,593.2 438.5,596.4 439.6,600.6 423.6,611.3 422.6,623 400.2,618.7 391.7,621.9 390.6,626.2 375.7,624" fill="#d9a07b" stroke="#d9a07b"/>
<polygon points="330,606 340.6,602.8 348.1,603.8 349.1,609.1 346,613.4 357.7,617.7 369.4,610.2 371.5,613.4 375.7,615.5 375.7,624 371.5,626.2 361.9,629.4 356.6,628.3 351.3,631.5 342.8,633.6 336.4,628.3 330,626.2" fill="#d9a07b" stroke="#d9a07b"/>
<polygon points="393.8,648.5 401.3,641.1 407.7,643.2 411.9,650.6 419.4,648.5 419.4,658.1 408.7,660.2 409.8,666.6 416.2,666.6 415.1,670.9 400.2,677.2 396,675.1 392.8,660.2" fill="#d9a07b" stroke="#d9a07b"/>
<polygon points="448.1,652.8 455.5,651.3 457.2,657 453.4,662.3 449.1,659.1" fill="#d9a07b" stroke="#d9a07b"/>
<polygon points="332.1,632.6 336.4,630.4 340.6,636.8 338.5,641.1 334.3,636.8" fill="#ff8212" stroke="#ff8212"/>
<polygon points="460.9,654.9 466.2,648.5 474.7,646.4 483.2,648.5 490,656 490,660.2 483.2,666.6 482.1,673 471.5,674 466.2,677.2 464,668.7 463,662.3" fill="#ff8212" stroke="#ff8212"/>
<polygon points="342.8,633.6 351.3,631.5 356.6,628.3 361.9,629.4 361.9,636.8 356.6,643.2 357.7,660.2 352.3,660.2 348.1,649.6" fill="#dc0a32" stroke="#dc0a32"/>
<polygon points="468.3,630.4 472.6,625.1 474.3,631.5 470,632.1" fill="#dc0a32" stroke="#dc0a32"/>
</g>
<path d="M404.5,511.3L410.9,502.8L425.7,507L432.1,510.2L440.6,513.4L441.7,519.8L432.1,524L425.7,534.7L422.6,541.1L423.6,547.4L416.2,551.7L411.9,549.6L399.1,546.4L391.7,534.7L400.2,521.9L404.5,511.3M427.9,490M452.3,490L457.7,499.6L466.2,504.9L469.4,513.4L466.2,516.6L468.3,525.1L457.7,529.4L453.4,524L441.7,519.8L440.6,513.4L432.1,510.2L436.4,502.8L430,496.4L427.9,490M337.4,542.1L343.8,540L349.1,542.1L350.2,542.1L354.5,553.8L359.8,564.5L364,575.1L365.1,579.4L358.7,584.7L361.9,588.9L353.4,590L344.9,581.5L338.5,570.9L334.3,553.8L330,550.6M330,570.9L337.4,542.1M385.3,558.1L399.1,546.4L411.9,549.6L416.2,551.7L423.6,547.4L419.4,552.8L426.8,553.8L431.1,560.2L432.1,567.7L423.6,570.9L418.3,583.6L421.5,590L415.1,594.3L408.7,586.8L404.5,587.9L396,586.8L393.8,581.5L398.1,575.1L393.8,568.7L385.3,558.1M426.8,553.8L434.3,558.1L438.5,551.7L444.9,550.6L453.4,547.4L451.3,564.5L457.7,563.4L460.9,574L452.3,587.9L440.6,590L438.5,596.4L427.9,593.2L421.5,590L418.3,583.6L423.6,570.9L432.1,567.7L431.1,560.2L426.8,553.8M361.9,588.9L358.7,584.7L365.1,579.4L372.6,583.6L378.9,584.7L387.4,587.9L393.8,581.5L396,586.8L404.5,587.9L408.7,586.8L406.6,596.4L400.2,604.9L383.2,604.9L378.9,607L375.7,615.5L371.5,613.4L368.3,602.8L364,598.5L361.9,588.9M330,570.9L338.5,570.9L344.9,581.5L353.4,590L348.1,594.3L347,602.8L340.6,602.8L330,606M330,570.9M348.1,594.3L353.4,590L361.9,588.9L364,598.5L368.3,602.8L369.4,610.2L357.7,617.7L346,613.4L349.1,609.1L348.1,603.8L347,602.8L348.1,594.3M415.1,621.9L422.6,623L423.6,611.3L432.1,611.3L436.4,621.9L444.9,630.4L457.7,626.2L459.8,638.9L449.1,643.2L438.5,649.6L432.1,653.8L430,658.1L419.4,658.1L419.4,648.5L419.4,643.2L417.2,636.8L415.1,621.9M423.6,611.3L439.6,600.6L438.5,596.4L440.6,590L444.9,594.3L457.7,604.9L466.2,606L476.8,600.6L481.1,609.1L478.9,617.7L468.3,621.9L457.7,626.2L444.9,630.4L436.4,621.9L432.1,611.3L423.6,611.3M440.6,590L452.3,587.9L460.9,574L468.3,575.1L476.8,581.5L483.2,590L490,592.1M490,604.9L481.1,609.1L476.8,600.6L466.2,606L457.7,604.9L444.9,594.3L440.6,590M330,626.2L336.4,628.3L342.8,633.6L348.1,649.6L351.3,658.1L344.9,662.3L347,675.1L353.4,685.7L361.9,682.6L361.9,690M330,690M330,626.2M330,490M369.4,490L363,494.3L365.1,499.6L372.6,501.7L374.7,515.5L359.8,519.8L357.7,529.4L349.1,542.1L343.8,540L337.4,542.1L330,550.6M330,490M369.4,490M398.1,490L399.1,502.8L404.5,511.3L400.2,521.9L391.7,534.7L383.2,531.5L372.6,532.6L367.2,529.4L358.7,531.5L357.7,529.4L359.8,519.8L374.7,515.5L372.6,501.7L365.1,499.6L363,494.3L369.4,490M398.1,490M427.9,490L430,496.4L436.4,502.8L432.1,510.2L425.7,507L410.9,502.8L404.5,511.3L399.1,502.8L398.1,490M422.6,541.1L425.7,534.7L432.1,524L441.7,519.8L453.4,524L457.7,529.4L459.8,541.1L453.4,547.4L444.9,550.6L438.5,551.7L434.3,558.1L426.8,553.8L419.4,552.8L423.6,547.4L422.6,541.1M350.2,542.1L357.7,529.4L358.7,531.5L367.2,529.4L372.6,532.6L383.2,531.5L391.7,534.7L399.1,546.4L385.3,558.1L367.2,559.1L359.8,564.5L354.5,553.8L350.2,542.1M359.8,564.5L367.2,559.1L385.3,558.1L393.8,568.7L398.1,575.1L393.8,581.5L387.4,587.9L378.9,584.7L372.6,583.6L365.1,579.4L364,575.1L359.8,564.5M361.9,629.4L371.5,626.2L375.7,624L390.6,626.2L393.8,648.5L392.8,660.2L396,675.1L400.2,677.2L393.8,679.4L383.2,685.7L381.1,690M361.9,690L361.9,682.6L353.4,685.7L347,675.1L344.9,662.3L351.3,658.1L352.3,660.2L357.7,660.2L356.6,643.2L361.9,636.8L361.9,629.4M390.6,626.2L391.7,621.9L400.2,618.7L415.1,621.9L417.2,636.8L419.4,643.2L411.9,650.6L407.7,643.2L401.3,641.1L393.8,648.5L390.6,626.2M457.7,626.2L468.3,621.9L478.9,617.7L481.1,609.1L490,604.9M490,638.9L483.2,638.9L478.9,643.2L466.2,641.1L459.8,638.9L457.7,626.2M432.1,653.8L438.5,649.6L449.1,643.2L459.8,638.9L466.2,641.1L461.9,645.3L457.7,651.7L463,662.3L461.9,670.9L457.7,677.2L455.5,690L451.3,681.5L446,677.2L440.6,666.6L436.4,660.2L432.1,664.5L430,658.1L432.1,653.8M400.2,677.2L415.1,670.9L416.2,660.2L430,658.1L432.1,664.5L436.4,660.2L440.6,666.6L446,677.2L451.3,681.5L455.5,690M381.1,690L383.2,685.7L393.8,679.4L400.2,677.2M330,638.9L340.6,638.9L344.9,651.7L342.8,662.3L330,660.2M330,638.9M375.7,615.5L378.9,607L383.2,604.9L400.2,604.9L406.6,596.4L408.7,586.8L415.1,594.3L421.5,590L427.9,593.2L438.5,596.4L439.6,600.6L423.6,611.3L422.6,623L400.2,618.7L391.7,621.9L390.6,626.2L375.7,624L375.7,615.5M330,606L340.6,602.8L348.1,603.8L349.1,609.1L346,613.4L357.7,617.7L369.4,610.2L371.5,613.4L375.7,615.5L375.7,624L371.5,626.2L361.9,629.4L356.6,628.3L351.3,631.5L342.8,633.6L336.4,628.3L330,626.2M330,606M393.8,648.5L401.3,641.1L407.7,643.2L411.9,650.6L419.4,648.5L419.4,658.1L408.7,660.2L409.8,666.6L416.2,666.6L415.1,670.9L400.2,677.2L396,675.1L392.8,660.2L393.8,648.5M448.1,652.8L455.5,651.3L457.2,657L453.4,662.3L449.1,659.1L448.1,652.8M332.1,632.6L336.4,630.4L340.6,636.8L338.5,641.1L334.3,636.8L332.1,632.6M460.9,654.9L466.2,648.5L474.7,646.4L483.2,648.5L490,656M490,660.2L483.2,666.6L482.1,673L471.5,674L466.2,677.2L464,668.7L463,662.3L460.9,654.9M342.8,633.6L351.3,631.5L356.6,628.3L361.9,629.4L361.9,636.8L356.6,643.2L357.7,660.2L352.3,660.2L348.1,649.6L342.8,633.6M468.3,630.4L472.6,625.1L474.3,631.5L470,632.1L468.3,630.4" fill="none" stroke="#fff" stroke-opacity="0.5" stroke-width="0.8" stroke-linejoin="round"/>
<clipPath id="c14"><rect x="190" y="430" width="160" height="129.917"/></clipPath>
<g stroke-linejoin="round" stroke-width="1.2" clip-path="url(#c14)">
</g>
<path d="M228,479.6L239.6,481.2L244.5,487.9L248.7,487.9M239.6,481.2L229.7,486.2L231.3,492L241.2,487.9M214.8,501.9L226.4,496.1L236.3,493.6L241.2,487.9M214.8,501.9L218.9,511L225.5,512.6L224.7,516.8M226.4,496.1L225.5,512.6M224.7,516.8L236.3,520.1L244.5,516L248.7,519.3L252,515.1M242.9,487.9L244.5,501.1L254.5,509.3L252,515.1M249.5,487.9L250.3,479.6L256.1,474.6L262.7,468.8L269.3,473.8L271,479.6L272.6,485.4M250.3,465.5L258.6,458.9L262.7,459.8L262.7,468.8M253.6,462.2L257.8,469.7M262.7,459.8L267.7,460.6L272.6,467.2L271,473.8M272.6,467.2L279.3,464.7L283.4,470.5L290.8,463.1L285.9,456.4M271,473.8L279.3,470.5L283.4,470.5L285,474.6L280.1,480.4L271,479.6M283.4,470.5L292.5,480.4L290.8,482.9M290.8,463.1L301.6,465.5L304,471.3L299.1,477.9L295.8,482.9M292.5,450.7L295.8,454.8L290.8,463.1M295.8,454.8L305.7,455.6L310.7,449.8L323.9,452.3L320.6,464.7L316.4,465.5L309,460.6L305.7,455.6M316.4,465.5L316.4,477.1M279.3,499.4L281.7,500.2L289.2,501.1M280.1,509.3L278.4,516L281.7,520.1L276,525.9L282.6,530L285.9,530.8M265.2,521.7L269.3,535.8L276,533.3L285.9,530.8L289.2,537.4L304,544M247,525.9L249.5,530.8L253.6,539.1L259.4,540.7L269.3,535.8M244.5,516L247,525.9L238.8,535.8L239.6,544L249.5,545.7L259.4,540.7M224.7,516.8L225.5,527.5L233,539.1L238.8,544M207.4,527.5L209,534.1L214.8,540.7L210.7,552.3L216.4,559.9M225.5,527.5L207.4,527.5M233,539.1L229.7,552.3L237.9,559.9M249.5,545.7L248.7,559.9M307.4,520.1L309,529.2L312.3,533.3M322.2,502.7L333.8,502.7L335.5,511L341.2,517.6L338.8,525L322.2,527.5L318.9,535.8M318.9,477.1L333.8,481.2L345.4,486.2L350,485.4M323.9,452.3L339.6,454.8L340.4,458.1L350,454.8M339.6,430L345.4,446.5L350,451.5M198.3,433.3L203.2,441.6L205.7,454L213.1,465.5L211.5,481.2L215.6,484.5M211.5,481.2L201.6,492.8L202.4,501.1L214.8,501.9M228,479.6L231.3,467.2L219.8,454.8L225.5,444L229.7,446.5L233,439.1M233,439.1L256.1,446.5L259.4,441.6L269.3,441.6L276,439.9M259.4,446.5L257.8,457.3L250.3,465.5L239.6,464.7M276,439.9L281.7,448.2L291.7,458.1L290.8,463.1M269.3,430L271,435L276,439.9M295.8,430L304,438.3L309.8,449M305.7,437.4L314,430" fill="none" stroke="#fff" stroke-opacity="0.5" stroke-width="0.8" stroke-linejoin="round"/>
<clipPath id="c15"><rect x="200" y="600" width="130.16" height="140.015"/></clipPath>
<g stroke-linejoin="round" stroke-width="1.2" clip-path="url(#c15)">
<polygon points="200,600 296.7,600 304.1,616.7 306,623.2 309.7,629.8 319,633.5 330.2,630.7 330.2,740 311.6,740 311.6,730.2 309.7,732.9 300.4,730.2 285.5,726.4 278.1,717.1 273.4,716.2 276.2,707.8 276.2,696.7 269.7,691.1 271.6,681.8 268.8,676.2 261.4,670.7 253,666.9 246.5,667.9 233.5,673.4 220.5,675.3 207.4,674.4 211.2,666.9 217.7,661.4 216.7,644.6 211.2,642.8 203.7,635.3 200,627.9" fill="#adadad" stroke="#adadad"/>
<polygon points="296.7,600 328.3,600 326.4,605.6 322.7,608.4 319,613 315.3,618.6 311.6,618.6 306,623.2 304.1,616.7" fill="#979797" stroke="#979797"/>
<polygon points="301.3,625.1 306,623.2 309.7,629.8 319,633.5 330.2,630.7 330.2,644.6 319,642.8 315.3,644.6 306.9,637.2 303.2,632.5" fill="#979797" stroke="#979797"/>
<polygon points="315.3,644.6 319,642.8 330.2,644.6 330.2,672.5 328.3,664.2 320.9,659.5 317.1,649.3" fill="#979797" stroke="#979797"/>
<polygon points="271.6,676.2 281.8,670.7 286.5,664.2 291.1,660.4 296.7,662.3 298.5,666.9 296.7,673.4 291.1,678.1 283.7,681.8 278.1,691.1 274.4,693.9 269.7,691.1 271.6,681.8" fill="#979797" stroke="#979797"/>
<polygon points="207.4,674.4 220.5,675.3 233.5,673.4 246.5,667.9 248.3,681.8 241.8,681.8 237.2,685.5 231.6,692 219.5,689.3 208.4,680.9" fill="#cdcdcd" stroke="#cdcdcd"/>
<polygon points="246.5,667.9 253,666.9 261.4,670.7 268.8,676.2 271.6,681.8 269.7,691.1 276.2,696.7 276.2,707.8 273.4,716.2 274.4,717.1 271.6,721.8 263.2,719 252.1,720.9 250.2,716.2 235.3,715.3 230.7,711.6 227.9,709.7 232.5,706.9 240,701.3 244.6,695.8 245.6,690.2 249.3,687.4 248.3,681.8" fill="#979797" stroke="#979797"/>
<polygon points="276.2,696.7 287.4,699.5 293,696.7 301.3,701.3 307.8,705.1 311.6,711.6 309.7,719 311.6,730.2 309.7,732.9 300.4,730.2 285.5,726.4 278.1,717.1 273.4,716.2 276.2,707.8" fill="#cdcdcd" stroke="#cdcdcd"/>
<polygon points="322.7,730.2 330.2,726.4 330.2,740 324.6,740" fill="#979797" stroke="#979797"/>
<polygon points="222.3,654.9 227.9,645.6 232.5,642.8 234.4,646.5 230.7,655.8 226,658.6" fill="#979797" stroke="#979797"/>
<polygon points="294.8,689.3 297.6,684.6 304.1,684.6 308.8,689.3 306.9,694.8 301.3,696.7 296.7,693" fill="#979797" stroke="#979797"/>
<polygon points="309.7,623.2 312.5,618.6 316.2,617.7 319.9,612.1 323.7,609.3 328.3,604.6 330.2,604.5 330.2,630.7 319,633.5 311.6,630.7" fill="#d9a07b" stroke="#d9a07b"/>
<polygon points="219.5,689.3 231.6,692 237.2,685.5 241.8,681.8 248.3,681.8 249.3,687.4 245.6,690.2 244.6,695.8 240,701.3 232.5,706.9 227.9,709.7 222.3,696.7" fill="#d9a07b" stroke="#d9a07b"/>
<polygon points="224.2,605.6 227.9,600 259.5,600 255.8,604.6 252.1,611.2 251.1,618.6 247.4,617.7 244.6,613.9 234.4,617.7 227.9,614.9" fill="#ff8212" stroke="#ff8212"/>
<polygon points="280.9,646.5 287.4,643.7 296.7,637.2 303.2,632.5 306.9,637.2 315.3,644.6 317.1,649.3 313.4,655.8 305.1,656.7 301.3,661.4 298.5,666.9 296.7,662.3 291.1,660.4 284.6,654.9" fill="#ff8212" stroke="#ff8212"/>
<polygon points="270.3,710.1 276.2,705.1 277.2,709.7 272.5,713.8" fill="#dc0a32" stroke="#dc0a32"/>
<polygon points="200,627.9 203.7,635.3 211.2,642.8 216.7,644.6 217.7,661.4 211.2,666.9 207.4,674.4 208.4,680.9 219.5,689.3 222.3,696.7 227.9,709.7 230.7,711.6 235.3,715.3 250.2,716.2 252.1,720.9 263.2,719 271.6,721.8 274.4,717.1 278.1,717.1 285.5,726.4 300.4,730.2 309.7,732.9 311.6,730.2 311.6,740 200,740" fill="#ffffff" stroke="#ffffff"/>
</g>
<path d="M200,600M296.7,600L304.1,616.7L306,623.2L309.7,629.8L319,633.5L330.2,630.7M330.2,740M311.6,740L311.6,730.2L309.7,732.9L300.4,730.2L285.5,726.4L278.1,717.1L273.4,716.2L276.2,707.8L276.2,696.7L269.7,691.1L271.6,681.8L268.8,676.2L261.4,670.7L253,666.9L246.5,667.9L233.5,673.4L220.5,675.3L207.4,674.4L211.2,666.9L217.7,661.4L216.7,644.6L211.2,642.8L203.7,635.3L200,627.9M200,600M296.7,600M328.3,600L326.4,605.6L322.7,608.4L319,613L315.3,618.6L311.6,618.6L306,623.2L304.1,616.7L296.7,600M301.3,625.1L306,623.2L309.7,629.8L319,633.5L330.2,630.7M330.2,644.6L319,642.8L315.3,644.6L306.9,637.2L303.2,632.5L301.3,625.1M315.3,644.6L319,642.8L330.2,644.6M330.2,672.5L328.3,664.2L320.9,659.5L317.1,649.3L315.3,644.6M271.6,676.2L281.8,670.7L286.5,664.2L291.1,660.4L296.7,662.3L298.5,666.9L296.7,673.4L291.1,678.1L283.7,681.8L278.1,691.1L274.4,693.9L269.7,691.1L271.6,681.8L271.6,676.2M207.4,674.4L220.5,675.3L233.5,673.4L246.5,667.9L248.3,681.8L241.8,681.8L237.2,685.5L231.6,692L219.5,689.3L208.4,680.9L207.4,674.4M246.5,667.9L253,666.9L261.4,670.7L268.8,676.2L271.6,681.8L269.7,691.1L276.2,696.7L276.2,707.8L273.4,716.2L274.4,717.1L271.6,721.8L263.2,719L252.1,720.9L250.2,716.2L235.3,715.3L230.7,711.6L227.9,709.7L232.5,706.9L240,701.3L244.6,695.8L245.6,690.2L249.3,687.4L248.3,681.8L246.5,667.9M276.2,696.7L287.4,699.5L293,696.7L301.3,701.3L307.8,705.1L311.6,711.6L309.7,719L311.6,730.2L309.7,732.9L300.4,730.2L285.5,726.4L278.1,717.1L273.4,716.2L276.2,707.8L276.2,696.7M322.7,730.2L330.2,726.4M330.2,740M324.6,740L322.7,730.2M222.3,654.9L227.9,645.6L232.5,642.8L234.4,646.5L230.7,655.8L226,658.6L222.3,654.9M294.8,689.3L297.6,684.6L304.1,684.6L308.8,689.3L306.9,694.8L301.3,696.7L296.7,693L294.8,689.3M309.7,623.2L312.5,618.6L316.2,617.7L319.9,612.1L323.7,609.3L328.3,604.6L330.2,604.5M330.2,630.7L319,633.5L311.6,630.7L309.7,623.2M219.5,689.3L231.6,692L237.2,685.5L241.8,681.8L248.3,681.8L249.3,687.4L245.6,690.2L244.6,695.8L240,701.3L232.5,706.9L227.9,709.7L222.3,696.7L219.5,689.3M224.2,605.6L227.9,600M259.5,600L255.8,604.6L252.1,611.2L251.1,618.6L247.4,617.7L244.6,613.9L234.4,617.7L227.9,614.9L224.2,605.6M280.9,646.5L287.4,643.7L296.7,637.2L303.2,632.5L306.9,637.2L315.3,644.6L317.1,649.3L313.4,655.8L305.1,656.7L301.3,661.4L298.5,666.9L296.7,662.3L291.1,660.4L284.6,654.9L280.9,646.5M270.3,710.1L276.2,705.1L277.2,709.7L272.5,713.8L270.3,710.1M234.4,617.7L232.5,635.3L244.6,641.8L250.2,661.4L253.9,666M232.5,635.3L217.7,644.6M252.1,611.2L261.4,622.3L264.2,630.7L269.7,633.5L277.2,627.9L275.3,617.7L280,613L296.7,603.7M269.7,633.5L268.8,640.9L281.8,644.6M268.8,640.9L261.4,653.9L253.9,661.4M261.4,653.9L270.7,676.2M277.2,627.9L304.1,616.7M298.5,666.9L304.1,656.7L313.4,655.8L328.3,664.2M296.7,673.4L304.1,678.1L315.3,681.8L320.9,685.5L330.2,672.5M283.7,681.8L293,680L296.7,673.4M278.1,691.1L287.4,699.5M315.3,681.8L311.6,693L308.8,689.3M311.6,693L307.8,705.1M320.9,685.5L330.2,689.3M309.7,719L320.9,711.6L330.2,709.7M319,700.4L330.2,697.6M284.6,713.4L289.3,711.6L295.8,712.5L293,719L288.3,719L284.6,713.4M320.9,716.2L327.4,714.4L328.3,719.9L323.7,720.9L320.9,716.2M248.3,681.8L261.4,678.1L268.8,676.2M249.3,687.4L259.5,689.3L266,687.4L269.7,691.1M245.6,690.2L253.9,698.5L263.2,702.3L266.9,696.7L276.2,696.7M253.9,698.5L255.8,707.8L250.2,716.2M263.2,702.3L261.4,711.6L263.2,719" fill="none" stroke="#fff" stroke-opacity="0.5" stroke-width="0.8" stroke-linejoin="round"/>
<clipPath id="c16"><rect x="440" y="440" width="200" height="200"/></clipPath>
<g stroke-linejoin="round" stroke-width="1.2" clip-path="url(#c16)">
<polygon points="514.5,525.1 525.1,521.9 531.5,524 533.6,535.7 525.1,538.9 516.6,535.7" fill="#979797" stroke="#979797"/>
<polygon points="588.9,531.5 597.4,530.4 598.5,545.3 591.1,545.3" fill="#979797" stroke="#979797"/>
<polygon points="538.9,527.2 547.4,526.2 548.5,533.6 543.2,536.8" fill="#cdcdcd" stroke="#cdcdcd"/>
<polygon points="556,531.5 562.3,529.4 566.6,533.6 565.5,540 558.1,541.1" fill="#cdcdcd" stroke="#cdcdcd"/>
</g>
<path d="M514.5,525.1L525.1,521.9L531.5,524L533.6,535.7L525.1,538.9L516.6,535.7L514.5,525.1M588.9,531.5L597.4,530.4L598.5,545.3L591.1,545.3L588.9,531.5M538.9,527.2L547.4,526.2L548.5,533.6L543.2,536.8L538.9,527.2M556,531.5L562.3,529.4L566.6,533.6L565.5,540L558.1,541.1L556,531.5M514.5,525.1L525.1,521.9L531.5,524L535.7,518.7M533.6,535.7L533.6,542.1L536.8,550.6L540,547.4L550.6,546.4L556,533.6L559.1,525.1L567.7,520.9M550.6,546.4L558.1,554.9L569.8,550.6L580.4,550.6L581.5,540L588.9,531.5M506,559.1L513.4,546.4L516.6,540L525.1,538.9M536.8,550.6L529.4,556L527.2,567.7L521.9,576.2M558.1,554.9L554.9,560.2L563.4,569.8L556,576.2L556,580.4M580.4,550.6L584.7,565.5L580.4,571.9L586.8,576.2L581.5,586.8M584.7,565.5L591.1,571.9L593.2,565.5L601.7,567.7L610.2,559.1M469.8,514.5L484.7,523L488.9,531.5L484.7,542.1L493.2,550.6M467.7,516.6L465.5,529.4L474,533.6L480.4,529.4L479.4,524L475.1,525.1M461.3,567.7L471.9,576.2L488.9,588.9M494.3,576.2L503.8,571.9L509.1,567.7M452.8,546.4L469.8,550.6L471.9,559.1L467.7,567.7M515.5,498.5L523,501.7L533.6,497.4L546.4,500.6L552.8,508.1M514.5,525.1L513.4,518.7L515.5,510.2L515.5,498.5" fill="none" stroke="#fff" stroke-opacity="0.5" stroke-width="0.8" stroke-linejoin="round"/>
<clipPath id="c17"><rect x="230" y="500" width="170.004" height="139.972"/></clipPath>
<g stroke-linejoin="round" stroke-width="1.2" clip-path="url(#c17)">
<polygon points="288,552.7 300.2,549.2 302,544.8 308.2,542.1 310.8,534.2 314.3,539.5 321.3,543.9 325.7,558 319.6,558 312.5,555.3 305.5,555.3 303.8,566.7 299.4,563.2 292.3,569.4 288.8,559.7" fill="#979797" stroke="#979797"/>
</g>
<path d="M288,552.7L300.2,549.2L302,544.8L308.2,542.1L310.8,534.2L314.3,539.5L321.3,543.9L325.7,558L319.6,558L312.5,555.3L305.5,555.3L303.8,566.7L299.4,563.2L292.3,569.4L288.8,559.7L288,552.7M272.1,563.2L277.4,577.3L288,586.1L295,582.5L300.2,584.3M277.4,577.3L261.6,587.8L256.3,598.3M288,586.1L289.7,598.3L296.7,601.9M256.3,598.3L270.4,601.9L279.2,614.2L273.9,622.9L277.4,640M289.7,598.3L280.9,612.4L279.2,614.2M296.7,601.9L303.8,621.2L307.3,622.9M252.8,615.9L261.6,626.4L267.8,640M352.9,589.6L360,586.1L363.5,594.8L370.5,612.4M345.9,594.8L352.9,589.6M345.9,594.8L349.4,605.4L349.4,614.2M330.1,614.2L335.4,622.9L344.2,615.9L347.7,626.4L342.4,633.5M344.2,615.9L349.4,614.2L356.4,622.9L363.5,621.2L368.7,612.4L375.8,621.2" fill="none" stroke="#fff" stroke-opacity="0.5" stroke-width="0.8" stroke-linejoin="round"/>
<clipPath id="c18"><rect x="540" y="600" width="99.9617" height="120.005"/></clipPath>
<g stroke-linejoin="round" stroke-width="1.2" clip-path="url(#c18)">
<polygon points="578.3,620.4 587.2,612.1 594.9,610.9 600.6,608.3 606.4,614.7 605.1,617.9 608.9,624.3 605.7,627.4 605.1,630.6 602.6,631.9 594.9,633.4 584.7,634.5 584.7,631.9 581.5,625.5 575.1,619.8" fill="#adadad" stroke="#adadad"/>
<polygon points="545.7,618.5 552.8,608.9 559.1,604.5 563.6,604.5 568.7,612.8 570,620.4 567.4,627.4 556.6,632.6 552.1,635.1 545.1,637 540,639.6 540,635.7 542.6,633.8" fill="#adadad" stroke="#adadad"/>
<polygon points="568.1,653.6 574.5,649.8 582.1,647.9 582.8,647.2 586.6,652.3 591.7,651.1 595.5,654.3 598.7,653.6 600,651.1 603.8,647.2 609.6,654.9 623,654.9 623,680.4 617.9,682.3 611.5,679.2 609.6,676.6 601.9,678.5 593.6,674 591.7,669.6 584,670.9 580.9,668.9 574.5,672.1 569.4,670.9 568.7,662.6 567.4,658.7 563.6,662.6 564.3,668.9 569.4,670.9" fill="#adadad" stroke="#adadad"/>
<polygon points="563.6,676 564.3,668.9 569.4,670.9 574.5,672.1 580.9,668.9 584,670.9 591.7,669.6 593.6,674 601.9,678.5 600.6,684.3 596.2,685.5 596.8,689.4 593.6,691.9 598.1,695.1 598.7,699.6 594.3,703.4 591.1,709.2 582.1,706.6 573.2,702.1 570,701.5 564.9,693.2 565.5,688.1 561.1,681.7" fill="#adadad" stroke="#adadad"/>
<polygon points="601.9,678.5 609.6,676.6 611.5,679.2 617.9,682.3 623,680.4 623,720 590.4,720 589.8,713 591.1,709.2 594.3,703.4 598.7,699.6 598.1,695.1 593.6,691.9 596.8,689.4 596.2,685.5 600.6,684.3" fill="#adadad" stroke="#adadad"/>
<polygon points="559.1,600 598.7,600 600.6,608.3 594.9,610.9 587.2,612.1 578.3,620.4 575.1,619.8 570,620.4 568.7,612.8 563.6,604.5 559.1,604.5" fill="#979797" stroke="#979797"/>
<polygon points="540,612.1 545.7,615.3 552.8,608.9 545.7,618.5 542.6,633.8 540,635.7" fill="#979797" stroke="#979797"/>
<polygon points="603.8,600 616.6,600 611.5,610.2" fill="#cdcdcd" stroke="#cdcdcd"/>
<polygon points="540,707.2 548.9,706 554,698.9 564.9,693.2 570,701.5 573.2,702.1 582.1,706.6 591.1,709.2 589.8,713 590.4,720 540,720" fill="#979797" stroke="#979797"/>
<polygon points="597.4,666.4 602.6,661.9 610.9,666.4 610.2,669.6 606.4,667.7 602.6,671.5" fill="#cdcdcd" stroke="#cdcdcd"/>
<polygon points="578.9,690.6 585.3,685.5 588.5,690 583.4,694.5" fill="#cdcdcd" stroke="#cdcdcd"/>
<polygon points="540,709.8 545.1,711.1 546.4,720 540,720" fill="#adadad" stroke="#adadad"/>
<polygon points="540,639.6 545.1,637 552.1,635.1 556.6,632.6 567.4,627.4 570,620.4 575.1,619.8 581.5,625.5 584.7,631.9 584.7,634.5 579.6,636.4 580.9,640.9 582.1,647.9 574.5,649.8 568.1,653.6 567.4,658.7 563.6,662.6 564.3,668.9 552.8,671.5 550.9,662.6 548.9,656.2 543.8,651.1 540,646" fill="#7fae84" stroke="#7fae84"/>
<polygon points="580.2,600 587.9,600 584.7,603.2" fill="#d9a07b" stroke="#d9a07b"/>
<polygon points="540,646 543.8,651.1 548.9,656.2 550.9,662.6 552.8,671.5 564.3,668.9 563.6,676 561.1,681.7 565.5,688.1 564.9,693.2 554,698.9 548.9,706 540,707.2" fill="#d9a07b" stroke="#d9a07b"/>
<polygon points="540,600 559.1,600 559.1,604.5 552.8,608.9 545.7,615.3 540,612.1" fill="#ff8212" stroke="#ff8212"/>
<polygon points="587.2,720 591.1,717.5 596.2,718.1 601.3,720" fill="#ff8212" stroke="#ff8212"/>
<polygon points="606.4,720 607.7,713.6 611.5,720" fill="#ff8212" stroke="#ff8212"/>
<polygon points="579.6,636.4 584.7,634.5 594.9,633.4 602.6,631.9 605.1,630.6 605.7,627.4 609.6,624.9 623,630.6 623,654.9 609.6,654.9 603.8,647.2 600,651.1 598.7,653.6 595.5,654.3 591.7,651.1 586.6,652.3 582.8,647.2 580.9,640.9" fill="#1e7d3c" stroke="#1e7d3c"/>
<polygon points="557.9,638.3 568.1,635.1 570,638.9 563.6,644.7" fill="#cdcdcd" stroke="#cdcdcd"/>
<polygon points="598.7,600 603.8,600 611.5,610.2 616.6,600 640,600 640,720 623,720 623,630.6 609.6,624.9 608.9,624.3 605.1,617.9 606.4,614.7 600.6,608.3" fill="#ffffff" stroke="#ffffff"/>
</g>
<path d="M578.3,620.4L587.2,612.1L594.9,610.9L600.6,608.3L606.4,614.7L605.1,617.9L608.9,624.3L605.7,627.4L605.1,630.6L602.6,631.9L594.9,633.4L584.7,634.5L584.7,631.9L581.5,625.5L575.1,619.8L578.3,620.4M545.7,618.5L552.8,608.9L559.1,604.5L563.6,604.5L568.7,612.8L570,620.4L567.4,627.4L556.6,632.6L552.1,635.1L545.1,637L540,639.6M540,635.7L542.6,633.8L545.7,618.5M568.1,653.6L574.5,649.8L582.1,647.9L582.8,647.2L586.6,652.3L591.7,651.1L595.5,654.3L598.7,653.6L600,651.1L603.8,647.2L609.6,654.9L623,654.9L623,680.4L617.9,682.3L611.5,679.2L609.6,676.6L601.9,678.5L593.6,674L591.7,669.6L584,670.9L580.9,668.9L574.5,672.1L569.4,670.9L568.7,662.6L567.4,658.7L563.6,662.6L564.3,668.9L569.4,670.9L568.1,653.6M563.6,676L564.3,668.9L569.4,670.9L574.5,672.1L580.9,668.9L584,670.9L591.7,669.6L593.6,674L601.9,678.5L600.6,684.3L596.2,685.5L596.8,689.4L593.6,691.9L598.1,695.1L598.7,699.6L594.3,703.4L591.1,709.2L582.1,706.6L573.2,702.1L570,701.5L564.9,693.2L565.5,688.1L561.1,681.7L563.6,676M601.9,678.5L609.6,676.6L611.5,679.2L617.9,682.3L623,680.4L623,720M590.4,720L589.8,713L591.1,709.2L594.3,703.4L598.7,699.6L598.1,695.1L593.6,691.9L596.8,689.4L596.2,685.5L600.6,684.3L601.9,678.5M559.1,600M598.7,600L600.6,608.3L594.9,610.9L587.2,612.1L578.3,620.4L575.1,619.8L570,620.4L568.7,612.8L563.6,604.5L559.1,604.5L559.1,600M540,612.1L545.7,615.3L552.8,608.9L545.7,618.5L542.6,633.8L540,635.7M540,612.1M603.8,600M616.6,600L611.5,610.2L603.8,600M540,707.2L548.9,706L554,698.9L564.9,693.2L570,701.5L573.2,702.1L582.1,706.6L591.1,709.2L589.8,713L590.4,720M540,720M540,707.2M597.4,666.4L602.6,661.9L610.9,666.4L610.2,669.6L606.4,667.7L602.6,671.5L597.4,666.4M578.9,690.6L585.3,685.5L588.5,690L583.4,694.5L578.9,690.6M540,709.8L545.1,711.1L546.4,720M540,720M540,709.8M540,639.6L545.1,637L552.1,635.1L556.6,632.6L567.4,627.4L570,620.4L575.1,619.8L581.5,625.5L584.7,631.9L584.7,634.5L579.6,636.4L580.9,640.9L582.1,647.9L574.5,649.8L568.1,653.6L567.4,658.7L563.6,662.6L564.3,668.9L552.8,671.5L550.9,662.6L548.9,656.2L543.8,651.1L540,646M540,639.6M580.2,600M587.9,600L584.7,603.2L580.2,600M540,646L543.8,651.1L548.9,656.2L550.9,662.6L552.8,671.5L564.3,668.9L563.6,676L561.1,681.7L565.5,688.1L564.9,693.2L554,698.9L548.9,706L540,707.2M540,646M540,600M559.1,600L559.1,604.5L552.8,608.9L545.7,615.3L540,612.1M540,600M587.2,720L591.1,717.5L596.2,718.1L601.3,720M587.2,720M606.4,720L607.7,713.6L611.5,720M606.4,720M579.6,636.4L584.7,634.5L594.9,633.4L602.6,631.9L605.1,630.6L605.7,627.4L609.6,624.9L623,630.6L623,654.9L609.6,654.9L603.8,647.2L600,651.1L598.7,653.6L595.5,654.3L591.7,651.1L586.6,652.3L582.8,647.2L580.9,640.9L579.6,636.4M557.9,638.3L568.1,635.1L570,638.9L563.6,644.7L557.9,638.3" fill="none" stroke="#fff" stroke-opacity="0.5" stroke-width="0.8" stroke-linejoin="round"/>
<clipPath id="c19"><rect x="260" y="820" width="200" height="100"/></clipPath>
<g stroke-linejoin="round" stroke-width="1.2" clip-path="url(#c19)">
<polygon points="277.6,877.9 282.7,886.1 284.8,887.1 288.9,892.3 297.2,889.2 303.4,891.3 317.9,891.3 326.1,886.1 332.3,888.2 338.5,890.2 345.7,891.3 342.6,882 350.9,867.5 357.1,866.5 363.3,870.6 366.4,876.8 373.6,879.9 376.7,883 397.4,881 396.4,877.9 388.1,868.6 392.2,867.1 404.6,875.8 423.2,889.2 429.4,892.3 435.6,895.4 439.8,890.2 447,896.4 454.2,893.3 455.2,898.5 460,900.6 460,920 260,920 260,877.9" fill="#ffffff" stroke="#ffffff"/>
</g>
<path d="" fill="none" stroke="#fff" stroke-opacity="0.5" stroke-width="0.8" stroke-linejoin="round"/>
<clipPath id="c20"><rect x="520" y="690" width="200" height="250"/></clipPath>
<g stroke-linejoin="round" stroke-width="1.2" clip-path="url(#c20)">
<polygon points="520,888.1 521.3,897.4 529.3,910.7 542.6,906.8 549.3,910.7 559.9,900.1 571.9,894.8 575.9,888.1 591.8,888.9 607.8,885.5 615.7,884.1 614.4,876.2 621.1,873.5 622.4,876.2 626.4,874.8 637,876.2 642.3,881.5 647.7,876.2 654.3,870.9 653,866.9 661,873.5 659.6,886.8 675.6,896.1 676.9,886.8 680.9,881.5 676.9,873.5 668.9,868.2 672.9,857.6 664.9,846.9 720,846.9 720,940 520,940" fill="#ffffff" stroke="#ffffff"/>
</g>
<path d="" fill="none" stroke="#fff" stroke-opacity="0.5" stroke-width="0.8" stroke-linejoin="round"/>
<g fill="none" stroke="#fff" stroke-linejoin="round" stroke-linecap="round">
<polyline points="398.3,232.8 409.8,232.2 418.7,239.1" stroke-width="2"/>
<polyline points="365.1,297.9 367.6,299.1 379.1,303 385.5,304.2 393.2,308.1 394.5,311.9 391.9,318.3 386.8,319.6 377.9,317 374,310.6 370.2,304.2 365.1,297.9" stroke-width="2.2"/>
<polyline points="367.6,259.6 372.8,262.1 373.3,268.5 366.4,271 367.6,259.6" stroke-width="1.8"/>
<polyline points="536.6,309.3 546.8,308.1 554.5,297.9 572.3,294 580,287.6 591.5,283.8 597.9,285.1 613.2,291.5 625.9,296.6" stroke-width="2"/>
<polyline points="536.6,309.3 541.7,314.4 551.9,317 555.7,320.1" stroke-width="2"/>
<polyline points="620,294 626.4,297 640.2,298.3 645.5,293.4 651.9,290.2 655.1,290.2 659.4,288.1 665.7,289.1 667.9,283.8 672.1,281.7 673.2,274.3 680.6,266.8 683.8,263.6 686,258.3 691.3,261.5 693.4,267.9 705.1,267.9 713.6,266.8 714.7,275.3 708.3,284.9 716.8,283.8 725.3,277.4" stroke-width="2"/>
<polyline points="420,242.1 425.1,251.1 428.9,258.1 434,261.3 440.4,263.8" stroke-width="2"/>
<polyline points="440.4,258.7 443.6,260.6 447.4,260 453.8,253.6 464,247.9 468.5,247.2 467.9,251.1 466.6,253.6 470.4,256.8 467.9,261.3 465.3,264.5 466.6,268.3 471.1,271.5 473.6,276.6 471.1,280.4 467.2,279.8 460.9,274 457.7,277.2 454.5,277.9 450.6,275.3 447.4,277.2 443.6,271.5 443,266.4 441.1,262.6 440.4,258.7" stroke-width="2"/>
<polyline points="473.6,276.6 480,281.7 487.7,283.6 493.4,284.3 499.2,284.3 508.1,291.3 513.2,286.8 517,288.1 520.9,297 528.5,303.4 534.9,308.5 540,314.9" stroke-width="2"/>
<polyline points="493.4,284.3 494,276.6 501.7,274.7 506.8,266.4 508.1,263.2 511.9,261.3 513.8,256.2 511.9,250.4 506.8,248.5 503,242.1 501.7,235.7 504.3,231.3 509.4,224.9" stroke-width="2"/>
<polyline points="274,394.5 287.9,391.3 300.6,382.8 307,374.3 312.3,376.4 317.7,381.7 326.2,383.8 328.3,391.3 324,399.8 325.1,404 330.4,405.1 329.4,411.5 323,413.6 328.3,418.9 331.5,415.7 338.9,416.8 347.4,410.4 353.8,411.5 360.2,406.2 359.1,394.5 358.1,383.8 350.6,376.4 358.1,377.4 365.5,372.1 373,370 375.1,381.7 390,383.8" stroke-width="2"/>
<polyline points="390,477.4 385.7,481.7 381.5,488.1 375.1,490.2 369.8,490.2" stroke-width="2"/>
<polyline points="390,380.6 398.5,373.2 401.7,376.4 399.6,383.8 393.2,392.3 394.3,398.7 391.1,404 397.4,406.2 402.8,413.6 404.9,422.1 410.2,428.5 412.3,438.1 419.8,441.3 420.9,448.7 417.7,455.1 416.6,461.5" stroke-width="2"/>
<polyline points="390,475.3 396.4,477.4 402.8,480.6 411.3,468.9 416.6,461.5 424,462.6 431.5,464.7 435.7,467.9 430.4,478.5 433.6,488.1 440,496.6 437.9,490.2 444.3,487 451.7,486" stroke-width="2"/>
<polyline points="451.7,486 460.2,484.9 470.9,478.5 481.5,468.9 490,471.1 497.4,466.8 500.6,461.5 496.4,453 493.2,443.4 496.4,434.9 493.2,424.3 508.1,418.9 517.7,420 526.2,400.9 524,390.2 517.7,373.2 509.1,356.2 503.8,338.1 508.1,330.6 517.7,333.8 526.2,331.7 538.9,332.8 549.6,327.4 551.7,320" stroke-width="2"/>
<polyline points="500.6,461.5 509.1,462.6 514.5,466.8 519.8,478.5 521.9,484.9 528.3,486 538.9,487 547.4,490.2 552.8,497.7 548.5,505.1 552.8,512.6 554.9,517.9 570.9,516.8 575.1,520" stroke-width="2"/>
<polyline points="558.1,320 567.7,324.3 570.9,328.5 582.6,330.6 590,331.7" stroke-width="2"/>
<polyline points="590,330.6 593.2,332.8 595.3,341.3 594.3,349.8 592.1,359.4 593.2,367.9 599.6,371.1 601.7,383.8 598.5,391.3 599.6,399.8 597.4,406.2 602.8,412.6 607,417.9 617.7,422.1 623,422.1 625.1,420 635.7,421.1 637.9,424.3 646.4,427.4 652.8,432.8 658.1,432.8 661.3,447.7 653.8,456.2" stroke-width="2"/>
<polyline points="653.8,456.2 647.4,454 640,453 633.6,457.2 629.4,456.2 621.9,458.3 620.9,461.5 608.1,464.7 600.6,468.9 599.6,477.4 596.4,481.7 598.5,494.5 597.4,500.9 600.6,511.5 606,518.9 604.9,520" stroke-width="2"/>
<polyline points="653.8,456.2 658.1,460.4 663.4,466.8 664.5,478.5 669.8,480.6 675.1,477.4 685.7,482.8 697.4,481.7 709.1,479.6 717.7,477.4 719.8,468.9 726.2,462.6 736.8,464.7 749.6,458.3 761.3,456.2" stroke-width="2"/>
<polyline points="654.9,356.2 663.4,351.9 668.7,348.7 670.9,349.8 676.2,351.9 681.5,360.4 684.7,359.4 686.8,367.9 692.1,371.1 688.9,378.5 685.7,381.7 681.5,377.4 671.9,376.4 668.7,378.5 664.5,376.4 653.8,378.5 650.6,373.2 652.8,365.7 651.7,361.5 654.9,356.2" stroke-width="2"/>
<polyline points="214.5,585.1 217.7,589.4 226.2,587.2 240,585.1 241.1,577.7 248.5,576.6 249.6,571.3 258.1,568.1 262.3,561.7 270.9,560.6 282.6,556.4 288.9,552.1 299.6,550 303.8,540.4 311.3,536.2 313.4,533 314.5,538.3 320.9,545.7 326.2,557.4 332.6,558.5" stroke-width="2"/>
<polyline points="332.6,558.5 331.5,570.2 324,576.6 323,587.2 328.3,595.7 330.4,604.3 321.9,608.1" stroke-width="2"/>
<polyline points="483.6,589.4 488.9,590.4 490,594.7 497.4,595.7 498.5,607.4 503.8,610.6 510.2,608.5 514.5,603.2 506,600 504.9,596.8 512.3,593.6 519.8,591.5 525.1,594.7 531.5,595.7 536.8,604.3 542.1,602.1 541.1,584 547.4,578.7 550.6,585.1 554.9,591.5 561.3,593.6 577.2,593.6 582.6,589.4 577.2,580.9 581.5,570.2 590,568.1" stroke-width="2"/>
<polyline points="575.1,520 582.6,522.3 590,525.1" stroke-width="2"/>
<polyline points="598.5,480 597.4,492.8 601.7,513 606,519.4 616.6,517.9 623,523.6 630.4,532.1 618.7,538.5 612.3,542.8 603.8,543.8 607,552.3 604.9,557.7 611.3,561.9 600.6,570.4 594.3,571.5 590,571.5" stroke-width="2"/>
<polyline points="590,592.8 596.4,596 599.6,603.4" stroke-width="2"/>
<polyline points="352.1,690 353.2,698.5 350,708.1 344.7,715.5 341.5,726.2 338.3,735.7 335.1,741.1" stroke-width="2"/>
<polyline points="373.4,690 377.7,696.4 384,693.2 381.9,690" stroke-width="2"/>
<polyline points="453.4,687.7 459.8,682.3 463,683.4 466.2,698.3 464,702.8 472.6,724 471.5,729.4 480,735.7 486.4,746.4 488.5,758.1 486.4,767.7 490.6,771.9 483.2,776.2 481.1,773 475.7,774 477.9,779.4 478.9,785.7 476.8,792.1 471.5,794.3 461.9,798.5 455.5,804.9 458.7,815.5 464,826.2 466.2,838.9 465.1,851.7 463,866.6 461.9,875.1 465.1,879.4 461.9,890" stroke-width="2"/>
<polyline points="330,550.6 337.4,542.1 343.8,540 349.1,542.1 357.7,529.4 359.8,519.8 374.7,515.5 372.6,501.7 365.1,499.6 363,494.3 369.4,490" stroke-width="2"/>
<polyline points="452.3,490 457.7,499.6 466.2,504.9 469.4,513.4 466.2,516.6 470.4,528.3 457.7,529.4 459.8,541.1 453.4,547.4 451.3,564.5 457.7,563.4 460.9,574 452.3,587.9 440.6,590 438.5,596.4 439.6,600.6 423.6,611.3 422.6,623 400.2,618.7 391.7,621.9 390.6,630.4 393.8,648.5 392.8,660.2 396,675.1 400.2,677.2" stroke-width="2"/>
<polyline points="400.2,677.2 415.1,670.9 416.2,660.2 430,658.1 432.1,664.5 436.4,660.2 440.6,666.6 446,677.2 451.3,681.5 453.4,687.7" stroke-width="2"/>
<polyline points="400.2,677.2 393.8,679.4 383.2,685.7 381.1,690" stroke-width="2"/>
<polyline points="330,626.2 336.4,628.3 342.8,633.6 348.1,649.6 351.3,658.1 344.9,662.3 347,675.1 353.4,685.7 361.9,682.6 363,675.1 368.3,677.2 369.4,683.6 381.1,690" stroke-width="2"/>
<polyline points="460.9,574 468.3,575.1 476.8,581.5 483.2,590 490,592.1" stroke-width="2"/>
<polyline points="207.4,674.4 220.5,675.3 233.5,673.4 246.5,667.9 253,666.9 261.4,670.7 268.8,676.2 271.6,681.8 269.7,691.1 276.2,696.7 276.2,707.8 273.4,716.2" stroke-width="2"/>
<polyline points="306,623.2 311.6,618.6 315.3,618.6 319,613 322.7,608.4 326.4,605.6 330.2,604.5" stroke-width="2"/>
<polyline points="306,623.2 309.7,629.8 319,633.5 330.2,630.7" stroke-width="2"/>
<polyline points="579.6,636.4 584.7,634.5 594.9,633.4 602.6,631.9 605.1,630.6 605.7,627.4 609.6,624.9 623,630.6 623,654.9 609.6,654.9 603.8,647.2 600,651.1 598.7,653.6 595.5,654.3 591.7,651.1 586.6,652.3 582.8,647.2 580.9,640.9 579.6,636.4" stroke-width="1.6" stroke="#111"/>
</g>
<!--/MAP-->
</svg>

<svg id="hd" width="968" height="60" viewBox="0 0 968 60">
<rect x="11" y="12" width="173" height="35" fill="#4a4a4a"/>
<rect x="184" y="45" width="280" height="1.2" fill="#555"/>
<text x="20.5" y="38" font-family="Liberation Sans, sans-serif" font-weight="bold" font-size="24" fill="#fff" stroke="#fff" stroke-width="1.1" stroke-linejoin="round" textLength="154" lengthAdjust="spacingAndGlyphs">Coronavirus</text>
<text x="192.5" y="38" font-family="Liberation Sans, sans-serif" font-weight="bold" font-size="24" fill="#4a4a4a" stroke="#4a4a4a" stroke-width="1.1" stroke-linejoin="round" textLength="254" lengthAdjust="spacingAndGlyphs">Aktuelle Virus-Lage</text>
</svg>

<div id="intro"><span style="word-spacing:0.15px">Die Kennziffer zur "Obergrenze": In welchen Städten und Landkreisen gibt es im aktuellen Sieben-Tage-Zeitraum </span><b class="c35">mehr als 35</b>, <b class="c50">mehr als 50</b>,<br><b class="c100">mehr als 100</b>, <b class="c200">mehr als 200</b> Neuinfektionen je 100.000 Einwohner? Und in welchen Regionen sind es <b class="c500">mehr als 500</b>?</div>

<div id="legend">
<div class="t">7-Tage-<br>Inzidenz</div>
<div class="sw" style="top:42.5px;background:#e3cae0"></div><div class="lb" style="top:56.0px">500,0</div>
<div class="sw" style="top:65.1px;background:#e0cccf"></div><div class="lb" style="top:78.6px">200,0</div>
<div class="sw" style="top:87.6px;background:#e9cdd2"></div><div class="lb" style="top:101.1px">100,0</div>
<div class="sw" style="top:110.2px;background:#f8ced6"></div><div class="lb" style="top:123.7px">50,0</div>
<div class="sw" style="top:132.7px;background:#ffe4cf"></div><div class="lb" style="top:146.2px">35,0</div>
<div class="sw" style="top:155.2px;background:#f8ebe3"></div><div class="lb" style="top:168.8px">25,0</div>
<div class="sw" style="top:177.8px;background:#ebebeb"></div><div class="lb" style="top:191.3px">15,0</div>
<div class="sw" style="top:200.4px;background:#f0f0f0"></div><div class="lb" style="top:213.9px">5,0</div>
<div class="sw" style="top:222.9px;background:#f5f5f5"></div><div class="lb" style="top:236.4px">1,0</div>
<div class="sw" style="top:245.5px;background:#e4eee6"></div><div class="lb" style="top:259.0px;color:#222">0,1</div>
<div class="sw" style="top:268.0px;background:#1e7d3c"></div>
</div>

<div id="zoom"><div class="a"></div><div class="b"></div>
<svg width="35" height="73" style="position:absolute;left:0;top:0" viewBox="0 0 35 73"><path d="M11.2 19.5h12.6M17.5 13.2v12.6M11.2 56.5h12.6" stroke="#6a6a6a" stroke-width="2.4" fill="none"/></svg>
</div>

<div id="tip">
<div class="h">Landkreis Tirschenreuth</div>
<div class="s">- Bayern -</div>
<div class="n">Aktuelle Neuinfektionen: <b>0,0</b> Fälle</div>
<div class="n2">je 100.000 Einwohner</div>
<div class="hr"></div>
<div class="d">Das heißt: In den vergangenen sieben Tagen wurden vor Ort rund 0,0 Coronavirus-Ansteckungen je 100.000 Einwohner gemeldet (= 7-Tage-Inzidenz)</div>
</div>
</body>
</html>
